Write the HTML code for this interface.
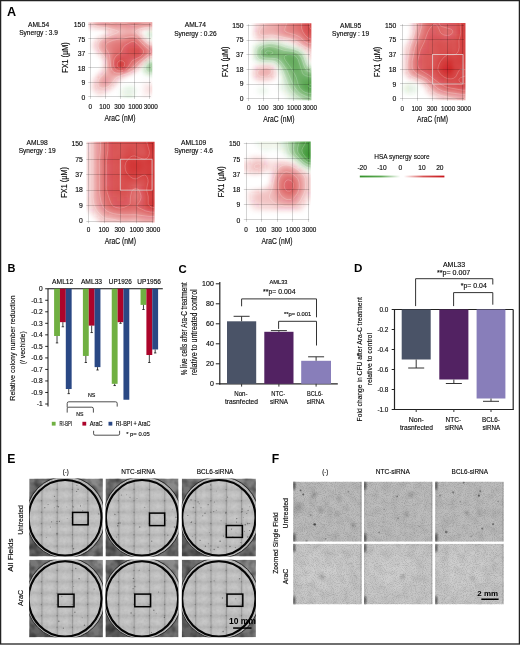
<!DOCTYPE html>
<html><head><meta charset="utf-8"><style>
html,body{margin:0;padding:0;background:#fff;}
svg{display:block;font-family:"Liberation Sans", sans-serif;will-change:transform;}
</style></head><body>
<svg width="520" height="645" viewBox="0 0 520 645">
<defs><clipPath id="clipAML54"><rect x="88.40" y="22.20" width="63.90" height="76.00"/></clipPath><clipPath id="clipAML74"><rect x="246.70" y="23.30" width="64.70" height="77.00"/></clipPath><clipPath id="clipAML95"><rect x="400.20" y="23.10" width="65.30" height="77.10"/></clipPath><clipPath id="clipAML98"><rect x="86.50" y="141.80" width="68.10" height="80.75"/></clipPath><clipPath id="clipAML109"><rect x="244.00" y="141.50" width="66.70" height="79.70"/></clipPath><linearGradient id="lg" x1="0" x2="1" y1="0" y2="0"><stop offset="0" stop-color="rgb(50,145,40)"/><stop offset="0.25" stop-color="rgb(95,170,85)"/><stop offset="0.48" stop-color="#fff"/><stop offset="0.52" stop-color="#fff"/><stop offset="0.75" stop-color="rgb(215,85,85)"/><stop offset="1" stop-color="rgb(200,20,25)"/></linearGradient><filter id="hmblur" x="-20%" y="-20%" width="140%" height="140%"><feGaussianBlur stdDeviation="2.0"/></filter><filter id="b1" x="-50%" y="-50%" width="200%" height="200%"><feGaussianBlur stdDeviation="1"/></filter><filter id="b2" x="-50%" y="-50%" width="200%" height="200%"><feGaussianBlur stdDeviation="2.2"/></filter><filter id="b05" x="-50%" y="-50%" width="200%" height="200%"><feGaussianBlur stdDeviation="0.5"/></filter><filter id="nz" x="0" y="0" width="100%" height="100%"><feTurbulence type="fractalNoise" baseFrequency="0.7" numOctaves="2" seed="7"/><feColorMatrix type="matrix" values="0 0 0 0 0 0 0 0 0 0 0 0 0 0 0 1.0 0 0 0 -0.35"/></filter><filter id="nzf" x="0" y="0" width="100%" height="100%"><feTurbulence type="fractalNoise" baseFrequency="1.1" numOctaves="1" seed="5"/><feColorMatrix type="matrix" values="0 0 0 0 0 0 0 0 0 0 0 0 0 0 0 1.6 0 0 0 -0.7"/></filter><filter id="b6" x="-50%" y="-50%" width="200%" height="200%"><feGaussianBlur stdDeviation="6"/></filter><filter id="nz3" x="0" y="0" width="100%" height="100%"><feTurbulence type="fractalNoise" baseFrequency="0.35" numOctaves="2" seed="11"/><feColorMatrix type="matrix" values="0 0 0 0 0 0 0 0 0 0 0 0 0 0 0 1.0 0 0 0 -0.38"/></filter><filter id="nz2" x="0" y="0" width="100%" height="100%"><feTurbulence type="fractalNoise" baseFrequency="0.12" numOctaves="2" seed="3"/><feColorMatrix type="matrix" values="0 0 0 0 0 0 0 0 0 0 0 0 0 0 0 1.2 0 0 0 -0.45"/></filter><radialGradient id="tileg" cx="0.55" cy="0.5" r="0.6"><stop offset="0" stop-color="#fff" stop-opacity="0.2"/><stop offset="0.5" stop-color="#fff" stop-opacity="0.05"/><stop offset="1" stop-color="#000" stop-opacity="0.07"/></radialGradient><linearGradient id="dishbg" x1="1" y1="0" x2="0" y2="1"><stop offset="0" stop-color="#8e8e8e"/><stop offset="1" stop-color="#5e5e5e"/></linearGradient><clipPath id="dc10"><rect x="29.20" y="478.60" width="73.70" height="77.80"/></clipPath><clipPath id="di10"><ellipse cx="65.05" cy="517.80" rx="36.25" ry="37.60"/></clipPath><pattern id="tp10" patternUnits="userSpaceOnUse" x="41.45" y="489.50" width="15.3" height="11.35"><rect width="15.3" height="11.35" fill="url(#tileg)"/><rect width="1.1" height="11.35" fill="#000" fill-opacity="0.13"/><rect x="1.1" width="3" height="11.35" fill="#fff" fill-opacity="0.07"/></pattern><clipPath id="dc11"><rect x="105.50" y="478.60" width="73.00" height="77.80"/></clipPath><clipPath id="di11"><ellipse cx="142.00" cy="517.80" rx="35.90" ry="37.60"/></clipPath><pattern id="tp11" patternUnits="userSpaceOnUse" x="118.40" y="489.50" width="15.3" height="11.35"><rect width="15.3" height="11.35" fill="url(#tileg)"/><rect width="1.1" height="11.35" fill="#000" fill-opacity="0.13"/><rect x="1.1" width="3" height="11.35" fill="#fff" fill-opacity="0.07"/></pattern><clipPath id="dc12"><rect x="181.80" y="478.60" width="74.10" height="77.80"/></clipPath><clipPath id="di12"><ellipse cx="218.85" cy="517.80" rx="36.45" ry="37.60"/></clipPath><pattern id="tp12" patternUnits="userSpaceOnUse" x="195.25" y="489.50" width="15.3" height="11.35"><rect width="15.3" height="11.35" fill="url(#tileg)"/><rect width="1.1" height="11.35" fill="#000" fill-opacity="0.13"/><rect x="1.1" width="3" height="11.35" fill="#fff" fill-opacity="0.07"/></pattern><clipPath id="dc13"><rect x="29.20" y="559.80" width="73.70" height="77.50"/></clipPath><clipPath id="di13"><ellipse cx="65.05" cy="598.85" rx="36.25" ry="37.45"/></clipPath><pattern id="tp13" patternUnits="userSpaceOnUse" x="41.45" y="570.55" width="15.3" height="11.35"><rect width="15.3" height="11.35" fill="url(#tileg)"/><rect width="1.1" height="11.35" fill="#000" fill-opacity="0.13"/><rect x="1.1" width="3" height="11.35" fill="#fff" fill-opacity="0.07"/></pattern><clipPath id="dc14"><rect x="105.50" y="559.80" width="73.00" height="77.50"/></clipPath><clipPath id="di14"><ellipse cx="142.00" cy="598.85" rx="35.90" ry="37.45"/></clipPath><pattern id="tp14" patternUnits="userSpaceOnUse" x="118.40" y="570.55" width="15.3" height="11.35"><rect width="15.3" height="11.35" fill="url(#tileg)"/><rect width="1.1" height="11.35" fill="#000" fill-opacity="0.13"/><rect x="1.1" width="3" height="11.35" fill="#fff" fill-opacity="0.07"/></pattern><clipPath id="dc15"><rect x="181.80" y="559.80" width="74.10" height="77.50"/></clipPath><clipPath id="di15"><ellipse cx="218.85" cy="598.85" rx="36.45" ry="37.45"/></clipPath><pattern id="tp15" patternUnits="userSpaceOnUse" x="195.25" y="570.55" width="15.3" height="11.35"><rect width="15.3" height="11.35" fill="url(#tileg)"/><rect width="1.1" height="11.35" fill="#000" fill-opacity="0.13"/><rect x="1.1" width="3" height="11.35" fill="#fff" fill-opacity="0.07"/></pattern><clipPath id="fc30"><rect x="293.20" y="481.60" width="68.60" height="60.10"/></clipPath><clipPath id="fc40"><rect x="293.20" y="543.80" width="68.60" height="60.60"/></clipPath><clipPath id="fc31"><rect x="364.10" y="481.60" width="68.50" height="60.10"/></clipPath><clipPath id="fc41"><rect x="364.10" y="543.80" width="68.50" height="60.60"/></clipPath><clipPath id="fc32"><rect x="435.20" y="481.60" width="68.60" height="60.10"/></clipPath><clipPath id="fc42"><rect x="435.20" y="543.80" width="68.60" height="60.60"/></clipPath></defs>
<rect width="520" height="645" fill="#fff"/>
<g clip-path="url(#clipAML54)"><g fill="rgb(206, 30, 32)" filter="url(#hmblur)"><rect x="84.5" y="18.4" width="3.7" height="3.6" fill-opacity="0.21"/><rect x="88.0" y="18.4" width="3.7" height="3.6" fill-opacity="0.22"/><rect x="91.6" y="18.4" width="3.7" height="3.6" fill-opacity="0.30"/><rect x="95.2" y="18.4" width="3.7" height="3.6" fill-opacity="0.41"/><rect x="98.7" y="18.4" width="3.7" height="3.6" fill-opacity="0.46"/><rect x="102.3" y="18.4" width="3.7" height="3.6" fill-opacity="0.47"/><rect x="105.8" y="18.4" width="3.7" height="3.6" fill-opacity="0.49"/><rect x="109.4" y="18.4" width="3.7" height="3.6" fill-opacity="0.52"/><rect x="113.0" y="18.4" width="3.7" height="3.6" fill-opacity="0.53"/><rect x="116.5" y="18.4" width="3.7" height="3.6" fill-opacity="0.52"/><rect x="120.1" y="18.4" width="3.7" height="3.6" fill-opacity="0.51"/><rect x="123.7" y="18.4" width="3.7" height="3.6" fill-opacity="0.51"/><rect x="127.2" y="18.4" width="3.7" height="3.6" fill-opacity="0.53"/><rect x="130.8" y="18.4" width="3.7" height="3.6" fill-opacity="0.56"/><rect x="134.4" y="18.4" width="3.7" height="3.6" fill-opacity="0.57"/><rect x="137.9" y="18.4" width="3.7" height="3.6" fill-opacity="0.55"/><rect x="141.5" y="18.4" width="3.7" height="3.6" fill-opacity="0.53"/><rect x="145.0" y="18.4" width="3.7" height="3.6" fill-opacity="0.53"/><rect x="148.6" y="18.4" width="3.7" height="3.6" fill-opacity="0.54"/><rect x="152.2" y="18.4" width="3.7" height="3.6" fill-opacity="0.54"/><rect x="84.5" y="21.9" width="3.7" height="3.6" fill-opacity="0.20"/><rect x="88.0" y="21.9" width="3.7" height="3.6" fill-opacity="0.21"/><rect x="91.6" y="21.9" width="3.7" height="3.6" fill-opacity="0.29"/><rect x="95.2" y="21.9" width="3.7" height="3.6" fill-opacity="0.39"/><rect x="98.7" y="21.9" width="3.7" height="3.6" fill-opacity="0.44"/><rect x="102.3" y="21.9" width="3.7" height="3.6" fill-opacity="0.45"/><rect x="105.8" y="21.9" width="3.7" height="3.6" fill-opacity="0.47"/><rect x="109.4" y="21.9" width="3.7" height="3.6" fill-opacity="0.50"/><rect x="113.0" y="21.9" width="3.7" height="3.6" fill-opacity="0.51"/><rect x="116.5" y="21.9" width="3.7" height="3.6" fill-opacity="0.51"/><rect x="120.1" y="21.9" width="3.7" height="3.6" fill-opacity="0.50"/><rect x="123.7" y="21.9" width="3.7" height="3.6" fill-opacity="0.50"/><rect x="127.2" y="21.9" width="3.7" height="3.6" fill-opacity="0.52"/><rect x="130.8" y="21.9" width="3.7" height="3.6" fill-opacity="0.55"/><rect x="134.4" y="21.9" width="3.7" height="3.6" fill-opacity="0.56"/><rect x="137.9" y="21.9" width="3.7" height="3.6" fill-opacity="0.53"/><rect x="141.5" y="21.9" width="3.7" height="3.6" fill-opacity="0.51"/><rect x="145.0" y="21.9" width="3.7" height="3.6" fill-opacity="0.51"/><rect x="148.6" y="21.9" width="3.7" height="3.6" fill-opacity="0.52"/><rect x="152.2" y="21.9" width="3.7" height="3.6" fill-opacity="0.52"/><rect x="84.5" y="25.4" width="3.7" height="3.6" fill-opacity="0.10"/><rect x="88.0" y="25.4" width="3.7" height="3.6" fill-opacity="0.11"/><rect x="91.6" y="25.4" width="3.7" height="3.6" fill-opacity="0.16"/><rect x="95.2" y="25.4" width="3.7" height="3.6" fill-opacity="0.23"/><rect x="98.7" y="25.4" width="3.7" height="3.6" fill-opacity="0.27"/><rect x="102.3" y="25.4" width="3.7" height="3.6" fill-opacity="0.29"/><rect x="105.8" y="25.4" width="3.7" height="3.6" fill-opacity="0.32"/><rect x="109.4" y="25.4" width="3.7" height="3.6" fill-opacity="0.36"/><rect x="113.0" y="25.4" width="3.7" height="3.6" fill-opacity="0.39"/><rect x="116.5" y="25.4" width="3.7" height="3.6" fill-opacity="0.40"/><rect x="120.1" y="25.4" width="3.7" height="3.6" fill-opacity="0.40"/><rect x="123.7" y="25.4" width="3.7" height="3.6" fill-opacity="0.41"/><rect x="127.2" y="25.4" width="3.7" height="3.6" fill-opacity="0.43"/><rect x="130.8" y="25.4" width="3.7" height="3.6" fill-opacity="0.43"/><rect x="134.4" y="25.4" width="3.7" height="3.6" fill-opacity="0.41"/><rect x="137.9" y="25.4" width="3.7" height="3.6" fill-opacity="0.37"/><rect x="141.5" y="25.4" width="3.7" height="3.6" fill-opacity="0.33"/><rect x="145.0" y="25.4" width="3.7" height="3.6" fill-opacity="0.29"/><rect x="148.6" y="25.4" width="3.7" height="3.6" fill-opacity="0.28"/><rect x="152.2" y="25.4" width="3.7" height="3.6" fill-opacity="0.27"/><rect x="105.8" y="28.9" width="3.7" height="3.6" fill-opacity="0.12"/><rect x="109.4" y="28.9" width="3.7" height="3.6" fill-opacity="0.20"/><rect x="113.0" y="28.9" width="3.7" height="3.6" fill-opacity="0.24"/><rect x="116.5" y="28.9" width="3.7" height="3.6" fill-opacity="0.27"/><rect x="120.1" y="28.9" width="3.7" height="3.6" fill-opacity="0.30"/><rect x="123.7" y="28.9" width="3.7" height="3.6" fill-opacity="0.33"/><rect x="127.2" y="28.9" width="3.7" height="3.6" fill-opacity="0.34"/><rect x="130.8" y="28.9" width="3.7" height="3.6" fill-opacity="0.31"/><rect x="134.4" y="28.9" width="3.7" height="3.6" fill-opacity="0.26"/><rect x="137.9" y="28.9" width="3.7" height="3.6" fill-opacity="0.17"/><rect x="102.3" y="32.5" width="3.7" height="3.6" fill-opacity="0.04"/><rect x="105.8" y="32.5" width="3.7" height="3.6" fill-opacity="0.15"/><rect x="109.4" y="32.5" width="3.7" height="3.6" fill-opacity="0.23"/><rect x="113.0" y="32.5" width="3.7" height="3.6" fill-opacity="0.28"/><rect x="116.5" y="32.5" width="3.7" height="3.6" fill-opacity="0.31"/><rect x="120.1" y="32.5" width="3.7" height="3.6" fill-opacity="0.34"/><rect x="123.7" y="32.5" width="3.7" height="3.6" fill-opacity="0.37"/><rect x="127.2" y="32.5" width="3.7" height="3.6" fill-opacity="0.39"/><rect x="130.8" y="32.5" width="3.7" height="3.6" fill-opacity="0.39"/><rect x="134.4" y="32.5" width="3.7" height="3.6" fill-opacity="0.33"/><rect x="137.9" y="32.5" width="3.7" height="3.6" fill-opacity="0.19"/><rect x="95.2" y="36.0" width="3.7" height="3.6" fill-opacity="0.04"/><rect x="98.7" y="36.0" width="3.7" height="3.6" fill-opacity="0.16"/><rect x="102.3" y="36.0" width="3.7" height="3.6" fill-opacity="0.26"/><rect x="105.8" y="36.0" width="3.7" height="3.6" fill-opacity="0.33"/><rect x="109.4" y="36.0" width="3.7" height="3.6" fill-opacity="0.39"/><rect x="113.0" y="36.0" width="3.7" height="3.6" fill-opacity="0.43"/><rect x="116.5" y="36.0" width="3.7" height="3.6" fill-opacity="0.45"/><rect x="120.1" y="36.0" width="3.7" height="3.6" fill-opacity="0.47"/><rect x="123.7" y="36.0" width="3.7" height="3.6" fill-opacity="0.49"/><rect x="127.2" y="36.0" width="3.7" height="3.6" fill-opacity="0.53"/><rect x="130.8" y="36.0" width="3.7" height="3.6" fill-opacity="0.56"/><rect x="134.4" y="36.0" width="3.7" height="3.6" fill-opacity="0.52"/><rect x="137.9" y="36.0" width="3.7" height="3.6" fill-opacity="0.38"/><rect x="141.5" y="36.0" width="3.7" height="3.6" fill-opacity="0.16"/><rect x="91.6" y="39.5" width="3.7" height="3.6" fill-opacity="0.05"/><rect x="95.2" y="39.5" width="3.7" height="3.6" fill-opacity="0.19"/><rect x="98.7" y="39.5" width="3.7" height="3.6" fill-opacity="0.30"/><rect x="102.3" y="39.5" width="3.7" height="3.6" fill-opacity="0.40"/><rect x="105.8" y="39.5" width="3.7" height="3.6" fill-opacity="0.47"/><rect x="109.4" y="39.5" width="3.7" height="3.6" fill-opacity="0.51"/><rect x="113.0" y="39.5" width="3.7" height="3.6" fill-opacity="0.54"/><rect x="116.5" y="39.5" width="3.7" height="3.6" fill-opacity="0.56"/><rect x="120.1" y="39.5" width="3.7" height="3.6" fill-opacity="0.58"/><rect x="123.7" y="39.5" width="3.7" height="3.6" fill-opacity="0.60"/><rect x="127.2" y="39.5" width="3.7" height="3.6" fill-opacity="0.65"/><rect x="130.8" y="39.5" width="3.7" height="3.6" fill-opacity="0.68"/><rect x="134.4" y="39.5" width="3.7" height="3.6" fill-opacity="0.65"/><rect x="137.9" y="39.5" width="3.7" height="3.6" fill-opacity="0.53"/><rect x="141.5" y="39.5" width="3.7" height="3.6" fill-opacity="0.35"/><rect x="145.0" y="39.5" width="3.7" height="3.6" fill-opacity="0.16"/><rect x="91.6" y="43.0" width="3.7" height="3.6" fill-opacity="0.11"/><rect x="95.2" y="43.0" width="3.7" height="3.6" fill-opacity="0.24"/><rect x="98.7" y="43.0" width="3.7" height="3.6" fill-opacity="0.36"/><rect x="102.3" y="43.0" width="3.7" height="3.6" fill-opacity="0.46"/><rect x="105.8" y="43.0" width="3.7" height="3.6" fill-opacity="0.53"/><rect x="109.4" y="43.0" width="3.7" height="3.6" fill-opacity="0.57"/><rect x="113.0" y="43.0" width="3.7" height="3.6" fill-opacity="0.60"/><rect x="116.5" y="43.0" width="3.7" height="3.6" fill-opacity="0.61"/><rect x="120.1" y="43.0" width="3.7" height="3.6" fill-opacity="0.64"/><rect x="123.7" y="43.0" width="3.7" height="3.6" fill-opacity="0.68"/><rect x="127.2" y="43.0" width="3.7" height="3.6" fill-opacity="0.72"/><rect x="130.8" y="43.0" width="3.7" height="3.6" fill-opacity="0.75"/><rect x="134.4" y="43.0" width="3.7" height="3.6" fill-opacity="0.73"/><rect x="137.9" y="43.0" width="3.7" height="3.6" fill-opacity="0.64"/><rect x="141.5" y="43.0" width="3.7" height="3.6" fill-opacity="0.51"/><rect x="145.0" y="43.0" width="3.7" height="3.6" fill-opacity="0.36"/><rect x="148.6" y="43.0" width="3.7" height="3.6" fill-opacity="0.26"/><rect x="152.2" y="43.0" width="3.7" height="3.6" fill-opacity="0.24"/><rect x="91.6" y="46.5" width="3.7" height="3.6" fill-opacity="0.09"/><rect x="95.2" y="46.5" width="3.7" height="3.6" fill-opacity="0.22"/><rect x="98.7" y="46.5" width="3.7" height="3.6" fill-opacity="0.35"/><rect x="102.3" y="46.5" width="3.7" height="3.6" fill-opacity="0.46"/><rect x="105.8" y="46.5" width="3.7" height="3.6" fill-opacity="0.53"/><rect x="109.4" y="46.5" width="3.7" height="3.6" fill-opacity="0.58"/><rect x="113.0" y="46.5" width="3.7" height="3.6" fill-opacity="0.61"/><rect x="116.5" y="46.5" width="3.7" height="3.6" fill-opacity="0.63"/><rect x="120.1" y="46.5" width="3.7" height="3.6" fill-opacity="0.67"/><rect x="123.7" y="46.5" width="3.7" height="3.6" fill-opacity="0.72"/><rect x="127.2" y="46.5" width="3.7" height="3.6" fill-opacity="0.77"/><rect x="130.8" y="46.5" width="3.7" height="3.6" fill-opacity="0.81"/><rect x="134.4" y="46.5" width="3.7" height="3.6" fill-opacity="0.80"/><rect x="137.9" y="46.5" width="3.7" height="3.6" fill-opacity="0.74"/><rect x="141.5" y="46.5" width="3.7" height="3.6" fill-opacity="0.64"/><rect x="145.0" y="46.5" width="3.7" height="3.6" fill-opacity="0.52"/><rect x="148.6" y="46.5" width="3.7" height="3.6" fill-opacity="0.43"/><rect x="152.2" y="46.5" width="3.7" height="3.6" fill-opacity="0.42"/><rect x="95.2" y="50.0" width="3.7" height="3.6" fill-opacity="0.14"/><rect x="98.7" y="50.0" width="3.7" height="3.6" fill-opacity="0.27"/><rect x="102.3" y="50.0" width="3.7" height="3.6" fill-opacity="0.39"/><rect x="105.8" y="50.0" width="3.7" height="3.6" fill-opacity="0.49"/><rect x="109.4" y="50.0" width="3.7" height="3.6" fill-opacity="0.57"/><rect x="113.0" y="50.0" width="3.7" height="3.6" fill-opacity="0.62"/><rect x="116.5" y="50.0" width="3.7" height="3.6" fill-opacity="0.65"/><rect x="120.1" y="50.0" width="3.7" height="3.6" fill-opacity="0.69"/><rect x="123.7" y="50.0" width="3.7" height="3.6" fill-opacity="0.73"/><rect x="127.2" y="50.0" width="3.7" height="3.6" fill-opacity="0.79"/><rect x="130.8" y="50.0" width="3.7" height="3.6" fill-opacity="0.84"/><rect x="134.4" y="50.0" width="3.7" height="3.6" fill-opacity="0.85"/><rect x="137.9" y="50.0" width="3.7" height="3.6" fill-opacity="0.80"/><rect x="141.5" y="50.0" width="3.7" height="3.6" fill-opacity="0.70"/><rect x="145.0" y="50.0" width="3.7" height="3.6" fill-opacity="0.59"/><rect x="148.6" y="50.0" width="3.7" height="3.6" fill-opacity="0.51"/><rect x="152.2" y="50.0" width="3.7" height="3.6" fill-opacity="0.50"/><rect x="98.7" y="53.5" width="3.7" height="3.6" fill-opacity="0.16"/><rect x="102.3" y="53.5" width="3.7" height="3.6" fill-opacity="0.29"/><rect x="105.8" y="53.5" width="3.7" height="3.6" fill-opacity="0.43"/><rect x="109.4" y="53.5" width="3.7" height="3.6" fill-opacity="0.56"/><rect x="113.0" y="53.5" width="3.7" height="3.6" fill-opacity="0.65"/><rect x="116.5" y="53.5" width="3.7" height="3.6" fill-opacity="0.70"/><rect x="120.1" y="53.5" width="3.7" height="3.6" fill-opacity="0.73"/><rect x="123.7" y="53.5" width="3.7" height="3.6" fill-opacity="0.75"/><rect x="127.2" y="53.5" width="3.7" height="3.6" fill-opacity="0.78"/><rect x="130.8" y="53.5" width="3.7" height="3.6" fill-opacity="0.81"/><rect x="134.4" y="53.5" width="3.7" height="3.6" fill-opacity="0.81"/><rect x="137.9" y="53.5" width="3.7" height="3.6" fill-opacity="0.75"/><rect x="141.5" y="53.5" width="3.7" height="3.6" fill-opacity="0.65"/><rect x="145.0" y="53.5" width="3.7" height="3.6" fill-opacity="0.50"/><rect x="148.6" y="53.5" width="3.7" height="3.6" fill-opacity="0.39"/><rect x="152.2" y="53.5" width="3.7" height="3.6" fill-opacity="0.38"/><rect x="102.3" y="57.0" width="3.7" height="3.6" fill-opacity="0.18"/><rect x="105.8" y="57.0" width="3.7" height="3.6" fill-opacity="0.37"/><rect x="109.4" y="57.0" width="3.7" height="3.6" fill-opacity="0.56"/><rect x="113.0" y="57.0" width="3.7" height="3.6" fill-opacity="0.70"/><rect x="116.5" y="57.0" width="3.7" height="3.6" fill-opacity="0.78"/><rect x="120.1" y="57.0" width="3.7" height="3.6" fill-opacity="0.80"/><rect x="123.7" y="57.0" width="3.7" height="3.6" fill-opacity="0.78"/><rect x="127.2" y="57.0" width="3.7" height="3.6" fill-opacity="0.75"/><rect x="130.8" y="57.0" width="3.7" height="3.6" fill-opacity="0.73"/><rect x="134.4" y="57.0" width="3.7" height="3.6" fill-opacity="0.68"/><rect x="137.9" y="57.0" width="3.7" height="3.6" fill-opacity="0.61"/><rect x="141.5" y="57.0" width="3.7" height="3.6" fill-opacity="0.46"/><rect x="145.0" y="57.0" width="3.7" height="3.6" fill-opacity="0.23"/><rect x="102.3" y="60.5" width="3.7" height="3.6" fill-opacity="0.11"/><rect x="105.8" y="60.5" width="3.7" height="3.6" fill-opacity="0.34"/><rect x="109.4" y="60.5" width="3.7" height="3.6" fill-opacity="0.56"/><rect x="113.0" y="60.5" width="3.7" height="3.6" fill-opacity="0.75"/><rect x="116.5" y="60.5" width="3.7" height="3.6" fill-opacity="0.87"/><rect x="120.1" y="60.5" width="3.7" height="3.6" fill-opacity="0.89"/><rect x="123.7" y="60.5" width="3.7" height="3.6" fill-opacity="0.82"/><rect x="127.2" y="60.5" width="3.7" height="3.6" fill-opacity="0.73"/><rect x="130.8" y="60.5" width="3.7" height="3.6" fill-opacity="0.64"/><rect x="134.4" y="60.5" width="3.7" height="3.6" fill-opacity="0.55"/><rect x="137.9" y="60.5" width="3.7" height="3.6" fill-opacity="0.42"/><rect x="141.5" y="60.5" width="3.7" height="3.6" fill-opacity="0.19"/><rect x="102.3" y="64.0" width="3.7" height="3.6" fill-opacity="0.12"/><rect x="105.8" y="64.0" width="3.7" height="3.6" fill-opacity="0.32"/><rect x="109.4" y="64.0" width="3.7" height="3.6" fill-opacity="0.54"/><rect x="113.0" y="64.0" width="3.7" height="3.6" fill-opacity="0.74"/><rect x="116.5" y="64.0" width="3.7" height="3.6" fill-opacity="0.90"/><rect x="120.1" y="64.0" width="3.7" height="3.6" fill-opacity="0.92"/><rect x="123.7" y="64.0" width="3.7" height="3.6" fill-opacity="0.82"/><rect x="127.2" y="64.0" width="3.7" height="3.6" fill-opacity="0.69"/><rect x="130.8" y="64.0" width="3.7" height="3.6" fill-opacity="0.56"/><rect x="134.4" y="64.0" width="3.7" height="3.6" fill-opacity="0.42"/><rect x="137.9" y="64.0" width="3.7" height="3.6" fill-opacity="0.22"/><rect x="102.3" y="67.5" width="3.7" height="3.6" fill-opacity="0.18"/><rect x="105.8" y="67.5" width="3.7" height="3.6" fill-opacity="0.33"/><rect x="109.4" y="67.5" width="3.7" height="3.6" fill-opacity="0.49"/><rect x="113.0" y="67.5" width="3.7" height="3.6" fill-opacity="0.66"/><rect x="116.5" y="67.5" width="3.7" height="3.6" fill-opacity="0.79"/><rect x="120.1" y="67.5" width="3.7" height="3.6" fill-opacity="0.80"/><rect x="123.7" y="67.5" width="3.7" height="3.6" fill-opacity="0.69"/><rect x="127.2" y="67.5" width="3.7" height="3.6" fill-opacity="0.54"/><rect x="130.8" y="67.5" width="3.7" height="3.6" fill-opacity="0.41"/><rect x="134.4" y="67.5" width="3.7" height="3.6" fill-opacity="0.26"/><rect x="98.7" y="71.0" width="3.7" height="3.6" fill-opacity="0.14"/><rect x="102.3" y="71.0" width="3.7" height="3.6" fill-opacity="0.25"/><rect x="105.8" y="71.0" width="3.7" height="3.6" fill-opacity="0.34"/><rect x="109.4" y="71.0" width="3.7" height="3.6" fill-opacity="0.42"/><rect x="113.0" y="71.0" width="3.7" height="3.6" fill-opacity="0.50"/><rect x="116.5" y="71.0" width="3.7" height="3.6" fill-opacity="0.54"/><rect x="120.1" y="71.0" width="3.7" height="3.6" fill-opacity="0.51"/><rect x="123.7" y="71.0" width="3.7" height="3.6" fill-opacity="0.40"/><rect x="127.2" y="71.0" width="3.7" height="3.6" fill-opacity="0.27"/><rect x="130.8" y="71.0" width="3.7" height="3.6" fill-opacity="0.15"/><rect x="95.2" y="74.5" width="3.7" height="3.6" fill-opacity="0.13"/><rect x="98.7" y="74.5" width="3.7" height="3.6" fill-opacity="0.26"/><rect x="102.3" y="74.5" width="3.7" height="3.6" fill-opacity="0.35"/><rect x="105.8" y="74.5" width="3.7" height="3.6" fill-opacity="0.39"/><rect x="109.4" y="74.5" width="3.7" height="3.6" fill-opacity="0.38"/><rect x="113.0" y="74.5" width="3.7" height="3.6" fill-opacity="0.34"/><rect x="116.5" y="74.5" width="3.7" height="3.6" fill-opacity="0.28"/><rect x="120.1" y="74.5" width="3.7" height="3.6" fill-opacity="0.20"/><rect x="123.7" y="74.5" width="3.7" height="3.6" fill-opacity="0.10"/><rect x="91.6" y="78.0" width="3.7" height="3.6" fill-opacity="0.07"/><rect x="95.2" y="78.0" width="3.7" height="3.6" fill-opacity="0.21"/><rect x="98.7" y="78.0" width="3.7" height="3.6" fill-opacity="0.34"/><rect x="102.3" y="78.0" width="3.7" height="3.6" fill-opacity="0.43"/><rect x="105.8" y="78.0" width="3.7" height="3.6" fill-opacity="0.43"/><rect x="109.4" y="78.0" width="3.7" height="3.6" fill-opacity="0.36"/><rect x="113.0" y="78.0" width="3.7" height="3.6" fill-opacity="0.25"/><rect x="116.5" y="78.0" width="3.7" height="3.6" fill-opacity="0.14"/><rect x="120.1" y="78.0" width="3.7" height="3.6" fill-opacity="0.03"/><rect x="91.6" y="81.5" width="3.7" height="3.6" fill-opacity="0.12"/><rect x="95.2" y="81.5" width="3.7" height="3.6" fill-opacity="0.25"/><rect x="98.7" y="81.5" width="3.7" height="3.6" fill-opacity="0.36"/><rect x="102.3" y="81.5" width="3.7" height="3.6" fill-opacity="0.43"/><rect x="105.8" y="81.5" width="3.7" height="3.6" fill-opacity="0.40"/><rect x="109.4" y="81.5" width="3.7" height="3.6" fill-opacity="0.30"/><rect x="113.0" y="81.5" width="3.7" height="3.6" fill-opacity="0.18"/><rect x="116.5" y="81.5" width="3.7" height="3.6" fill-opacity="0.05"/><rect x="141.5" y="81.5" width="3.7" height="3.6" fill-opacity="0.03"/><rect x="145.0" y="81.5" width="3.7" height="3.6" fill-opacity="0.05"/><rect x="148.6" y="81.5" width="3.7" height="3.6" fill-opacity="0.04"/><rect x="152.2" y="81.5" width="3.7" height="3.6" fill-opacity="0.04"/><rect x="88.0" y="85.0" width="3.7" height="3.6" fill-opacity="0.03"/><rect x="91.6" y="85.0" width="3.7" height="3.6" fill-opacity="0.13"/><rect x="95.2" y="85.0" width="3.7" height="3.6" fill-opacity="0.23"/><rect x="98.7" y="85.0" width="3.7" height="3.6" fill-opacity="0.31"/><rect x="102.3" y="85.0" width="3.7" height="3.6" fill-opacity="0.33"/><rect x="105.8" y="85.0" width="3.7" height="3.6" fill-opacity="0.29"/><rect x="109.4" y="85.0" width="3.7" height="3.6" fill-opacity="0.19"/><rect x="113.0" y="85.0" width="3.7" height="3.6" fill-opacity="0.05"/><rect x="141.5" y="85.0" width="3.7" height="3.6" fill-opacity="0.04"/><rect x="145.0" y="85.0" width="3.7" height="3.6" fill-opacity="0.10"/><rect x="148.6" y="85.0" width="3.7" height="3.6" fill-opacity="0.11"/><rect x="152.2" y="85.0" width="3.7" height="3.6" fill-opacity="0.12"/><rect x="91.6" y="88.5" width="3.7" height="3.6" fill-opacity="0.09"/><rect x="95.2" y="88.5" width="3.7" height="3.6" fill-opacity="0.18"/><rect x="98.7" y="88.5" width="3.7" height="3.6" fill-opacity="0.21"/><rect x="102.3" y="88.5" width="3.7" height="3.6" fill-opacity="0.19"/><rect x="105.8" y="88.5" width="3.7" height="3.6" fill-opacity="0.14"/><rect x="109.4" y="88.5" width="3.7" height="3.6" fill-opacity="0.04"/><rect x="141.5" y="88.5" width="3.7" height="3.6" fill-opacity="0.05"/><rect x="145.0" y="88.5" width="3.7" height="3.6" fill-opacity="0.11"/><rect x="148.6" y="88.5" width="3.7" height="3.6" fill-opacity="0.13"/><rect x="152.2" y="88.5" width="3.7" height="3.6" fill-opacity="0.13"/><rect x="95.2" y="92.0" width="3.7" height="3.6" fill-opacity="0.08"/><rect x="98.7" y="92.0" width="3.7" height="3.6" fill-opacity="0.11"/><rect x="102.3" y="92.0" width="3.7" height="3.6" fill-opacity="0.08"/><rect x="141.5" y="92.0" width="3.7" height="3.6" fill-opacity="0.04"/><rect x="145.0" y="92.0" width="3.7" height="3.6" fill-opacity="0.07"/><rect x="148.6" y="92.0" width="3.7" height="3.6" fill-opacity="0.07"/><rect x="152.2" y="92.0" width="3.7" height="3.6" fill-opacity="0.07"/><rect x="98.7" y="95.5" width="3.7" height="3.6" fill-opacity="0.03"/><rect x="141.5" y="95.5" width="3.7" height="3.6" fill-opacity="0.03"/><rect x="145.0" y="95.5" width="3.7" height="3.6" fill-opacity="0.03"/><rect x="141.5" y="99.0" width="3.7" height="3.6" fill-opacity="0.03"/><rect x="145.0" y="99.0" width="3.7" height="3.6" fill-opacity="0.02"/></g><g fill="rgb(50, 145, 40)" filter="url(#hmblur)"><rect x="148.6" y="28.9" width="3.7" height="3.6" fill-opacity="0.06"/><rect x="152.2" y="28.9" width="3.7" height="3.6" fill-opacity="0.07"/><rect x="145.0" y="32.5" width="3.7" height="3.6" fill-opacity="0.12"/><rect x="148.6" y="32.5" width="3.7" height="3.6" fill-opacity="0.22"/><rect x="152.2" y="32.5" width="3.7" height="3.6" fill-opacity="0.23"/><rect x="148.6" y="36.0" width="3.7" height="3.6" fill-opacity="0.11"/><rect x="152.2" y="36.0" width="3.7" height="3.6" fill-opacity="0.13"/><rect x="145.0" y="60.5" width="3.7" height="3.6" fill-opacity="0.11"/><rect x="148.6" y="60.5" width="3.7" height="3.6" fill-opacity="0.32"/><rect x="152.2" y="60.5" width="3.7" height="3.6" fill-opacity="0.34"/><rect x="145.0" y="64.0" width="3.7" height="3.6" fill-opacity="0.35"/><rect x="148.6" y="64.0" width="3.7" height="3.6" fill-opacity="0.50"/><rect x="152.2" y="64.0" width="3.7" height="3.6" fill-opacity="0.51"/><rect x="141.5" y="67.5" width="3.7" height="3.6" fill-opacity="0.14"/><rect x="145.0" y="67.5" width="3.7" height="3.6" fill-opacity="0.36"/><rect x="148.6" y="67.5" width="3.7" height="3.6" fill-opacity="0.48"/><rect x="152.2" y="67.5" width="3.7" height="3.6" fill-opacity="0.49"/><rect x="141.5" y="71.0" width="3.7" height="3.6" fill-opacity="0.03"/><rect x="145.0" y="71.0" width="3.7" height="3.6" fill-opacity="0.21"/><rect x="148.6" y="71.0" width="3.7" height="3.6" fill-opacity="0.29"/><rect x="152.2" y="71.0" width="3.7" height="3.6" fill-opacity="0.30"/><rect x="148.6" y="74.5" width="3.7" height="3.6" fill-opacity="0.04"/><rect x="152.2" y="74.5" width="3.7" height="3.6" fill-opacity="0.05"/><rect x="123.7" y="85.0" width="3.7" height="3.6" fill-opacity="0.03"/><rect x="127.2" y="85.0" width="3.7" height="3.6" fill-opacity="0.06"/><rect x="130.8" y="85.0" width="3.7" height="3.6" fill-opacity="0.05"/><rect x="120.1" y="88.5" width="3.7" height="3.6" fill-opacity="0.07"/><rect x="123.7" y="88.5" width="3.7" height="3.6" fill-opacity="0.12"/><rect x="127.2" y="88.5" width="3.7" height="3.6" fill-opacity="0.14"/><rect x="130.8" y="88.5" width="3.7" height="3.6" fill-opacity="0.13"/><rect x="134.4" y="88.5" width="3.7" height="3.6" fill-opacity="0.04"/><rect x="120.1" y="92.0" width="3.7" height="3.6" fill-opacity="0.07"/><rect x="123.7" y="92.0" width="3.7" height="3.6" fill-opacity="0.11"/><rect x="127.2" y="92.0" width="3.7" height="3.6" fill-opacity="0.12"/><rect x="130.8" y="92.0" width="3.7" height="3.6" fill-opacity="0.11"/><rect x="120.1" y="95.5" width="3.7" height="3.6" fill-opacity="0.03"/><rect x="123.7" y="95.5" width="3.7" height="3.6" fill-opacity="0.06"/><rect x="127.2" y="95.5" width="3.7" height="3.6" fill-opacity="0.08"/><rect x="130.8" y="95.5" width="3.7" height="3.6" fill-opacity="0.06"/><rect x="120.1" y="99.0" width="3.7" height="3.6" fill-opacity="0.03"/><rect x="123.7" y="99.0" width="3.7" height="3.6" fill-opacity="0.06"/><rect x="127.2" y="99.0" width="3.7" height="3.6" fill-opacity="0.07"/><rect x="130.8" y="99.0" width="3.7" height="3.6" fill-opacity="0.05"/></g><path d="M164.6 56.7L151.9 56.4L148.4 57.3L146.1 58.8L142.2 62.2L136.9 68.2L134.5 70.1L126.5 73.8L117.2 77.0L115.4 78.1L111.5 83.8L109.0 86.1L106.8 87.3L104.5 88.0L102.2 88.1L99.8 87.5L98.7 86.4L98.0 85.0L98.0 81.5L99.8 77.7L104.0 73.6L105.6 71.3L106.3 69.0L106.7 64.4L106.3 61.0L105.2 57.6L99.9 50.8L98.6 48.5L97.9 46.2L98.2 43.9L99.3 41.6L102.2 39.1L105.6 37.3L118.1 32.5L118.5 31.4L115.7 30.2L107.2 27.9L97.5 26.5L95.3 25.7L93.7 24.5L92.8 23.4L92.3 21.1L93.3 15.4L93.1 9.7M164.6 27.2L150.8 27.2L145.0 27.6L139.2 29.1L136.7 30.2L135.7 31.4L136.1 32.5L145.0 41.4L147.3 43.3L149.6 44.6L153.1 45.2L158.9 44.7L164.6 44.8M164.6 23.8L143.8 23.7L136.9 25.2L133.4 25.4L131.1 25.1L125.3 23.4L116.1 24.1L111.0 23.4L108.8 22.2L108.3 21.1L108.9 20.0L114.5 15.4L115.3 14.3L113.7 11.7L113.1 9.7M119.9 9.7L119.5 10.8L117.2 14.3L118.1 15.4L119.9 16.5L124.2 18.2L126.5 17.4L127.6 15.8L127.9 14.3L127.3 9.7M142.6 9.7L141.5 14.3L141.7 15.4L142.6 16.5L143.8 17.1L146.1 17.2L151.9 16.4L164.6 16.6M155.2 9.7L153.1 10.1L151.1 9.7M123.0 72.5L119.5 73.2L116.1 73.0L113.7 72.2L111.8 70.1L110.7 66.7L109.4 55.3L108.6 53.0L106.0 48.5L105.5 46.2L105.7 45.1L106.3 43.9L107.9 42.4L112.6 40.4L129.9 36.7L132.2 36.5L134.6 36.8L138.0 38.7L143.8 44.9L150.6 50.8L150.9 51.9L137.7 62.2L132.0 67.9L127.6 70.6M164.6 52.5L158.9 52.7L155.6 51.9L156.3 50.8L157.7 50.4L164.6 50.5M123.0 70.3L120.7 70.8L118.4 70.7L116.1 69.7L114.9 68.5L114.0 66.7L113.6 64.4L113.6 61.0L114.2 58.7L116.1 55.9L121.2 51.9L123.3 47.3L125.3 45.1L131.1 41.8L133.4 41.4L134.6 41.7L136.9 43.3L142.7 49.3L143.5 50.8L143.5 53.0L141.9 55.3L140.4 56.6L132.2 60.7L128.3 66.7L125.7 69.0M121.8 67.9L119.0 67.9L117.7 66.7L117.2 65.6L117.2 63.7L117.9 62.2L119.2 61.0L120.7 60.6L123.0 61.0L124.2 62.1L124.7 63.3L124.5 65.6L123.7 66.7M164.6 61.9L158.9 62.0L153.1 61.5L150.8 61.7L149.5 62.2L147.3 63.9L146.0 65.6L145.3 67.9L145.3 69.0L146.1 70.6L147.3 71.7L149.6 72.8L153.1 73.2L164.6 72.9M155.5 67.9L156.0 66.7L153.2 65.6L151.9 65.7L150.7 66.7L151.0 67.9L151.9 68.3" fill="none" stroke="#fff" stroke-opacity="0.35" stroke-width="0.6"/></g>
<path d="M90.5 23.20V98.90M105.5 23.20V98.90M120.5 23.20V98.90M134.5 23.20V98.90M149.5 23.20V98.90M88.20 24.5H150.80M88.20 38.5H150.80M88.20 53.5H150.80M88.20 67.5H150.80M88.20 82.5H150.80M88.20 96.5H150.80" stroke="#000" stroke-opacity="0.17" stroke-width="1" fill="none"/>
<g clip-path="url(#clipAML74)"><g fill="rgb(206, 30, 32)" filter="url(#hmblur)"><rect x="253.5" y="19.5" width="3.8" height="3.7" fill-opacity="0.09"/><rect x="257.1" y="19.5" width="3.8" height="3.7" fill-opacity="0.18"/><rect x="260.7" y="19.5" width="3.8" height="3.7" fill-opacity="0.25"/><rect x="264.4" y="19.5" width="3.8" height="3.7" fill-opacity="0.29"/><rect x="268.0" y="19.5" width="3.8" height="3.7" fill-opacity="0.32"/><rect x="271.6" y="19.5" width="3.8" height="3.7" fill-opacity="0.34"/><rect x="275.2" y="19.5" width="3.8" height="3.7" fill-opacity="0.37"/><rect x="278.8" y="19.5" width="3.8" height="3.7" fill-opacity="0.41"/><rect x="282.4" y="19.5" width="3.8" height="3.7" fill-opacity="0.46"/><rect x="286.0" y="19.5" width="3.8" height="3.7" fill-opacity="0.51"/><rect x="289.6" y="19.5" width="3.8" height="3.7" fill-opacity="0.56"/><rect x="293.2" y="19.5" width="3.8" height="3.7" fill-opacity="0.60"/><rect x="296.9" y="19.5" width="3.8" height="3.7" fill-opacity="0.64"/><rect x="300.5" y="19.5" width="3.8" height="3.7" fill-opacity="0.70"/><rect x="304.1" y="19.5" width="3.8" height="3.7" fill-opacity="0.79"/><rect x="307.7" y="19.5" width="3.8" height="3.7" fill-opacity="0.85"/><rect x="311.3" y="19.5" width="3.8" height="3.7" fill-opacity="0.86"/><rect x="253.5" y="23.0" width="3.8" height="3.7" fill-opacity="0.10"/><rect x="257.1" y="23.0" width="3.8" height="3.7" fill-opacity="0.19"/><rect x="260.7" y="23.0" width="3.8" height="3.7" fill-opacity="0.25"/><rect x="264.4" y="23.0" width="3.8" height="3.7" fill-opacity="0.30"/><rect x="268.0" y="23.0" width="3.8" height="3.7" fill-opacity="0.32"/><rect x="271.6" y="23.0" width="3.8" height="3.7" fill-opacity="0.35"/><rect x="275.2" y="23.0" width="3.8" height="3.7" fill-opacity="0.37"/><rect x="278.8" y="23.0" width="3.8" height="3.7" fill-opacity="0.41"/><rect x="282.4" y="23.0" width="3.8" height="3.7" fill-opacity="0.46"/><rect x="286.0" y="23.0" width="3.8" height="3.7" fill-opacity="0.52"/><rect x="289.6" y="23.0" width="3.8" height="3.7" fill-opacity="0.57"/><rect x="293.2" y="23.0" width="3.8" height="3.7" fill-opacity="0.60"/><rect x="296.9" y="23.0" width="3.8" height="3.7" fill-opacity="0.64"/><rect x="300.5" y="23.0" width="3.8" height="3.7" fill-opacity="0.70"/><rect x="304.1" y="23.0" width="3.8" height="3.7" fill-opacity="0.79"/><rect x="307.7" y="23.0" width="3.8" height="3.7" fill-opacity="0.85"/><rect x="311.3" y="23.0" width="3.8" height="3.7" fill-opacity="0.86"/><rect x="253.5" y="26.6" width="3.8" height="3.7" fill-opacity="0.14"/><rect x="257.1" y="26.6" width="3.8" height="3.7" fill-opacity="0.24"/><rect x="260.7" y="26.6" width="3.8" height="3.7" fill-opacity="0.30"/><rect x="264.4" y="26.6" width="3.8" height="3.7" fill-opacity="0.33"/><rect x="268.0" y="26.6" width="3.8" height="3.7" fill-opacity="0.35"/><rect x="271.6" y="26.6" width="3.8" height="3.7" fill-opacity="0.36"/><rect x="275.2" y="26.6" width="3.8" height="3.7" fill-opacity="0.39"/><rect x="278.8" y="26.6" width="3.8" height="3.7" fill-opacity="0.43"/><rect x="282.4" y="26.6" width="3.8" height="3.7" fill-opacity="0.49"/><rect x="286.0" y="26.6" width="3.8" height="3.7" fill-opacity="0.54"/><rect x="289.6" y="26.6" width="3.8" height="3.7" fill-opacity="0.57"/><rect x="293.2" y="26.6" width="3.8" height="3.7" fill-opacity="0.60"/><rect x="296.9" y="26.6" width="3.8" height="3.7" fill-opacity="0.63"/><rect x="300.5" y="26.6" width="3.8" height="3.7" fill-opacity="0.70"/><rect x="304.1" y="26.6" width="3.8" height="3.7" fill-opacity="0.79"/><rect x="307.7" y="26.6" width="3.8" height="3.7" fill-opacity="0.85"/><rect x="311.3" y="26.6" width="3.8" height="3.7" fill-opacity="0.85"/><rect x="253.5" y="30.1" width="3.8" height="3.7" fill-opacity="0.18"/><rect x="257.1" y="30.1" width="3.8" height="3.7" fill-opacity="0.27"/><rect x="260.7" y="30.1" width="3.8" height="3.7" fill-opacity="0.33"/><rect x="264.4" y="30.1" width="3.8" height="3.7" fill-opacity="0.35"/><rect x="268.0" y="30.1" width="3.8" height="3.7" fill-opacity="0.34"/><rect x="271.6" y="30.1" width="3.8" height="3.7" fill-opacity="0.35"/><rect x="275.2" y="30.1" width="3.8" height="3.7" fill-opacity="0.38"/><rect x="278.8" y="30.1" width="3.8" height="3.7" fill-opacity="0.43"/><rect x="282.4" y="30.1" width="3.8" height="3.7" fill-opacity="0.48"/><rect x="286.0" y="30.1" width="3.8" height="3.7" fill-opacity="0.52"/><rect x="289.6" y="30.1" width="3.8" height="3.7" fill-opacity="0.55"/><rect x="293.2" y="30.1" width="3.8" height="3.7" fill-opacity="0.57"/><rect x="296.9" y="30.1" width="3.8" height="3.7" fill-opacity="0.60"/><rect x="300.5" y="30.1" width="3.8" height="3.7" fill-opacity="0.67"/><rect x="304.1" y="30.1" width="3.8" height="3.7" fill-opacity="0.76"/><rect x="307.7" y="30.1" width="3.8" height="3.7" fill-opacity="0.82"/><rect x="311.3" y="30.1" width="3.8" height="3.7" fill-opacity="0.83"/><rect x="253.5" y="33.7" width="3.8" height="3.7" fill-opacity="0.16"/><rect x="257.1" y="33.7" width="3.8" height="3.7" fill-opacity="0.25"/><rect x="260.7" y="33.7" width="3.8" height="3.7" fill-opacity="0.29"/><rect x="264.4" y="33.7" width="3.8" height="3.7" fill-opacity="0.29"/><rect x="268.0" y="33.7" width="3.8" height="3.7" fill-opacity="0.27"/><rect x="271.6" y="33.7" width="3.8" height="3.7" fill-opacity="0.27"/><rect x="275.2" y="33.7" width="3.8" height="3.7" fill-opacity="0.30"/><rect x="278.8" y="33.7" width="3.8" height="3.7" fill-opacity="0.34"/><rect x="282.4" y="33.7" width="3.8" height="3.7" fill-opacity="0.38"/><rect x="286.0" y="33.7" width="3.8" height="3.7" fill-opacity="0.42"/><rect x="289.6" y="33.7" width="3.8" height="3.7" fill-opacity="0.45"/><rect x="293.2" y="33.7" width="3.8" height="3.7" fill-opacity="0.48"/><rect x="296.9" y="33.7" width="3.8" height="3.7" fill-opacity="0.52"/><rect x="300.5" y="33.7" width="3.8" height="3.7" fill-opacity="0.60"/><rect x="304.1" y="33.7" width="3.8" height="3.7" fill-opacity="0.70"/><rect x="307.7" y="33.7" width="3.8" height="3.7" fill-opacity="0.77"/><rect x="311.3" y="33.7" width="3.8" height="3.7" fill-opacity="0.78"/><rect x="253.5" y="37.2" width="3.8" height="3.7" fill-opacity="0.05"/><rect x="257.1" y="37.2" width="3.8" height="3.7" fill-opacity="0.12"/><rect x="260.7" y="37.2" width="3.8" height="3.7" fill-opacity="0.13"/><rect x="264.4" y="37.2" width="3.8" height="3.7" fill-opacity="0.10"/><rect x="268.0" y="37.2" width="3.8" height="3.7" fill-opacity="0.03"/><rect x="271.6" y="37.2" width="3.8" height="3.7" fill-opacity="0.03"/><rect x="275.2" y="37.2" width="3.8" height="3.7" fill-opacity="0.10"/><rect x="278.8" y="37.2" width="3.8" height="3.7" fill-opacity="0.15"/><rect x="282.4" y="37.2" width="3.8" height="3.7" fill-opacity="0.18"/><rect x="286.0" y="37.2" width="3.8" height="3.7" fill-opacity="0.22"/><rect x="289.6" y="37.2" width="3.8" height="3.7" fill-opacity="0.28"/><rect x="293.2" y="37.2" width="3.8" height="3.7" fill-opacity="0.34"/><rect x="296.9" y="37.2" width="3.8" height="3.7" fill-opacity="0.41"/><rect x="300.5" y="37.2" width="3.8" height="3.7" fill-opacity="0.50"/><rect x="304.1" y="37.2" width="3.8" height="3.7" fill-opacity="0.61"/><rect x="307.7" y="37.2" width="3.8" height="3.7" fill-opacity="0.68"/><rect x="311.3" y="37.2" width="3.8" height="3.7" fill-opacity="0.69"/><rect x="289.6" y="40.8" width="3.8" height="3.7" fill-opacity="0.07"/><rect x="293.2" y="40.8" width="3.8" height="3.7" fill-opacity="0.19"/><rect x="296.9" y="40.8" width="3.8" height="3.7" fill-opacity="0.29"/><rect x="300.5" y="40.8" width="3.8" height="3.7" fill-opacity="0.39"/><rect x="304.1" y="40.8" width="3.8" height="3.7" fill-opacity="0.49"/><rect x="307.7" y="40.8" width="3.8" height="3.7" fill-opacity="0.55"/><rect x="311.3" y="40.8" width="3.8" height="3.7" fill-opacity="0.55"/><rect x="296.9" y="44.3" width="3.8" height="3.7" fill-opacity="0.10"/><rect x="300.5" y="44.3" width="3.8" height="3.7" fill-opacity="0.25"/><rect x="304.1" y="44.3" width="3.8" height="3.7" fill-opacity="0.34"/><rect x="307.7" y="44.3" width="3.8" height="3.7" fill-opacity="0.39"/><rect x="311.3" y="44.3" width="3.8" height="3.7" fill-opacity="0.40"/><rect x="304.1" y="47.9" width="3.8" height="3.7" fill-opacity="0.17"/><rect x="307.7" y="47.9" width="3.8" height="3.7" fill-opacity="0.26"/><rect x="311.3" y="47.9" width="3.8" height="3.7" fill-opacity="0.27"/><rect x="307.7" y="51.4" width="3.8" height="3.7" fill-opacity="0.18"/><rect x="311.3" y="51.4" width="3.8" height="3.7" fill-opacity="0.20"/><rect x="307.7" y="55.0" width="3.8" height="3.7" fill-opacity="0.12"/><rect x="311.3" y="55.0" width="3.8" height="3.7" fill-opacity="0.15"/><rect x="307.7" y="58.5" width="3.8" height="3.7" fill-opacity="0.04"/><rect x="311.3" y="58.5" width="3.8" height="3.7" fill-opacity="0.09"/><rect x="253.5" y="65.6" width="3.8" height="3.7" fill-opacity="0.11"/><rect x="257.1" y="65.6" width="3.8" height="3.7" fill-opacity="0.20"/><rect x="260.7" y="65.6" width="3.8" height="3.7" fill-opacity="0.25"/><rect x="264.4" y="65.6" width="3.8" height="3.7" fill-opacity="0.28"/><rect x="268.0" y="65.6" width="3.8" height="3.7" fill-opacity="0.25"/><rect x="271.6" y="65.6" width="3.8" height="3.7" fill-opacity="0.14"/><rect x="249.9" y="69.1" width="3.8" height="3.7" fill-opacity="0.03"/><rect x="253.5" y="69.1" width="3.8" height="3.7" fill-opacity="0.20"/><rect x="257.1" y="69.1" width="3.8" height="3.7" fill-opacity="0.30"/><rect x="260.7" y="69.1" width="3.8" height="3.7" fill-opacity="0.35"/><rect x="264.4" y="69.1" width="3.8" height="3.7" fill-opacity="0.36"/><rect x="268.0" y="69.1" width="3.8" height="3.7" fill-opacity="0.32"/><rect x="271.6" y="69.1" width="3.8" height="3.7" fill-opacity="0.22"/><rect x="249.9" y="72.7" width="3.8" height="3.7" fill-opacity="0.04"/><rect x="253.5" y="72.7" width="3.8" height="3.7" fill-opacity="0.21"/><rect x="257.1" y="72.7" width="3.8" height="3.7" fill-opacity="0.30"/><rect x="260.7" y="72.7" width="3.8" height="3.7" fill-opacity="0.33"/><rect x="264.4" y="72.7" width="3.8" height="3.7" fill-opacity="0.33"/><rect x="268.0" y="72.7" width="3.8" height="3.7" fill-opacity="0.29"/><rect x="271.6" y="72.7" width="3.8" height="3.7" fill-opacity="0.21"/><rect x="275.2" y="72.7" width="3.8" height="3.7" fill-opacity="0.04"/><rect x="253.5" y="76.2" width="3.8" height="3.7" fill-opacity="0.15"/><rect x="257.1" y="76.2" width="3.8" height="3.7" fill-opacity="0.22"/><rect x="260.7" y="76.2" width="3.8" height="3.7" fill-opacity="0.23"/><rect x="264.4" y="76.2" width="3.8" height="3.7" fill-opacity="0.22"/><rect x="268.0" y="76.2" width="3.8" height="3.7" fill-opacity="0.19"/><rect x="271.6" y="76.2" width="3.8" height="3.7" fill-opacity="0.12"/><rect x="257.1" y="79.8" width="3.8" height="3.7" fill-opacity="0.05"/><rect x="260.7" y="79.8" width="3.8" height="3.7" fill-opacity="0.06"/><rect x="264.4" y="79.8" width="3.8" height="3.7" fill-opacity="0.05"/><rect x="268.0" y="79.8" width="3.8" height="3.7" fill-opacity="0.03"/></g><g fill="rgb(50, 145, 40)" filter="url(#hmblur)"><rect x="260.7" y="40.8" width="3.8" height="3.7" fill-opacity="0.10"/><rect x="264.4" y="40.8" width="3.8" height="3.7" fill-opacity="0.17"/><rect x="268.0" y="40.8" width="3.8" height="3.7" fill-opacity="0.21"/><rect x="271.6" y="40.8" width="3.8" height="3.7" fill-opacity="0.20"/><rect x="275.2" y="40.8" width="3.8" height="3.7" fill-opacity="0.14"/><rect x="278.8" y="40.8" width="3.8" height="3.7" fill-opacity="0.06"/><rect x="253.5" y="44.3" width="3.8" height="3.7" fill-opacity="0.12"/><rect x="257.1" y="44.3" width="3.8" height="3.7" fill-opacity="0.27"/><rect x="260.7" y="44.3" width="3.8" height="3.7" fill-opacity="0.39"/><rect x="264.4" y="44.3" width="3.8" height="3.7" fill-opacity="0.46"/><rect x="268.0" y="44.3" width="3.8" height="3.7" fill-opacity="0.48"/><rect x="271.6" y="44.3" width="3.8" height="3.7" fill-opacity="0.46"/><rect x="275.2" y="44.3" width="3.8" height="3.7" fill-opacity="0.41"/><rect x="278.8" y="44.3" width="3.8" height="3.7" fill-opacity="0.33"/><rect x="282.4" y="44.3" width="3.8" height="3.7" fill-opacity="0.24"/><rect x="286.0" y="44.3" width="3.8" height="3.7" fill-opacity="0.16"/><rect x="289.6" y="44.3" width="3.8" height="3.7" fill-opacity="0.06"/><rect x="253.5" y="47.9" width="3.8" height="3.7" fill-opacity="0.21"/><rect x="257.1" y="47.9" width="3.8" height="3.7" fill-opacity="0.40"/><rect x="260.7" y="47.9" width="3.8" height="3.7" fill-opacity="0.56"/><rect x="264.4" y="47.9" width="3.8" height="3.7" fill-opacity="0.64"/><rect x="268.0" y="47.9" width="3.8" height="3.7" fill-opacity="0.66"/><rect x="271.6" y="47.9" width="3.8" height="3.7" fill-opacity="0.63"/><rect x="275.2" y="47.9" width="3.8" height="3.7" fill-opacity="0.58"/><rect x="278.8" y="47.9" width="3.8" height="3.7" fill-opacity="0.52"/><rect x="282.4" y="47.9" width="3.8" height="3.7" fill-opacity="0.46"/><rect x="286.0" y="47.9" width="3.8" height="3.7" fill-opacity="0.41"/><rect x="289.6" y="47.9" width="3.8" height="3.7" fill-opacity="0.38"/><rect x="293.2" y="47.9" width="3.8" height="3.7" fill-opacity="0.31"/><rect x="296.9" y="47.9" width="3.8" height="3.7" fill-opacity="0.16"/><rect x="253.5" y="51.4" width="3.8" height="3.7" fill-opacity="0.23"/><rect x="257.1" y="51.4" width="3.8" height="3.7" fill-opacity="0.44"/><rect x="260.7" y="51.4" width="3.8" height="3.7" fill-opacity="0.62"/><rect x="264.4" y="51.4" width="3.8" height="3.7" fill-opacity="0.71"/><rect x="268.0" y="51.4" width="3.8" height="3.7" fill-opacity="0.72"/><rect x="271.6" y="51.4" width="3.8" height="3.7" fill-opacity="0.69"/><rect x="275.2" y="51.4" width="3.8" height="3.7" fill-opacity="0.65"/><rect x="278.8" y="51.4" width="3.8" height="3.7" fill-opacity="0.63"/><rect x="282.4" y="51.4" width="3.8" height="3.7" fill-opacity="0.62"/><rect x="286.0" y="51.4" width="3.8" height="3.7" fill-opacity="0.63"/><rect x="289.6" y="51.4" width="3.8" height="3.7" fill-opacity="0.63"/><rect x="293.2" y="51.4" width="3.8" height="3.7" fill-opacity="0.58"/><rect x="296.9" y="51.4" width="3.8" height="3.7" fill-opacity="0.45"/><rect x="300.5" y="51.4" width="3.8" height="3.7" fill-opacity="0.24"/><rect x="253.5" y="55.0" width="3.8" height="3.7" fill-opacity="0.20"/><rect x="257.1" y="55.0" width="3.8" height="3.7" fill-opacity="0.38"/><rect x="260.7" y="55.0" width="3.8" height="3.7" fill-opacity="0.53"/><rect x="264.4" y="55.0" width="3.8" height="3.7" fill-opacity="0.60"/><rect x="268.0" y="55.0" width="3.8" height="3.7" fill-opacity="0.60"/><rect x="271.6" y="55.0" width="3.8" height="3.7" fill-opacity="0.59"/><rect x="275.2" y="55.0" width="3.8" height="3.7" fill-opacity="0.59"/><rect x="278.8" y="55.0" width="3.8" height="3.7" fill-opacity="0.63"/><rect x="282.4" y="55.0" width="3.8" height="3.7" fill-opacity="0.69"/><rect x="286.0" y="55.0" width="3.8" height="3.7" fill-opacity="0.74"/><rect x="289.6" y="55.0" width="3.8" height="3.7" fill-opacity="0.76"/><rect x="293.2" y="55.0" width="3.8" height="3.7" fill-opacity="0.72"/><rect x="296.9" y="55.0" width="3.8" height="3.7" fill-opacity="0.62"/><rect x="300.5" y="55.0" width="3.8" height="3.7" fill-opacity="0.41"/><rect x="304.1" y="55.0" width="3.8" height="3.7" fill-opacity="0.07"/><rect x="253.5" y="58.5" width="3.8" height="3.7" fill-opacity="0.09"/><rect x="257.1" y="58.5" width="3.8" height="3.7" fill-opacity="0.21"/><rect x="260.7" y="58.5" width="3.8" height="3.7" fill-opacity="0.30"/><rect x="264.4" y="58.5" width="3.8" height="3.7" fill-opacity="0.32"/><rect x="268.0" y="58.5" width="3.8" height="3.7" fill-opacity="0.31"/><rect x="271.6" y="58.5" width="3.8" height="3.7" fill-opacity="0.34"/><rect x="275.2" y="58.5" width="3.8" height="3.7" fill-opacity="0.42"/><rect x="278.8" y="58.5" width="3.8" height="3.7" fill-opacity="0.54"/><rect x="282.4" y="58.5" width="3.8" height="3.7" fill-opacity="0.66"/><rect x="286.0" y="58.5" width="3.8" height="3.7" fill-opacity="0.74"/><rect x="289.6" y="58.5" width="3.8" height="3.7" fill-opacity="0.77"/><rect x="293.2" y="58.5" width="3.8" height="3.7" fill-opacity="0.76"/><rect x="296.9" y="58.5" width="3.8" height="3.7" fill-opacity="0.68"/><rect x="300.5" y="58.5" width="3.8" height="3.7" fill-opacity="0.50"/><rect x="304.1" y="58.5" width="3.8" height="3.7" fill-opacity="0.18"/><rect x="275.2" y="62.1" width="3.8" height="3.7" fill-opacity="0.21"/><rect x="278.8" y="62.1" width="3.8" height="3.7" fill-opacity="0.40"/><rect x="282.4" y="62.1" width="3.8" height="3.7" fill-opacity="0.57"/><rect x="286.0" y="62.1" width="3.8" height="3.7" fill-opacity="0.69"/><rect x="289.6" y="62.1" width="3.8" height="3.7" fill-opacity="0.75"/><rect x="293.2" y="62.1" width="3.8" height="3.7" fill-opacity="0.76"/><rect x="296.9" y="62.1" width="3.8" height="3.7" fill-opacity="0.72"/><rect x="300.5" y="62.1" width="3.8" height="3.7" fill-opacity="0.57"/><rect x="304.1" y="62.1" width="3.8" height="3.7" fill-opacity="0.30"/><rect x="278.8" y="65.6" width="3.8" height="3.7" fill-opacity="0.26"/><rect x="282.4" y="65.6" width="3.8" height="3.7" fill-opacity="0.46"/><rect x="286.0" y="65.6" width="3.8" height="3.7" fill-opacity="0.61"/><rect x="289.6" y="65.6" width="3.8" height="3.7" fill-opacity="0.70"/><rect x="293.2" y="65.6" width="3.8" height="3.7" fill-opacity="0.75"/><rect x="296.9" y="65.6" width="3.8" height="3.7" fill-opacity="0.73"/><rect x="300.5" y="65.6" width="3.8" height="3.7" fill-opacity="0.63"/><rect x="304.1" y="65.6" width="3.8" height="3.7" fill-opacity="0.43"/><rect x="307.7" y="65.6" width="3.8" height="3.7" fill-opacity="0.26"/><rect x="311.3" y="65.6" width="3.8" height="3.7" fill-opacity="0.24"/><rect x="278.8" y="69.1" width="3.8" height="3.7" fill-opacity="0.13"/><rect x="282.4" y="69.1" width="3.8" height="3.7" fill-opacity="0.35"/><rect x="286.0" y="69.1" width="3.8" height="3.7" fill-opacity="0.53"/><rect x="289.6" y="69.1" width="3.8" height="3.7" fill-opacity="0.65"/><rect x="293.2" y="69.1" width="3.8" height="3.7" fill-opacity="0.73"/><rect x="296.9" y="69.1" width="3.8" height="3.7" fill-opacity="0.73"/><rect x="300.5" y="69.1" width="3.8" height="3.7" fill-opacity="0.67"/><rect x="304.1" y="69.1" width="3.8" height="3.7" fill-opacity="0.55"/><rect x="307.7" y="69.1" width="3.8" height="3.7" fill-opacity="0.45"/><rect x="311.3" y="69.1" width="3.8" height="3.7" fill-opacity="0.44"/><rect x="278.8" y="72.7" width="3.8" height="3.7" fill-opacity="0.04"/><rect x="282.4" y="72.7" width="3.8" height="3.7" fill-opacity="0.28"/><rect x="286.0" y="72.7" width="3.8" height="3.7" fill-opacity="0.45"/><rect x="289.6" y="72.7" width="3.8" height="3.7" fill-opacity="0.60"/><rect x="293.2" y="72.7" width="3.8" height="3.7" fill-opacity="0.69"/><rect x="296.9" y="72.7" width="3.8" height="3.7" fill-opacity="0.72"/><rect x="300.5" y="72.7" width="3.8" height="3.7" fill-opacity="0.70"/><rect x="304.1" y="72.7" width="3.8" height="3.7" fill-opacity="0.65"/><rect x="307.7" y="72.7" width="3.8" height="3.7" fill-opacity="0.60"/><rect x="311.3" y="72.7" width="3.8" height="3.7" fill-opacity="0.60"/><rect x="282.4" y="76.2" width="3.8" height="3.7" fill-opacity="0.21"/><rect x="286.0" y="76.2" width="3.8" height="3.7" fill-opacity="0.38"/><rect x="289.6" y="76.2" width="3.8" height="3.7" fill-opacity="0.54"/><rect x="293.2" y="76.2" width="3.8" height="3.7" fill-opacity="0.66"/><rect x="296.9" y="76.2" width="3.8" height="3.7" fill-opacity="0.72"/><rect x="300.5" y="76.2" width="3.8" height="3.7" fill-opacity="0.74"/><rect x="304.1" y="76.2" width="3.8" height="3.7" fill-opacity="0.73"/><rect x="307.7" y="76.2" width="3.8" height="3.7" fill-opacity="0.72"/><rect x="311.3" y="76.2" width="3.8" height="3.7" fill-opacity="0.72"/><rect x="278.8" y="79.8" width="3.8" height="3.7" fill-opacity="0.03"/><rect x="282.4" y="79.8" width="3.8" height="3.7" fill-opacity="0.16"/><rect x="286.0" y="79.8" width="3.8" height="3.7" fill-opacity="0.32"/><rect x="289.6" y="79.8" width="3.8" height="3.7" fill-opacity="0.49"/><rect x="293.2" y="79.8" width="3.8" height="3.7" fill-opacity="0.63"/><rect x="296.9" y="79.8" width="3.8" height="3.7" fill-opacity="0.72"/><rect x="300.5" y="79.8" width="3.8" height="3.7" fill-opacity="0.77"/><rect x="304.1" y="79.8" width="3.8" height="3.7" fill-opacity="0.80"/><rect x="307.7" y="79.8" width="3.8" height="3.7" fill-opacity="0.81"/><rect x="311.3" y="79.8" width="3.8" height="3.7" fill-opacity="0.81"/><rect x="278.8" y="83.3" width="3.8" height="3.7" fill-opacity="0.05"/><rect x="282.4" y="83.3" width="3.8" height="3.7" fill-opacity="0.13"/><rect x="286.0" y="83.3" width="3.8" height="3.7" fill-opacity="0.26"/><rect x="289.6" y="83.3" width="3.8" height="3.7" fill-opacity="0.42"/><rect x="293.2" y="83.3" width="3.8" height="3.7" fill-opacity="0.57"/><rect x="296.9" y="83.3" width="3.8" height="3.7" fill-opacity="0.69"/><rect x="300.5" y="83.3" width="3.8" height="3.7" fill-opacity="0.78"/><rect x="304.1" y="83.3" width="3.8" height="3.7" fill-opacity="0.83"/><rect x="307.7" y="83.3" width="3.8" height="3.7" fill-opacity="0.86"/><rect x="311.3" y="83.3" width="3.8" height="3.7" fill-opacity="0.86"/><rect x="257.1" y="86.9" width="3.8" height="3.7" fill-opacity="0.05"/><rect x="260.7" y="86.9" width="3.8" height="3.7" fill-opacity="0.06"/><rect x="264.4" y="86.9" width="3.8" height="3.7" fill-opacity="0.05"/><rect x="275.2" y="86.9" width="3.8" height="3.7" fill-opacity="0.02"/><rect x="278.8" y="86.9" width="3.8" height="3.7" fill-opacity="0.06"/><rect x="282.4" y="86.9" width="3.8" height="3.7" fill-opacity="0.11"/><rect x="286.0" y="86.9" width="3.8" height="3.7" fill-opacity="0.20"/><rect x="289.6" y="86.9" width="3.8" height="3.7" fill-opacity="0.33"/><rect x="293.2" y="86.9" width="3.8" height="3.7" fill-opacity="0.48"/><rect x="296.9" y="86.9" width="3.8" height="3.7" fill-opacity="0.63"/><rect x="300.5" y="86.9" width="3.8" height="3.7" fill-opacity="0.74"/><rect x="304.1" y="86.9" width="3.8" height="3.7" fill-opacity="0.81"/><rect x="307.7" y="86.9" width="3.8" height="3.7" fill-opacity="0.84"/><rect x="311.3" y="86.9" width="3.8" height="3.7" fill-opacity="0.84"/><rect x="257.1" y="90.4" width="3.8" height="3.7" fill-opacity="0.05"/><rect x="260.7" y="90.4" width="3.8" height="3.7" fill-opacity="0.07"/><rect x="264.4" y="90.4" width="3.8" height="3.7" fill-opacity="0.06"/><rect x="282.4" y="90.4" width="3.8" height="3.7" fill-opacity="0.08"/><rect x="286.0" y="90.4" width="3.8" height="3.7" fill-opacity="0.15"/><rect x="289.6" y="90.4" width="3.8" height="3.7" fill-opacity="0.23"/><rect x="293.2" y="90.4" width="3.8" height="3.7" fill-opacity="0.36"/><rect x="296.9" y="90.4" width="3.8" height="3.7" fill-opacity="0.51"/><rect x="300.5" y="90.4" width="3.8" height="3.7" fill-opacity="0.63"/><rect x="304.1" y="90.4" width="3.8" height="3.7" fill-opacity="0.71"/><rect x="307.7" y="90.4" width="3.8" height="3.7" fill-opacity="0.74"/><rect x="311.3" y="90.4" width="3.8" height="3.7" fill-opacity="0.74"/><rect x="286.0" y="94.0" width="3.8" height="3.7" fill-opacity="0.08"/><rect x="289.6" y="94.0" width="3.8" height="3.7" fill-opacity="0.14"/><rect x="293.2" y="94.0" width="3.8" height="3.7" fill-opacity="0.23"/><rect x="296.9" y="94.0" width="3.8" height="3.7" fill-opacity="0.34"/><rect x="300.5" y="94.0" width="3.8" height="3.7" fill-opacity="0.45"/><rect x="304.1" y="94.0" width="3.8" height="3.7" fill-opacity="0.53"/><rect x="307.7" y="94.0" width="3.8" height="3.7" fill-opacity="0.58"/><rect x="311.3" y="94.0" width="3.8" height="3.7" fill-opacity="0.58"/><rect x="286.0" y="97.5" width="3.8" height="3.7" fill-opacity="0.04"/><rect x="289.6" y="97.5" width="3.8" height="3.7" fill-opacity="0.09"/><rect x="293.2" y="97.5" width="3.8" height="3.7" fill-opacity="0.14"/><rect x="296.9" y="97.5" width="3.8" height="3.7" fill-opacity="0.20"/><rect x="300.5" y="97.5" width="3.8" height="3.7" fill-opacity="0.28"/><rect x="304.1" y="97.5" width="3.8" height="3.7" fill-opacity="0.38"/><rect x="307.7" y="97.5" width="3.8" height="3.7" fill-opacity="0.44"/><rect x="311.3" y="97.5" width="3.8" height="3.7" fill-opacity="0.45"/><rect x="286.0" y="101.1" width="3.8" height="3.7" fill-opacity="0.03"/><rect x="289.6" y="101.1" width="3.8" height="3.7" fill-opacity="0.08"/><rect x="293.2" y="101.1" width="3.8" height="3.7" fill-opacity="0.12"/><rect x="296.9" y="101.1" width="3.8" height="3.7" fill-opacity="0.18"/><rect x="300.5" y="101.1" width="3.8" height="3.7" fill-opacity="0.26"/><rect x="304.1" y="101.1" width="3.8" height="3.7" fill-opacity="0.36"/><rect x="307.7" y="101.1" width="3.8" height="3.7" fill-opacity="0.42"/><rect x="311.3" y="101.1" width="3.8" height="3.7" fill-opacity="0.43"/></g><path d="M324.0 49.1L318.1 49.0L312.2 49.7L309.9 49.4L303.9 46.4L295.8 41.0L289.9 38.6L273.5 35.2L270.0 35.1L264.1 35.8L260.6 34.9L259.5 33.7L259.4 31.4L260.5 29.1L263.4 25.6L264.5 23.3L263.7 16.4L263.8 10.6M264.1 76.6L260.6 76.3L258.6 75.3L257.8 74.2L257.5 73.0L258.1 70.7L259.5 69.4L263.0 68.0L266.5 67.6L269.8 68.4L271.0 69.6L271.5 70.7L271.3 73.0L270.5 74.2L267.7 75.9M324.0 43.6L312.2 43.8L308.7 43.5L305.2 41.8L300.5 37.7L298.1 36.1L294.6 34.6L287.6 32.8L285.3 31.4L284.7 30.3L284.7 29.1L286.7 23.3L286.3 10.6M324.0 38.6L318.1 38.5L312.2 39.0L309.9 38.8L307.5 37.6L304.8 34.9L302.6 31.4L301.5 27.9L301.2 10.6M316.8 10.6L316.7 16.4L317.3 23.3L316.5 25.6L314.8 27.9L312.2 29.4L311.0 29.2L310.0 27.9L309.4 25.6L309.3 10.6M324.0 24.6L322.4 23.3L322.2 22.2L322.8 20.1L324.0 18.6M324.0 67.2L318.1 67.1L312.2 67.9L309.9 67.5L308.7 66.9L307.0 64.9L305.8 62.6L303.5 55.7L301.9 53.4L300.5 52.0L298.1 50.6L294.6 49.1L286.4 47.3L278.2 44.4L271.2 43.3L264.1 44.0L259.5 45.9L257.5 47.6L256.9 48.8L256.2 51.1L256.2 54.5L256.9 56.8L259.0 59.2L263.0 60.5L271.2 60.8L274.5 61.5L277.0 62.9L280.0 66.1L282.7 70.7L288.4 85.8L290.3 89.2L294.6 94.2L300.5 98.5L302.5 100.8L302.5 103.1L301.1 107.7L301.3 113.5M324.0 71.7L311.0 72.1L308.7 71.5L307.5 70.8L306.2 69.6L304.7 67.3L301.7 58.4L300.2 55.7L297.7 53.4L293.5 51.5L284.1 50.4L274.7 47.1L268.8 46.5L264.1 47.3L261.8 48.8L260.4 51.1L260.1 53.4L260.9 55.7L263.0 57.4L265.3 58.0L275.9 58.6L278.2 59.5L280.6 61.3L284.2 66.1L287.1 70.7L292.4 83.4L294.3 86.9L297.8 91.5L300.5 93.8L306.4 96.6L309.9 97.7L324.0 97.5M269.7 54.5L272.8 53.4L272.8 52.2L271.2 51.2L267.7 50.9L265.6 52.2L265.6 53.4L266.5 54.1L267.7 54.6M324.0 76.8L309.9 76.8L305.2 75.6L303.3 74.2L302.5 73.0L298.1 59.4L295.8 56.2L293.5 54.9L289.9 54.4L287.6 54.6L285.2 55.5L284.2 56.8L284.3 58.0L285.4 60.3L290.5 67.3L295.3 75.3L296.3 77.7L298.2 84.6L299.9 88.1L301.8 90.4L305.2 92.4L308.7 93.4L324.0 93.4M324.0 84.5L319.3 84.7L311.0 84.2L309.1 84.6L308.2 85.8L308.7 86.9L311.0 87.7L318.1 87.1L324.0 87.1" fill="none" stroke="#fff" stroke-opacity="0.35" stroke-width="0.6"/></g>
<path d="M248.5 24.30V101.00M263.5 24.30V101.00M278.5 24.30V101.00M293.5 24.30V101.00M308.5 24.30V101.00M246.50 25.5H309.90M246.50 40.5H309.90M246.50 54.5H309.90M246.50 69.5H309.90M246.50 84.5H309.90M246.50 98.5H309.90" stroke="#000" stroke-opacity="0.17" stroke-width="1" fill="none"/>
<g clip-path="url(#clipAML95)"><g fill="rgb(206, 30, 32)" filter="url(#hmblur)"><rect x="410.7" y="19.3" width="3.8" height="3.7" fill-opacity="0.14"/><rect x="414.4" y="19.3" width="3.8" height="3.7" fill-opacity="0.28"/><rect x="418.0" y="19.3" width="3.8" height="3.7" fill-opacity="0.43"/><rect x="421.7" y="19.3" width="3.8" height="3.7" fill-opacity="0.55"/><rect x="425.3" y="19.3" width="3.8" height="3.7" fill-opacity="0.63"/><rect x="429.0" y="19.3" width="3.8" height="3.7" fill-opacity="0.67"/><rect x="432.6" y="19.3" width="3.8" height="3.7" fill-opacity="0.68"/><rect x="436.2" y="19.3" width="3.8" height="3.7" fill-opacity="0.68"/><rect x="439.9" y="19.3" width="3.8" height="3.7" fill-opacity="0.69"/><rect x="443.5" y="19.3" width="3.8" height="3.7" fill-opacity="0.72"/><rect x="447.2" y="19.3" width="3.8" height="3.7" fill-opacity="0.74"/><rect x="450.8" y="19.3" width="3.8" height="3.7" fill-opacity="0.75"/><rect x="454.5" y="19.3" width="3.8" height="3.7" fill-opacity="0.78"/><rect x="458.1" y="19.3" width="3.8" height="3.7" fill-opacity="0.85"/><rect x="461.8" y="19.3" width="3.8" height="3.7" fill-opacity="0.89"/><rect x="465.4" y="19.3" width="3.8" height="3.7" fill-opacity="0.90"/><rect x="410.7" y="22.8" width="3.8" height="3.7" fill-opacity="0.14"/><rect x="414.4" y="22.8" width="3.8" height="3.7" fill-opacity="0.29"/><rect x="418.0" y="22.8" width="3.8" height="3.7" fill-opacity="0.43"/><rect x="421.7" y="22.8" width="3.8" height="3.7" fill-opacity="0.55"/><rect x="425.3" y="22.8" width="3.8" height="3.7" fill-opacity="0.63"/><rect x="429.0" y="22.8" width="3.8" height="3.7" fill-opacity="0.67"/><rect x="432.6" y="22.8" width="3.8" height="3.7" fill-opacity="0.68"/><rect x="436.2" y="22.8" width="3.8" height="3.7" fill-opacity="0.68"/><rect x="439.9" y="22.8" width="3.8" height="3.7" fill-opacity="0.69"/><rect x="443.5" y="22.8" width="3.8" height="3.7" fill-opacity="0.71"/><rect x="447.2" y="22.8" width="3.8" height="3.7" fill-opacity="0.73"/><rect x="450.8" y="22.8" width="3.8" height="3.7" fill-opacity="0.75"/><rect x="454.5" y="22.8" width="3.8" height="3.7" fill-opacity="0.78"/><rect x="458.1" y="22.8" width="3.8" height="3.7" fill-opacity="0.84"/><rect x="461.8" y="22.8" width="3.8" height="3.7" fill-opacity="0.89"/><rect x="465.4" y="22.8" width="3.8" height="3.7" fill-opacity="0.90"/><rect x="410.7" y="26.4" width="3.8" height="3.7" fill-opacity="0.14"/><rect x="414.4" y="26.4" width="3.8" height="3.7" fill-opacity="0.30"/><rect x="418.0" y="26.4" width="3.8" height="3.7" fill-opacity="0.45"/><rect x="421.7" y="26.4" width="3.8" height="3.7" fill-opacity="0.57"/><rect x="425.3" y="26.4" width="3.8" height="3.7" fill-opacity="0.65"/><rect x="429.0" y="26.4" width="3.8" height="3.7" fill-opacity="0.69"/><rect x="432.6" y="26.4" width="3.8" height="3.7" fill-opacity="0.70"/><rect x="436.2" y="26.4" width="3.8" height="3.7" fill-opacity="0.68"/><rect x="439.9" y="26.4" width="3.8" height="3.7" fill-opacity="0.67"/><rect x="443.5" y="26.4" width="3.8" height="3.7" fill-opacity="0.67"/><rect x="447.2" y="26.4" width="3.8" height="3.7" fill-opacity="0.68"/><rect x="450.8" y="26.4" width="3.8" height="3.7" fill-opacity="0.71"/><rect x="454.5" y="26.4" width="3.8" height="3.7" fill-opacity="0.76"/><rect x="458.1" y="26.4" width="3.8" height="3.7" fill-opacity="0.84"/><rect x="461.8" y="26.4" width="3.8" height="3.7" fill-opacity="0.89"/><rect x="465.4" y="26.4" width="3.8" height="3.7" fill-opacity="0.90"/><rect x="410.7" y="29.9" width="3.8" height="3.7" fill-opacity="0.16"/><rect x="414.4" y="29.9" width="3.8" height="3.7" fill-opacity="0.33"/><rect x="418.0" y="29.9" width="3.8" height="3.7" fill-opacity="0.48"/><rect x="421.7" y="29.9" width="3.8" height="3.7" fill-opacity="0.60"/><rect x="425.3" y="29.9" width="3.8" height="3.7" fill-opacity="0.67"/><rect x="429.0" y="29.9" width="3.8" height="3.7" fill-opacity="0.71"/><rect x="432.6" y="29.9" width="3.8" height="3.7" fill-opacity="0.72"/><rect x="436.2" y="29.9" width="3.8" height="3.7" fill-opacity="0.70"/><rect x="439.9" y="29.9" width="3.8" height="3.7" fill-opacity="0.67"/><rect x="443.5" y="29.9" width="3.8" height="3.7" fill-opacity="0.64"/><rect x="447.2" y="29.9" width="3.8" height="3.7" fill-opacity="0.64"/><rect x="450.8" y="29.9" width="3.8" height="3.7" fill-opacity="0.67"/><rect x="454.5" y="29.9" width="3.8" height="3.7" fill-opacity="0.74"/><rect x="458.1" y="29.9" width="3.8" height="3.7" fill-opacity="0.83"/><rect x="461.8" y="29.9" width="3.8" height="3.7" fill-opacity="0.89"/><rect x="465.4" y="29.9" width="3.8" height="3.7" fill-opacity="0.90"/><rect x="410.7" y="33.5" width="3.8" height="3.7" fill-opacity="0.20"/><rect x="414.4" y="33.5" width="3.8" height="3.7" fill-opacity="0.38"/><rect x="418.0" y="33.5" width="3.8" height="3.7" fill-opacity="0.52"/><rect x="421.7" y="33.5" width="3.8" height="3.7" fill-opacity="0.62"/><rect x="425.3" y="33.5" width="3.8" height="3.7" fill-opacity="0.69"/><rect x="429.0" y="33.5" width="3.8" height="3.7" fill-opacity="0.74"/><rect x="432.6" y="33.5" width="3.8" height="3.7" fill-opacity="0.74"/><rect x="436.2" y="33.5" width="3.8" height="3.7" fill-opacity="0.73"/><rect x="439.9" y="33.5" width="3.8" height="3.7" fill-opacity="0.70"/><rect x="443.5" y="33.5" width="3.8" height="3.7" fill-opacity="0.68"/><rect x="447.2" y="33.5" width="3.8" height="3.7" fill-opacity="0.68"/><rect x="450.8" y="33.5" width="3.8" height="3.7" fill-opacity="0.71"/><rect x="454.5" y="33.5" width="3.8" height="3.7" fill-opacity="0.77"/><rect x="458.1" y="33.5" width="3.8" height="3.7" fill-opacity="0.84"/><rect x="461.8" y="33.5" width="3.8" height="3.7" fill-opacity="0.89"/><rect x="465.4" y="33.5" width="3.8" height="3.7" fill-opacity="0.90"/><rect x="407.1" y="37.0" width="3.8" height="3.7" fill-opacity="0.06"/><rect x="410.7" y="37.0" width="3.8" height="3.7" fill-opacity="0.25"/><rect x="414.4" y="37.0" width="3.8" height="3.7" fill-opacity="0.43"/><rect x="418.0" y="37.0" width="3.8" height="3.7" fill-opacity="0.56"/><rect x="421.7" y="37.0" width="3.8" height="3.7" fill-opacity="0.65"/><rect x="425.3" y="37.0" width="3.8" height="3.7" fill-opacity="0.71"/><rect x="429.0" y="37.0" width="3.8" height="3.7" fill-opacity="0.75"/><rect x="432.6" y="37.0" width="3.8" height="3.7" fill-opacity="0.77"/><rect x="436.2" y="37.0" width="3.8" height="3.7" fill-opacity="0.76"/><rect x="439.9" y="37.0" width="3.8" height="3.7" fill-opacity="0.75"/><rect x="443.5" y="37.0" width="3.8" height="3.7" fill-opacity="0.75"/><rect x="447.2" y="37.0" width="3.8" height="3.7" fill-opacity="0.75"/><rect x="450.8" y="37.0" width="3.8" height="3.7" fill-opacity="0.77"/><rect x="454.5" y="37.0" width="3.8" height="3.7" fill-opacity="0.81"/><rect x="458.1" y="37.0" width="3.8" height="3.7" fill-opacity="0.86"/><rect x="461.8" y="37.0" width="3.8" height="3.7" fill-opacity="0.89"/><rect x="465.4" y="37.0" width="3.8" height="3.7" fill-opacity="0.89"/><rect x="407.1" y="40.6" width="3.8" height="3.7" fill-opacity="0.14"/><rect x="410.7" y="40.6" width="3.8" height="3.7" fill-opacity="0.32"/><rect x="414.4" y="40.6" width="3.8" height="3.7" fill-opacity="0.49"/><rect x="418.0" y="40.6" width="3.8" height="3.7" fill-opacity="0.60"/><rect x="421.7" y="40.6" width="3.8" height="3.7" fill-opacity="0.67"/><rect x="425.3" y="40.6" width="3.8" height="3.7" fill-opacity="0.72"/><rect x="429.0" y="40.6" width="3.8" height="3.7" fill-opacity="0.76"/><rect x="432.6" y="40.6" width="3.8" height="3.7" fill-opacity="0.78"/><rect x="436.2" y="40.6" width="3.8" height="3.7" fill-opacity="0.79"/><rect x="439.9" y="40.6" width="3.8" height="3.7" fill-opacity="0.79"/><rect x="443.5" y="40.6" width="3.8" height="3.7" fill-opacity="0.79"/><rect x="447.2" y="40.6" width="3.8" height="3.7" fill-opacity="0.79"/><rect x="450.8" y="40.6" width="3.8" height="3.7" fill-opacity="0.80"/><rect x="454.5" y="40.6" width="3.8" height="3.7" fill-opacity="0.82"/><rect x="458.1" y="40.6" width="3.8" height="3.7" fill-opacity="0.86"/><rect x="461.8" y="40.6" width="3.8" height="3.7" fill-opacity="0.89"/><rect x="465.4" y="40.6" width="3.8" height="3.7" fill-opacity="0.89"/><rect x="403.4" y="44.1" width="3.8" height="3.7" fill-opacity="0.08"/><rect x="407.1" y="44.1" width="3.8" height="3.7" fill-opacity="0.22"/><rect x="410.7" y="44.1" width="3.8" height="3.7" fill-opacity="0.38"/><rect x="414.4" y="44.1" width="3.8" height="3.7" fill-opacity="0.54"/><rect x="418.0" y="44.1" width="3.8" height="3.7" fill-opacity="0.64"/><rect x="421.7" y="44.1" width="3.8" height="3.7" fill-opacity="0.70"/><rect x="425.3" y="44.1" width="3.8" height="3.7" fill-opacity="0.73"/><rect x="429.0" y="44.1" width="3.8" height="3.7" fill-opacity="0.76"/><rect x="432.6" y="44.1" width="3.8" height="3.7" fill-opacity="0.78"/><rect x="436.2" y="44.1" width="3.8" height="3.7" fill-opacity="0.80"/><rect x="439.9" y="44.1" width="3.8" height="3.7" fill-opacity="0.81"/><rect x="443.5" y="44.1" width="3.8" height="3.7" fill-opacity="0.81"/><rect x="447.2" y="44.1" width="3.8" height="3.7" fill-opacity="0.80"/><rect x="450.8" y="44.1" width="3.8" height="3.7" fill-opacity="0.80"/><rect x="454.5" y="44.1" width="3.8" height="3.7" fill-opacity="0.82"/><rect x="458.1" y="44.1" width="3.8" height="3.7" fill-opacity="0.86"/><rect x="461.8" y="44.1" width="3.8" height="3.7" fill-opacity="0.89"/><rect x="465.4" y="44.1" width="3.8" height="3.7" fill-opacity="0.89"/><rect x="403.4" y="47.7" width="3.8" height="3.7" fill-opacity="0.12"/><rect x="407.1" y="47.7" width="3.8" height="3.7" fill-opacity="0.26"/><rect x="410.7" y="47.7" width="3.8" height="3.7" fill-opacity="0.42"/><rect x="414.4" y="47.7" width="3.8" height="3.7" fill-opacity="0.57"/><rect x="418.0" y="47.7" width="3.8" height="3.7" fill-opacity="0.67"/><rect x="421.7" y="47.7" width="3.8" height="3.7" fill-opacity="0.73"/><rect x="425.3" y="47.7" width="3.8" height="3.7" fill-opacity="0.75"/><rect x="429.0" y="47.7" width="3.8" height="3.7" fill-opacity="0.76"/><rect x="432.6" y="47.7" width="3.8" height="3.7" fill-opacity="0.78"/><rect x="436.2" y="47.7" width="3.8" height="3.7" fill-opacity="0.80"/><rect x="439.9" y="47.7" width="3.8" height="3.7" fill-opacity="0.81"/><rect x="443.5" y="47.7" width="3.8" height="3.7" fill-opacity="0.82"/><rect x="447.2" y="47.7" width="3.8" height="3.7" fill-opacity="0.81"/><rect x="450.8" y="47.7" width="3.8" height="3.7" fill-opacity="0.81"/><rect x="454.5" y="47.7" width="3.8" height="3.7" fill-opacity="0.82"/><rect x="458.1" y="47.7" width="3.8" height="3.7" fill-opacity="0.86"/><rect x="461.8" y="47.7" width="3.8" height="3.7" fill-opacity="0.89"/><rect x="465.4" y="47.7" width="3.8" height="3.7" fill-opacity="0.89"/><rect x="403.4" y="51.2" width="3.8" height="3.7" fill-opacity="0.13"/><rect x="407.1" y="51.2" width="3.8" height="3.7" fill-opacity="0.29"/><rect x="410.7" y="51.2" width="3.8" height="3.7" fill-opacity="0.45"/><rect x="414.4" y="51.2" width="3.8" height="3.7" fill-opacity="0.59"/><rect x="418.0" y="51.2" width="3.8" height="3.7" fill-opacity="0.69"/><rect x="421.7" y="51.2" width="3.8" height="3.7" fill-opacity="0.75"/><rect x="425.3" y="51.2" width="3.8" height="3.7" fill-opacity="0.77"/><rect x="429.0" y="51.2" width="3.8" height="3.7" fill-opacity="0.77"/><rect x="432.6" y="51.2" width="3.8" height="3.7" fill-opacity="0.77"/><rect x="436.2" y="51.2" width="3.8" height="3.7" fill-opacity="0.79"/><rect x="439.9" y="51.2" width="3.8" height="3.7" fill-opacity="0.82"/><rect x="443.5" y="51.2" width="3.8" height="3.7" fill-opacity="0.83"/><rect x="447.2" y="51.2" width="3.8" height="3.7" fill-opacity="0.84"/><rect x="450.8" y="51.2" width="3.8" height="3.7" fill-opacity="0.83"/><rect x="454.5" y="51.2" width="3.8" height="3.7" fill-opacity="0.84"/><rect x="458.1" y="51.2" width="3.8" height="3.7" fill-opacity="0.87"/><rect x="461.8" y="51.2" width="3.8" height="3.7" fill-opacity="0.89"/><rect x="465.4" y="51.2" width="3.8" height="3.7" fill-opacity="0.89"/><rect x="403.4" y="54.8" width="3.8" height="3.7" fill-opacity="0.14"/><rect x="407.1" y="54.8" width="3.8" height="3.7" fill-opacity="0.31"/><rect x="410.7" y="54.8" width="3.8" height="3.7" fill-opacity="0.47"/><rect x="414.4" y="54.8" width="3.8" height="3.7" fill-opacity="0.61"/><rect x="418.0" y="54.8" width="3.8" height="3.7" fill-opacity="0.71"/><rect x="421.7" y="54.8" width="3.8" height="3.7" fill-opacity="0.76"/><rect x="425.3" y="54.8" width="3.8" height="3.7" fill-opacity="0.77"/><rect x="429.0" y="54.8" width="3.8" height="3.7" fill-opacity="0.76"/><rect x="432.6" y="54.8" width="3.8" height="3.7" fill-opacity="0.77"/><rect x="436.2" y="54.8" width="3.8" height="3.7" fill-opacity="0.80"/><rect x="439.9" y="54.8" width="3.8" height="3.7" fill-opacity="0.83"/><rect x="443.5" y="54.8" width="3.8" height="3.7" fill-opacity="0.85"/><rect x="447.2" y="54.8" width="3.8" height="3.7" fill-opacity="0.86"/><rect x="450.8" y="54.8" width="3.8" height="3.7" fill-opacity="0.86"/><rect x="454.5" y="54.8" width="3.8" height="3.7" fill-opacity="0.86"/><rect x="458.1" y="54.8" width="3.8" height="3.7" fill-opacity="0.88"/><rect x="461.8" y="54.8" width="3.8" height="3.7" fill-opacity="0.89"/><rect x="465.4" y="54.8" width="3.8" height="3.7" fill-opacity="0.89"/><rect x="403.4" y="58.3" width="3.8" height="3.7" fill-opacity="0.16"/><rect x="407.1" y="58.3" width="3.8" height="3.7" fill-opacity="0.34"/><rect x="410.7" y="58.3" width="3.8" height="3.7" fill-opacity="0.50"/><rect x="414.4" y="58.3" width="3.8" height="3.7" fill-opacity="0.64"/><rect x="418.0" y="58.3" width="3.8" height="3.7" fill-opacity="0.72"/><rect x="421.7" y="58.3" width="3.8" height="3.7" fill-opacity="0.76"/><rect x="425.3" y="58.3" width="3.8" height="3.7" fill-opacity="0.76"/><rect x="429.0" y="58.3" width="3.8" height="3.7" fill-opacity="0.76"/><rect x="432.6" y="58.3" width="3.8" height="3.7" fill-opacity="0.77"/><rect x="436.2" y="58.3" width="3.8" height="3.7" fill-opacity="0.81"/><rect x="439.9" y="58.3" width="3.8" height="3.7" fill-opacity="0.85"/><rect x="443.5" y="58.3" width="3.8" height="3.7" fill-opacity="0.89"/><rect x="447.2" y="58.3" width="3.8" height="3.7" fill-opacity="0.90"/><rect x="450.8" y="58.3" width="3.8" height="3.7" fill-opacity="0.89"/><rect x="454.5" y="58.3" width="3.8" height="3.7" fill-opacity="0.88"/><rect x="458.1" y="58.3" width="3.8" height="3.7" fill-opacity="0.88"/><rect x="461.8" y="58.3" width="3.8" height="3.7" fill-opacity="0.89"/><rect x="465.4" y="58.3" width="3.8" height="3.7" fill-opacity="0.89"/><rect x="403.4" y="61.9" width="3.8" height="3.7" fill-opacity="0.17"/><rect x="407.1" y="61.9" width="3.8" height="3.7" fill-opacity="0.36"/><rect x="410.7" y="61.9" width="3.8" height="3.7" fill-opacity="0.52"/><rect x="414.4" y="61.9" width="3.8" height="3.7" fill-opacity="0.65"/><rect x="418.0" y="61.9" width="3.8" height="3.7" fill-opacity="0.73"/><rect x="421.7" y="61.9" width="3.8" height="3.7" fill-opacity="0.77"/><rect x="425.3" y="61.9" width="3.8" height="3.7" fill-opacity="0.77"/><rect x="429.0" y="61.9" width="3.8" height="3.7" fill-opacity="0.77"/><rect x="432.6" y="61.9" width="3.8" height="3.7" fill-opacity="0.79"/><rect x="436.2" y="61.9" width="3.8" height="3.7" fill-opacity="0.83"/><rect x="439.9" y="61.9" width="3.8" height="3.7" fill-opacity="0.89"/><rect x="443.5" y="61.9" width="3.8" height="3.7" fill-opacity="0.95"/><rect x="447.2" y="61.9" width="3.8" height="3.7" fill-opacity="0.96"/><rect x="450.8" y="61.9" width="3.8" height="3.7" fill-opacity="0.92"/><rect x="454.5" y="61.9" width="3.8" height="3.7" fill-opacity="0.88"/><rect x="458.1" y="61.9" width="3.8" height="3.7" fill-opacity="0.88"/><rect x="461.8" y="61.9" width="3.8" height="3.7" fill-opacity="0.88"/><rect x="465.4" y="61.9" width="3.8" height="3.7" fill-opacity="0.88"/><rect x="403.4" y="65.5" width="3.8" height="3.7" fill-opacity="0.18"/><rect x="407.1" y="65.5" width="3.8" height="3.7" fill-opacity="0.36"/><rect x="410.7" y="65.5" width="3.8" height="3.7" fill-opacity="0.52"/><rect x="414.4" y="65.5" width="3.8" height="3.7" fill-opacity="0.64"/><rect x="418.0" y="65.5" width="3.8" height="3.7" fill-opacity="0.72"/><rect x="421.7" y="65.5" width="3.8" height="3.7" fill-opacity="0.77"/><rect x="425.3" y="65.5" width="3.8" height="3.7" fill-opacity="0.79"/><rect x="429.0" y="65.5" width="3.8" height="3.7" fill-opacity="0.80"/><rect x="432.6" y="65.5" width="3.8" height="3.7" fill-opacity="0.81"/><rect x="436.2" y="65.5" width="3.8" height="3.7" fill-opacity="0.85"/><rect x="439.9" y="65.5" width="3.8" height="3.7" fill-opacity="0.92"/><rect x="443.5" y="65.5" width="3.8" height="3.7" fill-opacity="1.00"/><rect x="447.2" y="65.5" width="3.8" height="3.7" fill-opacity="1.00"/><rect x="450.8" y="65.5" width="3.8" height="3.7" fill-opacity="0.95"/><rect x="454.5" y="65.5" width="3.8" height="3.7" fill-opacity="0.88"/><rect x="458.1" y="65.5" width="3.8" height="3.7" fill-opacity="0.86"/><rect x="461.8" y="65.5" width="3.8" height="3.7" fill-opacity="0.86"/><rect x="465.4" y="65.5" width="3.8" height="3.7" fill-opacity="0.86"/><rect x="403.4" y="69.0" width="3.8" height="3.7" fill-opacity="0.16"/><rect x="407.1" y="69.0" width="3.8" height="3.7" fill-opacity="0.33"/><rect x="410.7" y="69.0" width="3.8" height="3.7" fill-opacity="0.47"/><rect x="414.4" y="69.0" width="3.8" height="3.7" fill-opacity="0.58"/><rect x="418.0" y="69.0" width="3.8" height="3.7" fill-opacity="0.66"/><rect x="421.7" y="69.0" width="3.8" height="3.7" fill-opacity="0.72"/><rect x="425.3" y="69.0" width="3.8" height="3.7" fill-opacity="0.76"/><rect x="429.0" y="69.0" width="3.8" height="3.7" fill-opacity="0.79"/><rect x="432.6" y="69.0" width="3.8" height="3.7" fill-opacity="0.81"/><rect x="436.2" y="69.0" width="3.8" height="3.7" fill-opacity="0.84"/><rect x="439.9" y="69.0" width="3.8" height="3.7" fill-opacity="0.91"/><rect x="443.5" y="69.0" width="3.8" height="3.7" fill-opacity="1.00"/><rect x="447.2" y="69.0" width="3.8" height="3.7" fill-opacity="1.00"/><rect x="450.8" y="69.0" width="3.8" height="3.7" fill-opacity="0.94"/><rect x="454.5" y="69.0" width="3.8" height="3.7" fill-opacity="0.86"/><rect x="458.1" y="69.0" width="3.8" height="3.7" fill-opacity="0.84"/><rect x="461.8" y="69.0" width="3.8" height="3.7" fill-opacity="0.84"/><rect x="465.4" y="69.0" width="3.8" height="3.7" fill-opacity="0.84"/><rect x="403.4" y="72.6" width="3.8" height="3.7" fill-opacity="0.09"/><rect x="407.1" y="72.6" width="3.8" height="3.7" fill-opacity="0.26"/><rect x="410.7" y="72.6" width="3.8" height="3.7" fill-opacity="0.38"/><rect x="414.4" y="72.6" width="3.8" height="3.7" fill-opacity="0.47"/><rect x="418.0" y="72.6" width="3.8" height="3.7" fill-opacity="0.54"/><rect x="421.7" y="72.6" width="3.8" height="3.7" fill-opacity="0.61"/><rect x="425.3" y="72.6" width="3.8" height="3.7" fill-opacity="0.68"/><rect x="429.0" y="72.6" width="3.8" height="3.7" fill-opacity="0.74"/><rect x="432.6" y="72.6" width="3.8" height="3.7" fill-opacity="0.79"/><rect x="436.2" y="72.6" width="3.8" height="3.7" fill-opacity="0.82"/><rect x="439.9" y="72.6" width="3.8" height="3.7" fill-opacity="0.87"/><rect x="443.5" y="72.6" width="3.8" height="3.7" fill-opacity="0.93"/><rect x="447.2" y="72.6" width="3.8" height="3.7" fill-opacity="0.94"/><rect x="450.8" y="72.6" width="3.8" height="3.7" fill-opacity="0.90"/><rect x="454.5" y="72.6" width="3.8" height="3.7" fill-opacity="0.85"/><rect x="458.1" y="72.6" width="3.8" height="3.7" fill-opacity="0.84"/><rect x="461.8" y="72.6" width="3.8" height="3.7" fill-opacity="0.84"/><rect x="465.4" y="72.6" width="3.8" height="3.7" fill-opacity="0.84"/><rect x="407.1" y="76.1" width="3.8" height="3.7" fill-opacity="0.11"/><rect x="410.7" y="76.1" width="3.8" height="3.7" fill-opacity="0.22"/><rect x="414.4" y="76.1" width="3.8" height="3.7" fill-opacity="0.30"/><rect x="418.0" y="76.1" width="3.8" height="3.7" fill-opacity="0.37"/><rect x="421.7" y="76.1" width="3.8" height="3.7" fill-opacity="0.45"/><rect x="425.3" y="76.1" width="3.8" height="3.7" fill-opacity="0.55"/><rect x="429.0" y="76.1" width="3.8" height="3.7" fill-opacity="0.65"/><rect x="432.6" y="76.1" width="3.8" height="3.7" fill-opacity="0.72"/><rect x="436.2" y="76.1" width="3.8" height="3.7" fill-opacity="0.77"/><rect x="439.9" y="76.1" width="3.8" height="3.7" fill-opacity="0.81"/><rect x="443.5" y="76.1" width="3.8" height="3.7" fill-opacity="0.85"/><rect x="447.2" y="76.1" width="3.8" height="3.7" fill-opacity="0.86"/><rect x="450.8" y="76.1" width="3.8" height="3.7" fill-opacity="0.85"/><rect x="454.5" y="76.1" width="3.8" height="3.7" fill-opacity="0.84"/><rect x="458.1" y="76.1" width="3.8" height="3.7" fill-opacity="0.85"/><rect x="461.8" y="76.1" width="3.8" height="3.7" fill-opacity="0.85"/><rect x="465.4" y="76.1" width="3.8" height="3.7" fill-opacity="0.85"/><rect x="414.4" y="79.7" width="3.8" height="3.7" fill-opacity="0.06"/><rect x="418.0" y="79.7" width="3.8" height="3.7" fill-opacity="0.17"/><rect x="421.7" y="79.7" width="3.8" height="3.7" fill-opacity="0.27"/><rect x="425.3" y="79.7" width="3.8" height="3.7" fill-opacity="0.40"/><rect x="429.0" y="79.7" width="3.8" height="3.7" fill-opacity="0.53"/><rect x="432.6" y="79.7" width="3.8" height="3.7" fill-opacity="0.63"/><rect x="436.2" y="79.7" width="3.8" height="3.7" fill-opacity="0.70"/><rect x="439.9" y="79.7" width="3.8" height="3.7" fill-opacity="0.75"/><rect x="443.5" y="79.7" width="3.8" height="3.7" fill-opacity="0.79"/><rect x="447.2" y="79.7" width="3.8" height="3.7" fill-opacity="0.81"/><rect x="450.8" y="79.7" width="3.8" height="3.7" fill-opacity="0.82"/><rect x="454.5" y="79.7" width="3.8" height="3.7" fill-opacity="0.84"/><rect x="458.1" y="79.7" width="3.8" height="3.7" fill-opacity="0.85"/><rect x="461.8" y="79.7" width="3.8" height="3.7" fill-opacity="0.86"/><rect x="465.4" y="79.7" width="3.8" height="3.7" fill-opacity="0.87"/><rect x="421.7" y="83.2" width="3.8" height="3.7" fill-opacity="0.10"/><rect x="425.3" y="83.2" width="3.8" height="3.7" fill-opacity="0.26"/><rect x="429.0" y="83.2" width="3.8" height="3.7" fill-opacity="0.40"/><rect x="432.6" y="83.2" width="3.8" height="3.7" fill-opacity="0.52"/><rect x="436.2" y="83.2" width="3.8" height="3.7" fill-opacity="0.62"/><rect x="439.9" y="83.2" width="3.8" height="3.7" fill-opacity="0.68"/><rect x="443.5" y="83.2" width="3.8" height="3.7" fill-opacity="0.73"/><rect x="447.2" y="83.2" width="3.8" height="3.7" fill-opacity="0.75"/><rect x="450.8" y="83.2" width="3.8" height="3.7" fill-opacity="0.78"/><rect x="454.5" y="83.2" width="3.8" height="3.7" fill-opacity="0.80"/><rect x="458.1" y="83.2" width="3.8" height="3.7" fill-opacity="0.82"/><rect x="461.8" y="83.2" width="3.8" height="3.7" fill-opacity="0.83"/><rect x="465.4" y="83.2" width="3.8" height="3.7" fill-opacity="0.84"/><rect x="425.3" y="86.8" width="3.8" height="3.7" fill-opacity="0.17"/><rect x="429.0" y="86.8" width="3.8" height="3.7" fill-opacity="0.30"/><rect x="432.6" y="86.8" width="3.8" height="3.7" fill-opacity="0.41"/><rect x="436.2" y="86.8" width="3.8" height="3.7" fill-opacity="0.51"/><rect x="439.9" y="86.8" width="3.8" height="3.7" fill-opacity="0.58"/><rect x="443.5" y="86.8" width="3.8" height="3.7" fill-opacity="0.63"/><rect x="447.2" y="86.8" width="3.8" height="3.7" fill-opacity="0.66"/><rect x="450.8" y="86.8" width="3.8" height="3.7" fill-opacity="0.68"/><rect x="454.5" y="86.8" width="3.8" height="3.7" fill-opacity="0.70"/><rect x="458.1" y="86.8" width="3.8" height="3.7" fill-opacity="0.73"/><rect x="461.8" y="86.8" width="3.8" height="3.7" fill-opacity="0.74"/><rect x="465.4" y="86.8" width="3.8" height="3.7" fill-opacity="0.75"/><rect x="425.3" y="90.3" width="3.8" height="3.7" fill-opacity="0.09"/><rect x="429.0" y="90.3" width="3.8" height="3.7" fill-opacity="0.20"/><rect x="432.6" y="90.3" width="3.8" height="3.7" fill-opacity="0.29"/><rect x="436.2" y="90.3" width="3.8" height="3.7" fill-opacity="0.37"/><rect x="439.9" y="90.3" width="3.8" height="3.7" fill-opacity="0.44"/><rect x="443.5" y="90.3" width="3.8" height="3.7" fill-opacity="0.49"/><rect x="447.2" y="90.3" width="3.8" height="3.7" fill-opacity="0.52"/><rect x="450.8" y="90.3" width="3.8" height="3.7" fill-opacity="0.54"/><rect x="454.5" y="90.3" width="3.8" height="3.7" fill-opacity="0.57"/><rect x="458.1" y="90.3" width="3.8" height="3.7" fill-opacity="0.59"/><rect x="461.8" y="90.3" width="3.8" height="3.7" fill-opacity="0.61"/><rect x="465.4" y="90.3" width="3.8" height="3.7" fill-opacity="0.61"/><rect x="429.0" y="93.9" width="3.8" height="3.7" fill-opacity="0.08"/><rect x="432.6" y="93.9" width="3.8" height="3.7" fill-opacity="0.16"/><rect x="436.2" y="93.9" width="3.8" height="3.7" fill-opacity="0.22"/><rect x="439.9" y="93.9" width="3.8" height="3.7" fill-opacity="0.27"/><rect x="443.5" y="93.9" width="3.8" height="3.7" fill-opacity="0.31"/><rect x="447.2" y="93.9" width="3.8" height="3.7" fill-opacity="0.35"/><rect x="450.8" y="93.9" width="3.8" height="3.7" fill-opacity="0.37"/><rect x="454.5" y="93.9" width="3.8" height="3.7" fill-opacity="0.40"/><rect x="458.1" y="93.9" width="3.8" height="3.7" fill-opacity="0.43"/><rect x="461.8" y="93.9" width="3.8" height="3.7" fill-opacity="0.45"/><rect x="465.4" y="93.9" width="3.8" height="3.7" fill-opacity="0.45"/><rect x="432.6" y="97.4" width="3.8" height="3.7" fill-opacity="0.04"/><rect x="436.2" y="97.4" width="3.8" height="3.7" fill-opacity="0.09"/><rect x="439.9" y="97.4" width="3.8" height="3.7" fill-opacity="0.13"/><rect x="443.5" y="97.4" width="3.8" height="3.7" fill-opacity="0.17"/><rect x="447.2" y="97.4" width="3.8" height="3.7" fill-opacity="0.20"/><rect x="450.8" y="97.4" width="3.8" height="3.7" fill-opacity="0.24"/><rect x="454.5" y="97.4" width="3.8" height="3.7" fill-opacity="0.27"/><rect x="458.1" y="97.4" width="3.8" height="3.7" fill-opacity="0.31"/><rect x="461.8" y="97.4" width="3.8" height="3.7" fill-opacity="0.33"/><rect x="465.4" y="97.4" width="3.8" height="3.7" fill-opacity="0.33"/><rect x="436.2" y="101.0" width="3.8" height="3.7" fill-opacity="0.07"/><rect x="439.9" y="101.0" width="3.8" height="3.7" fill-opacity="0.11"/><rect x="443.5" y="101.0" width="3.8" height="3.7" fill-opacity="0.15"/><rect x="447.2" y="101.0" width="3.8" height="3.7" fill-opacity="0.19"/><rect x="450.8" y="101.0" width="3.8" height="3.7" fill-opacity="0.22"/><rect x="454.5" y="101.0" width="3.8" height="3.7" fill-opacity="0.26"/><rect x="458.1" y="101.0" width="3.8" height="3.7" fill-opacity="0.29"/><rect x="461.8" y="101.0" width="3.8" height="3.7" fill-opacity="0.31"/><rect x="465.4" y="101.0" width="3.8" height="3.7" fill-opacity="0.31"/></g><g fill="rgb(50, 145, 40)" filter="url(#hmblur)"><rect x="403.4" y="83.2" width="3.8" height="3.7" fill-opacity="0.07"/><rect x="407.1" y="83.2" width="3.8" height="3.7" fill-opacity="0.11"/><rect x="410.7" y="83.2" width="3.8" height="3.7" fill-opacity="0.09"/><rect x="399.8" y="86.8" width="3.8" height="3.7" fill-opacity="0.03"/><rect x="403.4" y="86.8" width="3.8" height="3.7" fill-opacity="0.10"/><rect x="407.1" y="86.8" width="3.8" height="3.7" fill-opacity="0.15"/><rect x="410.7" y="86.8" width="3.8" height="3.7" fill-opacity="0.14"/><rect x="414.4" y="86.8" width="3.8" height="3.7" fill-opacity="0.07"/><rect x="403.4" y="90.3" width="3.8" height="3.7" fill-opacity="0.06"/><rect x="407.1" y="90.3" width="3.8" height="3.7" fill-opacity="0.11"/><rect x="410.7" y="90.3" width="3.8" height="3.7" fill-opacity="0.10"/><rect x="414.4" y="90.3" width="3.8" height="3.7" fill-opacity="0.03"/></g><path d="M455.3 113.4L454.9 107.6L457.8 103.0L458.2 101.8L457.9 100.7L456.4 99.5L453.5 98.4L441.5 95.6L437.9 94.4L434.4 92.6L431.5 90.3L427.0 84.5L424.9 82.5L421.3 80.4L411.8 76.4L409.5 74.4L407.9 71.7L407.1 68.3L407.1 64.8L408.9 50.9L410.0 46.3L414.1 34.7L415.6 27.7L415.8 10.4M478.2 94.5L461.6 94.4L448.6 92.5L442.7 91.0L439.1 89.4L436.9 87.9L426.5 78.7L416.6 73.7L413.3 70.6L412.1 67.1L412.2 61.3L414.8 47.4L419.4 34.7L421.3 27.7L421.8 23.1L421.7 10.4M436.3 10.4L436.6 15.0L436.3 17.3L435.6 18.8L434.4 19.1L433.2 17.3L433.2 10.4M478.2 90.2L462.8 90.2L449.8 87.9L445.7 86.8L441.1 84.5L428.5 75.0L421.1 70.6L419.8 69.4L418.2 67.1L417.6 64.8L417.6 61.3L420.2 50.4L424.4 41.6L427.6 32.4L429.6 28.7L432.0 25.8L434.4 24.2L435.6 24.3L436.7 25.0L437.9 26.6L440.4 32.4L441.5 33.6L443.9 35.0L447.4 35.5L449.8 35.1L452.1 33.5L452.7 32.4L452.7 31.2L452.1 30.1L451.0 29.1L441.9 26.6L440.0 25.4L439.3 24.3L439.1 22.0L439.6 16.2L439.5 10.4M478.2 69.4L466.4 69.8L460.4 69.3L458.8 70.6L455.7 76.9L453.3 78.4L451.0 78.9L447.4 78.6L443.9 77.0L440.3 74.1L438.2 70.6L437.9 68.3L438.8 64.8L440.5 61.3L443.9 57.2L447.4 54.8L453.3 54.8L455.7 54.3L457.1 53.2L458.5 50.9L459.1 47.4L458.9 40.5L460.2 35.9L460.7 32.4L460.1 23.1L460.2 10.4M478.2 83.6L466.4 83.9L462.8 83.5L460.1 82.2L459.2 81.0L458.9 79.8L459.4 78.7L460.4 77.8L464.0 76.3L466.4 76.0L472.3 76.5L478.2 76.5" fill="none" stroke="#fff" stroke-opacity="0.35" stroke-width="0.6"/></g>
<path d="M402.5 24.10V100.90M417.5 24.10V100.90M432.5 24.10V100.90M447.5 24.10V100.90M462.5 24.10V100.90M400.00 25.5H464.00M400.00 39.5H464.00M400.00 54.5H464.00M400.00 69.5H464.00M400.00 83.5H464.00M400.00 98.5H464.00" stroke="#000" stroke-opacity="0.17" stroke-width="1" fill="none"/>
<rect x="432.60" y="54.54" width="30.40" height="29.44" fill="none" stroke="#fff" stroke-opacity="0.7" stroke-width="0.9"/>
<g clip-path="url(#clipAML98)"><g fill="rgb(206, 30, 32)" filter="url(#hmblur)"><rect x="82.1" y="137.7" width="4.0" height="3.9" fill-opacity="0.10"/><rect x="86.0" y="137.7" width="4.0" height="3.9" fill-opacity="0.11"/><rect x="89.8" y="137.7" width="4.0" height="3.9" fill-opacity="0.23"/><rect x="93.6" y="137.7" width="4.0" height="3.9" fill-opacity="0.36"/><rect x="97.4" y="137.7" width="4.0" height="3.9" fill-opacity="0.47"/><rect x="101.2" y="137.7" width="4.0" height="3.9" fill-opacity="0.56"/><rect x="105.0" y="137.7" width="4.0" height="3.9" fill-opacity="0.66"/><rect x="108.9" y="137.7" width="4.0" height="3.9" fill-opacity="0.74"/><rect x="112.7" y="137.7" width="4.0" height="3.9" fill-opacity="0.78"/><rect x="116.5" y="137.7" width="4.0" height="3.9" fill-opacity="0.78"/><rect x="120.3" y="137.7" width="4.0" height="3.9" fill-opacity="0.76"/><rect x="124.1" y="137.7" width="4.0" height="3.9" fill-opacity="0.76"/><rect x="127.9" y="137.7" width="4.0" height="3.9" fill-opacity="0.77"/><rect x="131.7" y="137.7" width="4.0" height="3.9" fill-opacity="0.80"/><rect x="135.6" y="137.7" width="4.0" height="3.9" fill-opacity="0.81"/><rect x="139.4" y="137.7" width="4.0" height="3.9" fill-opacity="0.80"/><rect x="143.2" y="137.7" width="4.0" height="3.9" fill-opacity="0.82"/><rect x="147.0" y="137.7" width="4.0" height="3.9" fill-opacity="0.88"/><rect x="150.8" y="137.7" width="4.0" height="3.9" fill-opacity="0.93"/><rect x="154.6" y="137.7" width="4.0" height="3.9" fill-opacity="0.94"/><rect x="82.1" y="141.4" width="4.0" height="3.9" fill-opacity="0.10"/><rect x="86.0" y="141.4" width="4.0" height="3.9" fill-opacity="0.11"/><rect x="89.8" y="141.4" width="4.0" height="3.9" fill-opacity="0.23"/><rect x="93.6" y="141.4" width="4.0" height="3.9" fill-opacity="0.36"/><rect x="97.4" y="141.4" width="4.0" height="3.9" fill-opacity="0.47"/><rect x="101.2" y="141.4" width="4.0" height="3.9" fill-opacity="0.56"/><rect x="105.0" y="141.4" width="4.0" height="3.9" fill-opacity="0.66"/><rect x="108.9" y="141.4" width="4.0" height="3.9" fill-opacity="0.74"/><rect x="112.7" y="141.4" width="4.0" height="3.9" fill-opacity="0.78"/><rect x="116.5" y="141.4" width="4.0" height="3.9" fill-opacity="0.78"/><rect x="120.3" y="141.4" width="4.0" height="3.9" fill-opacity="0.76"/><rect x="124.1" y="141.4" width="4.0" height="3.9" fill-opacity="0.76"/><rect x="127.9" y="141.4" width="4.0" height="3.9" fill-opacity="0.77"/><rect x="131.7" y="141.4" width="4.0" height="3.9" fill-opacity="0.80"/><rect x="135.6" y="141.4" width="4.0" height="3.9" fill-opacity="0.81"/><rect x="139.4" y="141.4" width="4.0" height="3.9" fill-opacity="0.80"/><rect x="143.2" y="141.4" width="4.0" height="3.9" fill-opacity="0.82"/><rect x="147.0" y="141.4" width="4.0" height="3.9" fill-opacity="0.88"/><rect x="150.8" y="141.4" width="4.0" height="3.9" fill-opacity="0.93"/><rect x="154.6" y="141.4" width="4.0" height="3.9" fill-opacity="0.94"/><rect x="82.1" y="145.1" width="4.0" height="3.9" fill-opacity="0.10"/><rect x="86.0" y="145.1" width="4.0" height="3.9" fill-opacity="0.11"/><rect x="89.8" y="145.1" width="4.0" height="3.9" fill-opacity="0.23"/><rect x="93.6" y="145.1" width="4.0" height="3.9" fill-opacity="0.36"/><rect x="97.4" y="145.1" width="4.0" height="3.9" fill-opacity="0.47"/><rect x="101.2" y="145.1" width="4.0" height="3.9" fill-opacity="0.56"/><rect x="105.0" y="145.1" width="4.0" height="3.9" fill-opacity="0.66"/><rect x="108.9" y="145.1" width="4.0" height="3.9" fill-opacity="0.74"/><rect x="112.7" y="145.1" width="4.0" height="3.9" fill-opacity="0.78"/><rect x="116.5" y="145.1" width="4.0" height="3.9" fill-opacity="0.77"/><rect x="120.3" y="145.1" width="4.0" height="3.9" fill-opacity="0.76"/><rect x="124.1" y="145.1" width="4.0" height="3.9" fill-opacity="0.77"/><rect x="127.9" y="145.1" width="4.0" height="3.9" fill-opacity="0.79"/><rect x="131.7" y="145.1" width="4.0" height="3.9" fill-opacity="0.80"/><rect x="135.6" y="145.1" width="4.0" height="3.9" fill-opacity="0.80"/><rect x="139.4" y="145.1" width="4.0" height="3.9" fill-opacity="0.78"/><rect x="143.2" y="145.1" width="4.0" height="3.9" fill-opacity="0.80"/><rect x="147.0" y="145.1" width="4.0" height="3.9" fill-opacity="0.86"/><rect x="150.8" y="145.1" width="4.0" height="3.9" fill-opacity="0.92"/><rect x="154.6" y="145.1" width="4.0" height="3.9" fill-opacity="0.92"/><rect x="82.1" y="148.9" width="4.0" height="3.9" fill-opacity="0.10"/><rect x="86.0" y="148.9" width="4.0" height="3.9" fill-opacity="0.11"/><rect x="89.8" y="148.9" width="4.0" height="3.9" fill-opacity="0.23"/><rect x="93.6" y="148.9" width="4.0" height="3.9" fill-opacity="0.36"/><rect x="97.4" y="148.9" width="4.0" height="3.9" fill-opacity="0.47"/><rect x="101.2" y="148.9" width="4.0" height="3.9" fill-opacity="0.56"/><rect x="105.0" y="148.9" width="4.0" height="3.9" fill-opacity="0.66"/><rect x="108.9" y="148.9" width="4.0" height="3.9" fill-opacity="0.74"/><rect x="112.7" y="148.9" width="4.0" height="3.9" fill-opacity="0.78"/><rect x="116.5" y="148.9" width="4.0" height="3.9" fill-opacity="0.77"/><rect x="120.3" y="148.9" width="4.0" height="3.9" fill-opacity="0.77"/><rect x="124.1" y="148.9" width="4.0" height="3.9" fill-opacity="0.79"/><rect x="127.9" y="148.9" width="4.0" height="3.9" fill-opacity="0.81"/><rect x="131.7" y="148.9" width="4.0" height="3.9" fill-opacity="0.81"/><rect x="135.6" y="148.9" width="4.0" height="3.9" fill-opacity="0.79"/><rect x="139.4" y="148.9" width="4.0" height="3.9" fill-opacity="0.76"/><rect x="143.2" y="148.9" width="4.0" height="3.9" fill-opacity="0.78"/><rect x="147.0" y="148.9" width="4.0" height="3.9" fill-opacity="0.84"/><rect x="150.8" y="148.9" width="4.0" height="3.9" fill-opacity="0.90"/><rect x="154.6" y="148.9" width="4.0" height="3.9" fill-opacity="0.90"/><rect x="82.1" y="152.6" width="4.0" height="3.9" fill-opacity="0.10"/><rect x="86.0" y="152.6" width="4.0" height="3.9" fill-opacity="0.12"/><rect x="89.8" y="152.6" width="4.0" height="3.9" fill-opacity="0.22"/><rect x="93.6" y="152.6" width="4.0" height="3.9" fill-opacity="0.36"/><rect x="97.4" y="152.6" width="4.0" height="3.9" fill-opacity="0.48"/><rect x="101.2" y="152.6" width="4.0" height="3.9" fill-opacity="0.58"/><rect x="105.0" y="152.6" width="4.0" height="3.9" fill-opacity="0.67"/><rect x="108.9" y="152.6" width="4.0" height="3.9" fill-opacity="0.75"/><rect x="112.7" y="152.6" width="4.0" height="3.9" fill-opacity="0.78"/><rect x="116.5" y="152.6" width="4.0" height="3.9" fill-opacity="0.78"/><rect x="120.3" y="152.6" width="4.0" height="3.9" fill-opacity="0.79"/><rect x="124.1" y="152.6" width="4.0" height="3.9" fill-opacity="0.81"/><rect x="127.9" y="152.6" width="4.0" height="3.9" fill-opacity="0.83"/><rect x="131.7" y="152.6" width="4.0" height="3.9" fill-opacity="0.84"/><rect x="135.6" y="152.6" width="4.0" height="3.9" fill-opacity="0.82"/><rect x="139.4" y="152.6" width="4.0" height="3.9" fill-opacity="0.79"/><rect x="143.2" y="152.6" width="4.0" height="3.9" fill-opacity="0.79"/><rect x="147.0" y="152.6" width="4.0" height="3.9" fill-opacity="0.84"/><rect x="150.8" y="152.6" width="4.0" height="3.9" fill-opacity="0.89"/><rect x="154.6" y="152.6" width="4.0" height="3.9" fill-opacity="0.89"/><rect x="82.1" y="156.3" width="4.0" height="3.9" fill-opacity="0.10"/><rect x="86.0" y="156.3" width="4.0" height="3.9" fill-opacity="0.12"/><rect x="89.8" y="156.3" width="4.0" height="3.9" fill-opacity="0.22"/><rect x="93.6" y="156.3" width="4.0" height="3.9" fill-opacity="0.36"/><rect x="97.4" y="156.3" width="4.0" height="3.9" fill-opacity="0.49"/><rect x="101.2" y="156.3" width="4.0" height="3.9" fill-opacity="0.60"/><rect x="105.0" y="156.3" width="4.0" height="3.9" fill-opacity="0.69"/><rect x="108.9" y="156.3" width="4.0" height="3.9" fill-opacity="0.75"/><rect x="112.7" y="156.3" width="4.0" height="3.9" fill-opacity="0.78"/><rect x="116.5" y="156.3" width="4.0" height="3.9" fill-opacity="0.80"/><rect x="120.3" y="156.3" width="4.0" height="3.9" fill-opacity="0.81"/><rect x="124.1" y="156.3" width="4.0" height="3.9" fill-opacity="0.83"/><rect x="127.9" y="156.3" width="4.0" height="3.9" fill-opacity="0.85"/><rect x="131.7" y="156.3" width="4.0" height="3.9" fill-opacity="0.87"/><rect x="135.6" y="156.3" width="4.0" height="3.9" fill-opacity="0.87"/><rect x="139.4" y="156.3" width="4.0" height="3.9" fill-opacity="0.84"/><rect x="143.2" y="156.3" width="4.0" height="3.9" fill-opacity="0.84"/><rect x="147.0" y="156.3" width="4.0" height="3.9" fill-opacity="0.86"/><rect x="150.8" y="156.3" width="4.0" height="3.9" fill-opacity="0.89"/><rect x="154.6" y="156.3" width="4.0" height="3.9" fill-opacity="0.89"/><rect x="82.1" y="160.0" width="4.0" height="3.9" fill-opacity="0.10"/><rect x="86.0" y="160.0" width="4.0" height="3.9" fill-opacity="0.12"/><rect x="89.8" y="160.0" width="4.0" height="3.9" fill-opacity="0.22"/><rect x="93.6" y="160.0" width="4.0" height="3.9" fill-opacity="0.36"/><rect x="97.4" y="160.0" width="4.0" height="3.9" fill-opacity="0.49"/><rect x="101.2" y="160.0" width="4.0" height="3.9" fill-opacity="0.61"/><rect x="105.0" y="160.0" width="4.0" height="3.9" fill-opacity="0.70"/><rect x="108.9" y="160.0" width="4.0" height="3.9" fill-opacity="0.75"/><rect x="112.7" y="160.0" width="4.0" height="3.9" fill-opacity="0.78"/><rect x="116.5" y="160.0" width="4.0" height="3.9" fill-opacity="0.80"/><rect x="120.3" y="160.0" width="4.0" height="3.9" fill-opacity="0.82"/><rect x="124.1" y="160.0" width="4.0" height="3.9" fill-opacity="0.85"/><rect x="127.9" y="160.0" width="4.0" height="3.9" fill-opacity="0.88"/><rect x="131.7" y="160.0" width="4.0" height="3.9" fill-opacity="0.92"/><rect x="135.6" y="160.0" width="4.0" height="3.9" fill-opacity="0.92"/><rect x="139.4" y="160.0" width="4.0" height="3.9" fill-opacity="0.89"/><rect x="143.2" y="160.0" width="4.0" height="3.9" fill-opacity="0.87"/><rect x="147.0" y="160.0" width="4.0" height="3.9" fill-opacity="0.88"/><rect x="150.8" y="160.0" width="4.0" height="3.9" fill-opacity="0.89"/><rect x="154.6" y="160.0" width="4.0" height="3.9" fill-opacity="0.89"/><rect x="82.1" y="163.8" width="4.0" height="3.9" fill-opacity="0.10"/><rect x="86.0" y="163.8" width="4.0" height="3.9" fill-opacity="0.12"/><rect x="89.8" y="163.8" width="4.0" height="3.9" fill-opacity="0.22"/><rect x="93.6" y="163.8" width="4.0" height="3.9" fill-opacity="0.36"/><rect x="97.4" y="163.8" width="4.0" height="3.9" fill-opacity="0.49"/><rect x="101.2" y="163.8" width="4.0" height="3.9" fill-opacity="0.61"/><rect x="105.0" y="163.8" width="4.0" height="3.9" fill-opacity="0.69"/><rect x="108.9" y="163.8" width="4.0" height="3.9" fill-opacity="0.75"/><rect x="112.7" y="163.8" width="4.0" height="3.9" fill-opacity="0.78"/><rect x="116.5" y="163.8" width="4.0" height="3.9" fill-opacity="0.80"/><rect x="120.3" y="163.8" width="4.0" height="3.9" fill-opacity="0.82"/><rect x="124.1" y="163.8" width="4.0" height="3.9" fill-opacity="0.86"/><rect x="127.9" y="163.8" width="4.0" height="3.9" fill-opacity="0.91"/><rect x="131.7" y="163.8" width="4.0" height="3.9" fill-opacity="0.95"/><rect x="135.6" y="163.8" width="4.0" height="3.9" fill-opacity="0.96"/><rect x="139.4" y="163.8" width="4.0" height="3.9" fill-opacity="0.92"/><rect x="143.2" y="163.8" width="4.0" height="3.9" fill-opacity="0.88"/><rect x="147.0" y="163.8" width="4.0" height="3.9" fill-opacity="0.88"/><rect x="150.8" y="163.8" width="4.0" height="3.9" fill-opacity="0.89"/><rect x="154.6" y="163.8" width="4.0" height="3.9" fill-opacity="0.89"/><rect x="82.1" y="167.5" width="4.0" height="3.9" fill-opacity="0.10"/><rect x="86.0" y="167.5" width="4.0" height="3.9" fill-opacity="0.12"/><rect x="89.8" y="167.5" width="4.0" height="3.9" fill-opacity="0.22"/><rect x="93.6" y="167.5" width="4.0" height="3.9" fill-opacity="0.36"/><rect x="97.4" y="167.5" width="4.0" height="3.9" fill-opacity="0.49"/><rect x="101.2" y="167.5" width="4.0" height="3.9" fill-opacity="0.60"/><rect x="105.0" y="167.5" width="4.0" height="3.9" fill-opacity="0.69"/><rect x="108.9" y="167.5" width="4.0" height="3.9" fill-opacity="0.75"/><rect x="112.7" y="167.5" width="4.0" height="3.9" fill-opacity="0.78"/><rect x="116.5" y="167.5" width="4.0" height="3.9" fill-opacity="0.80"/><rect x="120.3" y="167.5" width="4.0" height="3.9" fill-opacity="0.82"/><rect x="124.1" y="167.5" width="4.0" height="3.9" fill-opacity="0.85"/><rect x="127.9" y="167.5" width="4.0" height="3.9" fill-opacity="0.90"/><rect x="131.7" y="167.5" width="4.0" height="3.9" fill-opacity="0.94"/><rect x="135.6" y="167.5" width="4.0" height="3.9" fill-opacity="0.95"/><rect x="139.4" y="167.5" width="4.0" height="3.9" fill-opacity="0.91"/><rect x="143.2" y="167.5" width="4.0" height="3.9" fill-opacity="0.88"/><rect x="147.0" y="167.5" width="4.0" height="3.9" fill-opacity="0.88"/><rect x="150.8" y="167.5" width="4.0" height="3.9" fill-opacity="0.89"/><rect x="154.6" y="167.5" width="4.0" height="3.9" fill-opacity="0.89"/><rect x="82.1" y="171.2" width="4.0" height="3.9" fill-opacity="0.10"/><rect x="86.0" y="171.2" width="4.0" height="3.9" fill-opacity="0.12"/><rect x="89.8" y="171.2" width="4.0" height="3.9" fill-opacity="0.22"/><rect x="93.6" y="171.2" width="4.0" height="3.9" fill-opacity="0.36"/><rect x="97.4" y="171.2" width="4.0" height="3.9" fill-opacity="0.49"/><rect x="101.2" y="171.2" width="4.0" height="3.9" fill-opacity="0.61"/><rect x="105.0" y="171.2" width="4.0" height="3.9" fill-opacity="0.69"/><rect x="108.9" y="171.2" width="4.0" height="3.9" fill-opacity="0.75"/><rect x="112.7" y="171.2" width="4.0" height="3.9" fill-opacity="0.78"/><rect x="116.5" y="171.2" width="4.0" height="3.9" fill-opacity="0.80"/><rect x="120.3" y="171.2" width="4.0" height="3.9" fill-opacity="0.82"/><rect x="124.1" y="171.2" width="4.0" height="3.9" fill-opacity="0.84"/><rect x="127.9" y="171.2" width="4.0" height="3.9" fill-opacity="0.87"/><rect x="131.7" y="171.2" width="4.0" height="3.9" fill-opacity="0.90"/><rect x="135.6" y="171.2" width="4.0" height="3.9" fill-opacity="0.90"/><rect x="139.4" y="171.2" width="4.0" height="3.9" fill-opacity="0.87"/><rect x="143.2" y="171.2" width="4.0" height="3.9" fill-opacity="0.86"/><rect x="147.0" y="171.2" width="4.0" height="3.9" fill-opacity="0.87"/><rect x="150.8" y="171.2" width="4.0" height="3.9" fill-opacity="0.89"/><rect x="154.6" y="171.2" width="4.0" height="3.9" fill-opacity="0.89"/><rect x="82.1" y="175.0" width="4.0" height="3.9" fill-opacity="0.10"/><rect x="86.0" y="175.0" width="4.0" height="3.9" fill-opacity="0.12"/><rect x="89.8" y="175.0" width="4.0" height="3.9" fill-opacity="0.22"/><rect x="93.6" y="175.0" width="4.0" height="3.9" fill-opacity="0.36"/><rect x="97.4" y="175.0" width="4.0" height="3.9" fill-opacity="0.49"/><rect x="101.2" y="175.0" width="4.0" height="3.9" fill-opacity="0.61"/><rect x="105.0" y="175.0" width="4.0" height="3.9" fill-opacity="0.69"/><rect x="108.9" y="175.0" width="4.0" height="3.9" fill-opacity="0.75"/><rect x="112.7" y="175.0" width="4.0" height="3.9" fill-opacity="0.78"/><rect x="116.5" y="175.0" width="4.0" height="3.9" fill-opacity="0.80"/><rect x="120.3" y="175.0" width="4.0" height="3.9" fill-opacity="0.81"/><rect x="124.1" y="175.0" width="4.0" height="3.9" fill-opacity="0.82"/><rect x="127.9" y="175.0" width="4.0" height="3.9" fill-opacity="0.84"/><rect x="131.7" y="175.0" width="4.0" height="3.9" fill-opacity="0.86"/><rect x="135.6" y="175.0" width="4.0" height="3.9" fill-opacity="0.86"/><rect x="139.4" y="175.0" width="4.0" height="3.9" fill-opacity="0.84"/><rect x="143.2" y="175.0" width="4.0" height="3.9" fill-opacity="0.84"/><rect x="147.0" y="175.0" width="4.0" height="3.9" fill-opacity="0.86"/><rect x="150.8" y="175.0" width="4.0" height="3.9" fill-opacity="0.89"/><rect x="154.6" y="175.0" width="4.0" height="3.9" fill-opacity="0.89"/><rect x="82.1" y="178.7" width="4.0" height="3.9" fill-opacity="0.10"/><rect x="86.0" y="178.7" width="4.0" height="3.9" fill-opacity="0.12"/><rect x="89.8" y="178.7" width="4.0" height="3.9" fill-opacity="0.22"/><rect x="93.6" y="178.7" width="4.0" height="3.9" fill-opacity="0.36"/><rect x="97.4" y="178.7" width="4.0" height="3.9" fill-opacity="0.49"/><rect x="101.2" y="178.7" width="4.0" height="3.9" fill-opacity="0.61"/><rect x="105.0" y="178.7" width="4.0" height="3.9" fill-opacity="0.69"/><rect x="108.9" y="178.7" width="4.0" height="3.9" fill-opacity="0.75"/><rect x="112.7" y="178.7" width="4.0" height="3.9" fill-opacity="0.78"/><rect x="116.5" y="178.7" width="4.0" height="3.9" fill-opacity="0.80"/><rect x="120.3" y="178.7" width="4.0" height="3.9" fill-opacity="0.81"/><rect x="124.1" y="178.7" width="4.0" height="3.9" fill-opacity="0.81"/><rect x="127.9" y="178.7" width="4.0" height="3.9" fill-opacity="0.82"/><rect x="131.7" y="178.7" width="4.0" height="3.9" fill-opacity="0.83"/><rect x="135.6" y="178.7" width="4.0" height="3.9" fill-opacity="0.83"/><rect x="139.4" y="178.7" width="4.0" height="3.9" fill-opacity="0.81"/><rect x="143.2" y="178.7" width="4.0" height="3.9" fill-opacity="0.82"/><rect x="147.0" y="178.7" width="4.0" height="3.9" fill-opacity="0.86"/><rect x="150.8" y="178.7" width="4.0" height="3.9" fill-opacity="0.89"/><rect x="154.6" y="178.7" width="4.0" height="3.9" fill-opacity="0.89"/><rect x="82.1" y="182.4" width="4.0" height="3.9" fill-opacity="0.10"/><rect x="86.0" y="182.4" width="4.0" height="3.9" fill-opacity="0.12"/><rect x="89.8" y="182.4" width="4.0" height="3.9" fill-opacity="0.22"/><rect x="93.6" y="182.4" width="4.0" height="3.9" fill-opacity="0.36"/><rect x="97.4" y="182.4" width="4.0" height="3.9" fill-opacity="0.49"/><rect x="101.2" y="182.4" width="4.0" height="3.9" fill-opacity="0.61"/><rect x="105.0" y="182.4" width="4.0" height="3.9" fill-opacity="0.69"/><rect x="108.9" y="182.4" width="4.0" height="3.9" fill-opacity="0.75"/><rect x="112.7" y="182.4" width="4.0" height="3.9" fill-opacity="0.79"/><rect x="116.5" y="182.4" width="4.0" height="3.9" fill-opacity="0.81"/><rect x="120.3" y="182.4" width="4.0" height="3.9" fill-opacity="0.81"/><rect x="124.1" y="182.4" width="4.0" height="3.9" fill-opacity="0.81"/><rect x="127.9" y="182.4" width="4.0" height="3.9" fill-opacity="0.79"/><rect x="131.7" y="182.4" width="4.0" height="3.9" fill-opacity="0.78"/><rect x="135.6" y="182.4" width="4.0" height="3.9" fill-opacity="0.77"/><rect x="139.4" y="182.4" width="4.0" height="3.9" fill-opacity="0.78"/><rect x="143.2" y="182.4" width="4.0" height="3.9" fill-opacity="0.82"/><rect x="147.0" y="182.4" width="4.0" height="3.9" fill-opacity="0.86"/><rect x="150.8" y="182.4" width="4.0" height="3.9" fill-opacity="0.89"/><rect x="154.6" y="182.4" width="4.0" height="3.9" fill-opacity="0.89"/><rect x="82.1" y="186.2" width="4.0" height="3.9" fill-opacity="0.10"/><rect x="86.0" y="186.2" width="4.0" height="3.9" fill-opacity="0.12"/><rect x="89.8" y="186.2" width="4.0" height="3.9" fill-opacity="0.22"/><rect x="93.6" y="186.2" width="4.0" height="3.9" fill-opacity="0.36"/><rect x="97.4" y="186.2" width="4.0" height="3.9" fill-opacity="0.49"/><rect x="101.2" y="186.2" width="4.0" height="3.9" fill-opacity="0.61"/><rect x="105.0" y="186.2" width="4.0" height="3.9" fill-opacity="0.70"/><rect x="108.9" y="186.2" width="4.0" height="3.9" fill-opacity="0.75"/><rect x="112.7" y="186.2" width="4.0" height="3.9" fill-opacity="0.79"/><rect x="116.5" y="186.2" width="4.0" height="3.9" fill-opacity="0.81"/><rect x="120.3" y="186.2" width="4.0" height="3.9" fill-opacity="0.81"/><rect x="124.1" y="186.2" width="4.0" height="3.9" fill-opacity="0.80"/><rect x="127.9" y="186.2" width="4.0" height="3.9" fill-opacity="0.76"/><rect x="131.7" y="186.2" width="4.0" height="3.9" fill-opacity="0.70"/><rect x="135.6" y="186.2" width="4.0" height="3.9" fill-opacity="0.69"/><rect x="139.4" y="186.2" width="4.0" height="3.9" fill-opacity="0.75"/><rect x="143.2" y="186.2" width="4.0" height="3.9" fill-opacity="0.83"/><rect x="147.0" y="186.2" width="4.0" height="3.9" fill-opacity="0.87"/><rect x="150.8" y="186.2" width="4.0" height="3.9" fill-opacity="0.89"/><rect x="154.6" y="186.2" width="4.0" height="3.9" fill-opacity="0.89"/><rect x="82.1" y="189.9" width="4.0" height="3.9" fill-opacity="0.10"/><rect x="86.0" y="189.9" width="4.0" height="3.9" fill-opacity="0.11"/><rect x="89.8" y="189.9" width="4.0" height="3.9" fill-opacity="0.22"/><rect x="93.6" y="189.9" width="4.0" height="3.9" fill-opacity="0.36"/><rect x="97.4" y="189.9" width="4.0" height="3.9" fill-opacity="0.49"/><rect x="101.2" y="189.9" width="4.0" height="3.9" fill-opacity="0.60"/><rect x="105.0" y="189.9" width="4.0" height="3.9" fill-opacity="0.68"/><rect x="108.9" y="189.9" width="4.0" height="3.9" fill-opacity="0.74"/><rect x="112.7" y="189.9" width="4.0" height="3.9" fill-opacity="0.78"/><rect x="116.5" y="189.9" width="4.0" height="3.9" fill-opacity="0.80"/><rect x="120.3" y="189.9" width="4.0" height="3.9" fill-opacity="0.80"/><rect x="124.1" y="189.9" width="4.0" height="3.9" fill-opacity="0.79"/><rect x="127.9" y="189.9" width="4.0" height="3.9" fill-opacity="0.72"/><rect x="131.7" y="189.9" width="4.0" height="3.9" fill-opacity="0.63"/><rect x="135.6" y="189.9" width="4.0" height="3.9" fill-opacity="0.62"/><rect x="139.4" y="189.9" width="4.0" height="3.9" fill-opacity="0.72"/><rect x="143.2" y="189.9" width="4.0" height="3.9" fill-opacity="0.82"/><rect x="147.0" y="189.9" width="4.0" height="3.9" fill-opacity="0.87"/><rect x="150.8" y="189.9" width="4.0" height="3.9" fill-opacity="0.89"/><rect x="154.6" y="189.9" width="4.0" height="3.9" fill-opacity="0.89"/><rect x="82.1" y="193.6" width="4.0" height="3.9" fill-opacity="0.10"/><rect x="86.0" y="193.6" width="4.0" height="3.9" fill-opacity="0.11"/><rect x="89.8" y="193.6" width="4.0" height="3.9" fill-opacity="0.22"/><rect x="93.6" y="193.6" width="4.0" height="3.9" fill-opacity="0.36"/><rect x="97.4" y="193.6" width="4.0" height="3.9" fill-opacity="0.48"/><rect x="101.2" y="193.6" width="4.0" height="3.9" fill-opacity="0.58"/><rect x="105.0" y="193.6" width="4.0" height="3.9" fill-opacity="0.66"/><rect x="108.9" y="193.6" width="4.0" height="3.9" fill-opacity="0.72"/><rect x="112.7" y="193.6" width="4.0" height="3.9" fill-opacity="0.76"/><rect x="116.5" y="193.6" width="4.0" height="3.9" fill-opacity="0.77"/><rect x="120.3" y="193.6" width="4.0" height="3.9" fill-opacity="0.78"/><rect x="124.1" y="193.6" width="4.0" height="3.9" fill-opacity="0.77"/><rect x="127.9" y="193.6" width="4.0" height="3.9" fill-opacity="0.70"/><rect x="131.7" y="193.6" width="4.0" height="3.9" fill-opacity="0.61"/><rect x="135.6" y="193.6" width="4.0" height="3.9" fill-opacity="0.59"/><rect x="139.4" y="193.6" width="4.0" height="3.9" fill-opacity="0.69"/><rect x="143.2" y="193.6" width="4.0" height="3.9" fill-opacity="0.80"/><rect x="147.0" y="193.6" width="4.0" height="3.9" fill-opacity="0.86"/><rect x="150.8" y="193.6" width="4.0" height="3.9" fill-opacity="0.88"/><rect x="154.6" y="193.6" width="4.0" height="3.9" fill-opacity="0.89"/><rect x="82.1" y="197.3" width="4.0" height="3.9" fill-opacity="0.10"/><rect x="86.0" y="197.3" width="4.0" height="3.9" fill-opacity="0.12"/><rect x="89.8" y="197.3" width="4.0" height="3.9" fill-opacity="0.22"/><rect x="93.6" y="197.3" width="4.0" height="3.9" fill-opacity="0.36"/><rect x="97.4" y="197.3" width="4.0" height="3.9" fill-opacity="0.47"/><rect x="101.2" y="197.3" width="4.0" height="3.9" fill-opacity="0.56"/><rect x="105.0" y="197.3" width="4.0" height="3.9" fill-opacity="0.64"/><rect x="108.9" y="197.3" width="4.0" height="3.9" fill-opacity="0.70"/><rect x="112.7" y="197.3" width="4.0" height="3.9" fill-opacity="0.74"/><rect x="116.5" y="197.3" width="4.0" height="3.9" fill-opacity="0.76"/><rect x="120.3" y="197.3" width="4.0" height="3.9" fill-opacity="0.76"/><rect x="124.1" y="197.3" width="4.0" height="3.9" fill-opacity="0.74"/><rect x="127.9" y="197.3" width="4.0" height="3.9" fill-opacity="0.69"/><rect x="131.7" y="197.3" width="4.0" height="3.9" fill-opacity="0.62"/><rect x="135.6" y="197.3" width="4.0" height="3.9" fill-opacity="0.62"/><rect x="139.4" y="197.3" width="4.0" height="3.9" fill-opacity="0.69"/><rect x="143.2" y="197.3" width="4.0" height="3.9" fill-opacity="0.79"/><rect x="147.0" y="197.3" width="4.0" height="3.9" fill-opacity="0.86"/><rect x="150.8" y="197.3" width="4.0" height="3.9" fill-opacity="0.90"/><rect x="154.6" y="197.3" width="4.0" height="3.9" fill-opacity="0.90"/><rect x="82.1" y="201.1" width="4.0" height="3.9" fill-opacity="0.11"/><rect x="86.0" y="201.1" width="4.0" height="3.9" fill-opacity="0.12"/><rect x="89.8" y="201.1" width="4.0" height="3.9" fill-opacity="0.21"/><rect x="93.6" y="201.1" width="4.0" height="3.9" fill-opacity="0.33"/><rect x="97.4" y="201.1" width="4.0" height="3.9" fill-opacity="0.45"/><rect x="101.2" y="201.1" width="4.0" height="3.9" fill-opacity="0.54"/><rect x="105.0" y="201.1" width="4.0" height="3.9" fill-opacity="0.62"/><rect x="108.9" y="201.1" width="4.0" height="3.9" fill-opacity="0.68"/><rect x="112.7" y="201.1" width="4.0" height="3.9" fill-opacity="0.73"/><rect x="116.5" y="201.1" width="4.0" height="3.9" fill-opacity="0.75"/><rect x="120.3" y="201.1" width="4.0" height="3.9" fill-opacity="0.74"/><rect x="124.1" y="201.1" width="4.0" height="3.9" fill-opacity="0.72"/><rect x="127.9" y="201.1" width="4.0" height="3.9" fill-opacity="0.69"/><rect x="131.7" y="201.1" width="4.0" height="3.9" fill-opacity="0.66"/><rect x="135.6" y="201.1" width="4.0" height="3.9" fill-opacity="0.67"/><rect x="139.4" y="201.1" width="4.0" height="3.9" fill-opacity="0.72"/><rect x="143.2" y="201.1" width="4.0" height="3.9" fill-opacity="0.79"/><rect x="147.0" y="201.1" width="4.0" height="3.9" fill-opacity="0.87"/><rect x="150.8" y="201.1" width="4.0" height="3.9" fill-opacity="0.91"/><rect x="154.6" y="201.1" width="4.0" height="3.9" fill-opacity="0.91"/><rect x="82.1" y="204.8" width="4.0" height="3.9" fill-opacity="0.10"/><rect x="86.0" y="204.8" width="4.0" height="3.9" fill-opacity="0.11"/><rect x="89.8" y="204.8" width="4.0" height="3.9" fill-opacity="0.19"/><rect x="93.6" y="204.8" width="4.0" height="3.9" fill-opacity="0.29"/><rect x="97.4" y="204.8" width="4.0" height="3.9" fill-opacity="0.40"/><rect x="101.2" y="204.8" width="4.0" height="3.9" fill-opacity="0.50"/><rect x="105.0" y="204.8" width="4.0" height="3.9" fill-opacity="0.58"/><rect x="108.9" y="204.8" width="4.0" height="3.9" fill-opacity="0.65"/><rect x="112.7" y="204.8" width="4.0" height="3.9" fill-opacity="0.69"/><rect x="116.5" y="204.8" width="4.0" height="3.9" fill-opacity="0.71"/><rect x="120.3" y="204.8" width="4.0" height="3.9" fill-opacity="0.70"/><rect x="124.1" y="204.8" width="4.0" height="3.9" fill-opacity="0.68"/><rect x="127.9" y="204.8" width="4.0" height="3.9" fill-opacity="0.67"/><rect x="131.7" y="204.8" width="4.0" height="3.9" fill-opacity="0.67"/><rect x="135.6" y="204.8" width="4.0" height="3.9" fill-opacity="0.69"/><rect x="139.4" y="204.8" width="4.0" height="3.9" fill-opacity="0.72"/><rect x="143.2" y="204.8" width="4.0" height="3.9" fill-opacity="0.77"/><rect x="147.0" y="204.8" width="4.0" height="3.9" fill-opacity="0.83"/><rect x="150.8" y="204.8" width="4.0" height="3.9" fill-opacity="0.87"/><rect x="154.6" y="204.8" width="4.0" height="3.9" fill-opacity="0.88"/><rect x="82.1" y="208.5" width="4.0" height="3.9" fill-opacity="0.06"/><rect x="86.0" y="208.5" width="4.0" height="3.9" fill-opacity="0.07"/><rect x="89.8" y="208.5" width="4.0" height="3.9" fill-opacity="0.14"/><rect x="93.6" y="208.5" width="4.0" height="3.9" fill-opacity="0.24"/><rect x="97.4" y="208.5" width="4.0" height="3.9" fill-opacity="0.34"/><rect x="101.2" y="208.5" width="4.0" height="3.9" fill-opacity="0.44"/><rect x="105.0" y="208.5" width="4.0" height="3.9" fill-opacity="0.51"/><rect x="108.9" y="208.5" width="4.0" height="3.9" fill-opacity="0.57"/><rect x="112.7" y="208.5" width="4.0" height="3.9" fill-opacity="0.61"/><rect x="116.5" y="208.5" width="4.0" height="3.9" fill-opacity="0.63"/><rect x="120.3" y="208.5" width="4.0" height="3.9" fill-opacity="0.63"/><rect x="124.1" y="208.5" width="4.0" height="3.9" fill-opacity="0.62"/><rect x="127.9" y="208.5" width="4.0" height="3.9" fill-opacity="0.62"/><rect x="131.7" y="208.5" width="4.0" height="3.9" fill-opacity="0.62"/><rect x="135.6" y="208.5" width="4.0" height="3.9" fill-opacity="0.63"/><rect x="139.4" y="208.5" width="4.0" height="3.9" fill-opacity="0.66"/><rect x="143.2" y="208.5" width="4.0" height="3.9" fill-opacity="0.69"/><rect x="147.0" y="208.5" width="4.0" height="3.9" fill-opacity="0.73"/><rect x="150.8" y="208.5" width="4.0" height="3.9" fill-opacity="0.76"/><rect x="154.6" y="208.5" width="4.0" height="3.9" fill-opacity="0.76"/><rect x="89.8" y="212.3" width="4.0" height="3.9" fill-opacity="0.06"/><rect x="93.6" y="212.3" width="4.0" height="3.9" fill-opacity="0.16"/><rect x="97.4" y="212.3" width="4.0" height="3.9" fill-opacity="0.26"/><rect x="101.2" y="212.3" width="4.0" height="3.9" fill-opacity="0.35"/><rect x="105.0" y="212.3" width="4.0" height="3.9" fill-opacity="0.41"/><rect x="108.9" y="212.3" width="4.0" height="3.9" fill-opacity="0.45"/><rect x="112.7" y="212.3" width="4.0" height="3.9" fill-opacity="0.49"/><rect x="116.5" y="212.3" width="4.0" height="3.9" fill-opacity="0.51"/><rect x="120.3" y="212.3" width="4.0" height="3.9" fill-opacity="0.52"/><rect x="124.1" y="212.3" width="4.0" height="3.9" fill-opacity="0.52"/><rect x="127.9" y="212.3" width="4.0" height="3.9" fill-opacity="0.52"/><rect x="131.7" y="212.3" width="4.0" height="3.9" fill-opacity="0.51"/><rect x="135.6" y="212.3" width="4.0" height="3.9" fill-opacity="0.52"/><rect x="139.4" y="212.3" width="4.0" height="3.9" fill-opacity="0.54"/><rect x="143.2" y="212.3" width="4.0" height="3.9" fill-opacity="0.57"/><rect x="147.0" y="212.3" width="4.0" height="3.9" fill-opacity="0.59"/><rect x="150.8" y="212.3" width="4.0" height="3.9" fill-opacity="0.60"/><rect x="154.6" y="212.3" width="4.0" height="3.9" fill-opacity="0.60"/><rect x="93.6" y="216.0" width="4.0" height="3.9" fill-opacity="0.07"/><rect x="97.4" y="216.0" width="4.0" height="3.9" fill-opacity="0.17"/><rect x="101.2" y="216.0" width="4.0" height="3.9" fill-opacity="0.25"/><rect x="105.0" y="216.0" width="4.0" height="3.9" fill-opacity="0.29"/><rect x="108.9" y="216.0" width="4.0" height="3.9" fill-opacity="0.31"/><rect x="112.7" y="216.0" width="4.0" height="3.9" fill-opacity="0.33"/><rect x="116.5" y="216.0" width="4.0" height="3.9" fill-opacity="0.36"/><rect x="120.3" y="216.0" width="4.0" height="3.9" fill-opacity="0.38"/><rect x="124.1" y="216.0" width="4.0" height="3.9" fill-opacity="0.38"/><rect x="127.9" y="216.0" width="4.0" height="3.9" fill-opacity="0.38"/><rect x="131.7" y="216.0" width="4.0" height="3.9" fill-opacity="0.37"/><rect x="135.6" y="216.0" width="4.0" height="3.9" fill-opacity="0.38"/><rect x="139.4" y="216.0" width="4.0" height="3.9" fill-opacity="0.41"/><rect x="143.2" y="216.0" width="4.0" height="3.9" fill-opacity="0.43"/><rect x="147.0" y="216.0" width="4.0" height="3.9" fill-opacity="0.44"/><rect x="150.8" y="216.0" width="4.0" height="3.9" fill-opacity="0.44"/><rect x="154.6" y="216.0" width="4.0" height="3.9" fill-opacity="0.44"/><rect x="97.4" y="219.7" width="4.0" height="3.9" fill-opacity="0.10"/><rect x="101.2" y="219.7" width="4.0" height="3.9" fill-opacity="0.19"/><rect x="105.0" y="219.7" width="4.0" height="3.9" fill-opacity="0.21"/><rect x="108.9" y="219.7" width="4.0" height="3.9" fill-opacity="0.20"/><rect x="112.7" y="219.7" width="4.0" height="3.9" fill-opacity="0.21"/><rect x="116.5" y="219.7" width="4.0" height="3.9" fill-opacity="0.25"/><rect x="120.3" y="219.7" width="4.0" height="3.9" fill-opacity="0.27"/><rect x="124.1" y="219.7" width="4.0" height="3.9" fill-opacity="0.27"/><rect x="127.9" y="219.7" width="4.0" height="3.9" fill-opacity="0.26"/><rect x="131.7" y="219.7" width="4.0" height="3.9" fill-opacity="0.26"/><rect x="135.6" y="219.7" width="4.0" height="3.9" fill-opacity="0.27"/><rect x="139.4" y="219.7" width="4.0" height="3.9" fill-opacity="0.31"/><rect x="143.2" y="219.7" width="4.0" height="3.9" fill-opacity="0.33"/><rect x="147.0" y="219.7" width="4.0" height="3.9" fill-opacity="0.33"/><rect x="150.8" y="219.7" width="4.0" height="3.9" fill-opacity="0.33"/><rect x="154.6" y="219.7" width="4.0" height="3.9" fill-opacity="0.32"/><rect x="97.4" y="223.4" width="4.0" height="3.9" fill-opacity="0.09"/><rect x="101.2" y="223.4" width="4.0" height="3.9" fill-opacity="0.18"/><rect x="105.0" y="223.4" width="4.0" height="3.9" fill-opacity="0.20"/><rect x="108.9" y="223.4" width="4.0" height="3.9" fill-opacity="0.18"/><rect x="112.7" y="223.4" width="4.0" height="3.9" fill-opacity="0.19"/><rect x="116.5" y="223.4" width="4.0" height="3.9" fill-opacity="0.23"/><rect x="120.3" y="223.4" width="4.0" height="3.9" fill-opacity="0.26"/><rect x="124.1" y="223.4" width="4.0" height="3.9" fill-opacity="0.26"/><rect x="127.9" y="223.4" width="4.0" height="3.9" fill-opacity="0.24"/><rect x="131.7" y="223.4" width="4.0" height="3.9" fill-opacity="0.24"/><rect x="135.6" y="223.4" width="4.0" height="3.9" fill-opacity="0.26"/><rect x="139.4" y="223.4" width="4.0" height="3.9" fill-opacity="0.29"/><rect x="143.2" y="223.4" width="4.0" height="3.9" fill-opacity="0.32"/><rect x="147.0" y="223.4" width="4.0" height="3.9" fill-opacity="0.32"/><rect x="150.8" y="223.4" width="4.0" height="3.9" fill-opacity="0.31"/><rect x="154.6" y="223.4" width="4.0" height="3.9" fill-opacity="0.31"/></g><path d="M135.9 236.5L134.6 231.6L134.9 230.4L138.3 226.4L139.2 224.3L138.9 223.1L137.4 221.9L133.3 221.0L122.2 221.8L114.7 219.5L107.3 218.6L104.8 217.9L102.3 216.4L98.6 212.8L96.4 209.8L94.6 206.1L93.5 202.5L93.0 197.6L93.0 128.4M120.5 236.5L119.7 231.6L119.9 230.4L120.9 228.7L122.2 227.9L123.4 227.6L125.9 228.0L128.5 229.2L130.0 230.4L130.5 231.6L128.4 236.5M168.0 216.5L149.4 216.5L135.8 214.7L123.4 214.8L118.4 214.4L113.5 213.6L109.8 212.4L107.0 211.0L104.3 208.6L102.7 206.1L101.2 202.5L100.0 196.4L99.5 191.5L99.4 161.2L100.5 149.0L100.4 128.4M168.0 212.3L150.7 212.1L145.7 210.9L137.8 207.3L136.7 206.1L136.9 204.9L139.5 201.8L140.4 200.0L141.0 197.6L140.9 195.2L139.2 190.3L138.0 189.1L135.8 188.4L133.3 189.3L131.7 191.5L130.5 196.4L130.2 203.7L129.3 204.9L124.4 207.3L119.7 208.1L115.5 207.3L113.5 206.3L112.0 204.9L110.6 202.5L107.3 192.8L106.3 187.9L106.4 161.2L107.9 150.2L107.9 128.4M168.0 207.4L154.4 207.7L151.9 207.3L149.7 206.1L148.2 203.7L148.2 196.4L146.7 190.3L146.8 187.9L148.1 181.8L147.9 179.4L146.9 176.8L145.7 175.4L144.5 175.0L142.0 175.7L137.0 178.6L135.8 178.9L133.3 178.6L130.8 177.2L128.0 174.5L126.3 172.1L125.4 169.7L125.0 166.0L125.9 162.4L127.5 159.9L130.8 156.8L132.1 156.2L134.5 155.9L142.0 158.7L144.5 159.2L146.9 158.2L148.5 156.3L149.3 153.9L149.4 151.4L146.7 141.7L147.0 128.4" fill="none" stroke="#fff" stroke-opacity="0.35" stroke-width="0.6"/></g>
<path d="M88.5 142.80V223.25M104.5 142.80V223.25M120.5 142.80V223.25M136.5 142.80V223.25M152.5 142.80V223.25M86.30 143.5H153.10M86.30 159.5H153.10M86.30 174.5H153.10M86.30 190.5H153.10M86.30 205.5H153.10M86.30 221.5H153.10" stroke="#000" stroke-opacity="0.17" stroke-width="1" fill="none"/>
<rect x="120.30" y="159.25" width="31.80" height="30.90" fill="none" stroke="#fff" stroke-opacity="0.7" stroke-width="0.9"/>
<g clip-path="url(#clipAML109)"><g fill="rgb(206, 30, 32)" filter="url(#hmblur)"><rect x="247.2" y="155.8" width="3.9" height="3.8" fill-opacity="0.03"/><rect x="251.0" y="155.8" width="3.9" height="3.8" fill-opacity="0.09"/><rect x="254.7" y="155.8" width="3.9" height="3.8" fill-opacity="0.11"/><rect x="258.4" y="155.8" width="3.9" height="3.8" fill-opacity="0.09"/><rect x="262.2" y="155.8" width="3.9" height="3.8" fill-opacity="0.05"/><rect x="239.8" y="159.5" width="3.9" height="3.8" fill-opacity="0.06"/><rect x="243.5" y="159.5" width="3.9" height="3.8" fill-opacity="0.07"/><rect x="247.2" y="159.5" width="3.9" height="3.8" fill-opacity="0.12"/><rect x="251.0" y="159.5" width="3.9" height="3.8" fill-opacity="0.19"/><rect x="254.7" y="159.5" width="3.9" height="3.8" fill-opacity="0.22"/><rect x="258.4" y="159.5" width="3.9" height="3.8" fill-opacity="0.22"/><rect x="262.2" y="159.5" width="3.9" height="3.8" fill-opacity="0.18"/><rect x="265.9" y="159.5" width="3.9" height="3.8" fill-opacity="0.11"/><rect x="269.6" y="159.5" width="3.9" height="3.8" fill-opacity="0.08"/><rect x="273.4" y="159.5" width="3.9" height="3.8" fill-opacity="0.09"/><rect x="277.1" y="159.5" width="3.9" height="3.8" fill-opacity="0.10"/><rect x="280.8" y="159.5" width="3.9" height="3.8" fill-opacity="0.09"/><rect x="284.6" y="159.5" width="3.9" height="3.8" fill-opacity="0.07"/><rect x="239.8" y="163.2" width="3.9" height="3.8" fill-opacity="0.11"/><rect x="243.5" y="163.2" width="3.9" height="3.8" fill-opacity="0.12"/><rect x="247.2" y="163.2" width="3.9" height="3.8" fill-opacity="0.18"/><rect x="251.0" y="163.2" width="3.9" height="3.8" fill-opacity="0.25"/><rect x="254.7" y="163.2" width="3.9" height="3.8" fill-opacity="0.29"/><rect x="258.4" y="163.2" width="3.9" height="3.8" fill-opacity="0.29"/><rect x="262.2" y="163.2" width="3.9" height="3.8" fill-opacity="0.23"/><rect x="265.9" y="163.2" width="3.9" height="3.8" fill-opacity="0.15"/><rect x="269.6" y="163.2" width="3.9" height="3.8" fill-opacity="0.12"/><rect x="273.4" y="163.2" width="3.9" height="3.8" fill-opacity="0.15"/><rect x="277.1" y="163.2" width="3.9" height="3.8" fill-opacity="0.21"/><rect x="280.8" y="163.2" width="3.9" height="3.8" fill-opacity="0.27"/><rect x="284.6" y="163.2" width="3.9" height="3.8" fill-opacity="0.28"/><rect x="288.3" y="163.2" width="3.9" height="3.8" fill-opacity="0.26"/><rect x="292.0" y="163.2" width="3.9" height="3.8" fill-opacity="0.18"/><rect x="239.8" y="166.9" width="3.9" height="3.8" fill-opacity="0.10"/><rect x="243.5" y="166.9" width="3.9" height="3.8" fill-opacity="0.11"/><rect x="247.2" y="166.9" width="3.9" height="3.8" fill-opacity="0.18"/><rect x="251.0" y="166.9" width="3.9" height="3.8" fill-opacity="0.25"/><rect x="254.7" y="166.9" width="3.9" height="3.8" fill-opacity="0.28"/><rect x="258.4" y="166.9" width="3.9" height="3.8" fill-opacity="0.26"/><rect x="262.2" y="166.9" width="3.9" height="3.8" fill-opacity="0.19"/><rect x="265.9" y="166.9" width="3.9" height="3.8" fill-opacity="0.12"/><rect x="269.6" y="166.9" width="3.9" height="3.8" fill-opacity="0.12"/><rect x="273.4" y="166.9" width="3.9" height="3.8" fill-opacity="0.20"/><rect x="277.1" y="166.9" width="3.9" height="3.8" fill-opacity="0.30"/><rect x="280.8" y="166.9" width="3.9" height="3.8" fill-opacity="0.39"/><rect x="284.6" y="166.9" width="3.9" height="3.8" fill-opacity="0.42"/><rect x="288.3" y="166.9" width="3.9" height="3.8" fill-opacity="0.39"/><rect x="292.0" y="166.9" width="3.9" height="3.8" fill-opacity="0.33"/><rect x="295.8" y="166.9" width="3.9" height="3.8" fill-opacity="0.24"/><rect x="299.5" y="166.9" width="3.9" height="3.8" fill-opacity="0.07"/><rect x="239.8" y="170.6" width="3.9" height="3.8" fill-opacity="0.04"/><rect x="243.5" y="170.6" width="3.9" height="3.8" fill-opacity="0.05"/><rect x="247.2" y="170.6" width="3.9" height="3.8" fill-opacity="0.12"/><rect x="251.0" y="170.6" width="3.9" height="3.8" fill-opacity="0.18"/><rect x="254.7" y="170.6" width="3.9" height="3.8" fill-opacity="0.18"/><rect x="258.4" y="170.6" width="3.9" height="3.8" fill-opacity="0.13"/><rect x="262.2" y="170.6" width="3.9" height="3.8" fill-opacity="0.06"/><rect x="265.9" y="170.6" width="3.9" height="3.8" fill-opacity="0.02"/><rect x="269.6" y="170.6" width="3.9" height="3.8" fill-opacity="0.11"/><rect x="273.4" y="170.6" width="3.9" height="3.8" fill-opacity="0.24"/><rect x="277.1" y="170.6" width="3.9" height="3.8" fill-opacity="0.37"/><rect x="280.8" y="170.6" width="3.9" height="3.8" fill-opacity="0.48"/><rect x="284.6" y="170.6" width="3.9" height="3.8" fill-opacity="0.52"/><rect x="288.3" y="170.6" width="3.9" height="3.8" fill-opacity="0.49"/><rect x="292.0" y="170.6" width="3.9" height="3.8" fill-opacity="0.43"/><rect x="295.8" y="170.6" width="3.9" height="3.8" fill-opacity="0.36"/><rect x="299.5" y="170.6" width="3.9" height="3.8" fill-opacity="0.26"/><rect x="303.2" y="170.6" width="3.9" height="3.8" fill-opacity="0.13"/><rect x="269.6" y="174.2" width="3.9" height="3.8" fill-opacity="0.11"/><rect x="273.4" y="174.2" width="3.9" height="3.8" fill-opacity="0.29"/><rect x="277.1" y="174.2" width="3.9" height="3.8" fill-opacity="0.44"/><rect x="280.8" y="174.2" width="3.9" height="3.8" fill-opacity="0.55"/><rect x="284.6" y="174.2" width="3.9" height="3.8" fill-opacity="0.60"/><rect x="288.3" y="174.2" width="3.9" height="3.8" fill-opacity="0.59"/><rect x="292.0" y="174.2" width="3.9" height="3.8" fill-opacity="0.53"/><rect x="295.8" y="174.2" width="3.9" height="3.8" fill-opacity="0.45"/><rect x="299.5" y="174.2" width="3.9" height="3.8" fill-opacity="0.35"/><rect x="303.2" y="174.2" width="3.9" height="3.8" fill-opacity="0.25"/><rect x="307.0" y="174.2" width="3.9" height="3.8" fill-opacity="0.18"/><rect x="310.7" y="174.2" width="3.9" height="3.8" fill-opacity="0.17"/><rect x="269.6" y="177.9" width="3.9" height="3.8" fill-opacity="0.14"/><rect x="273.4" y="177.9" width="3.9" height="3.8" fill-opacity="0.34"/><rect x="277.1" y="177.9" width="3.9" height="3.8" fill-opacity="0.50"/><rect x="280.8" y="177.9" width="3.9" height="3.8" fill-opacity="0.62"/><rect x="284.6" y="177.9" width="3.9" height="3.8" fill-opacity="0.68"/><rect x="288.3" y="177.9" width="3.9" height="3.8" fill-opacity="0.68"/><rect x="292.0" y="177.9" width="3.9" height="3.8" fill-opacity="0.63"/><rect x="295.8" y="177.9" width="3.9" height="3.8" fill-opacity="0.52"/><rect x="299.5" y="177.9" width="3.9" height="3.8" fill-opacity="0.40"/><rect x="303.2" y="177.9" width="3.9" height="3.8" fill-opacity="0.28"/><rect x="307.0" y="177.9" width="3.9" height="3.8" fill-opacity="0.20"/><rect x="310.7" y="177.9" width="3.9" height="3.8" fill-opacity="0.19"/><rect x="269.6" y="181.6" width="3.9" height="3.8" fill-opacity="0.19"/><rect x="273.4" y="181.6" width="3.9" height="3.8" fill-opacity="0.37"/><rect x="277.1" y="181.6" width="3.9" height="3.8" fill-opacity="0.53"/><rect x="280.8" y="181.6" width="3.9" height="3.8" fill-opacity="0.65"/><rect x="284.6" y="181.6" width="3.9" height="3.8" fill-opacity="0.72"/><rect x="288.3" y="181.6" width="3.9" height="3.8" fill-opacity="0.73"/><rect x="292.0" y="181.6" width="3.9" height="3.8" fill-opacity="0.67"/><rect x="295.8" y="181.6" width="3.9" height="3.8" fill-opacity="0.56"/><rect x="299.5" y="181.6" width="3.9" height="3.8" fill-opacity="0.42"/><rect x="303.2" y="181.6" width="3.9" height="3.8" fill-opacity="0.29"/><rect x="307.0" y="181.6" width="3.9" height="3.8" fill-opacity="0.20"/><rect x="310.7" y="181.6" width="3.9" height="3.8" fill-opacity="0.19"/><rect x="262.2" y="185.3" width="3.9" height="3.8" fill-opacity="0.05"/><rect x="265.9" y="185.3" width="3.9" height="3.8" fill-opacity="0.12"/><rect x="269.6" y="185.3" width="3.9" height="3.8" fill-opacity="0.24"/><rect x="273.4" y="185.3" width="3.9" height="3.8" fill-opacity="0.38"/><rect x="277.1" y="185.3" width="3.9" height="3.8" fill-opacity="0.53"/><rect x="280.8" y="185.3" width="3.9" height="3.8" fill-opacity="0.65"/><rect x="284.6" y="185.3" width="3.9" height="3.8" fill-opacity="0.72"/><rect x="288.3" y="185.3" width="3.9" height="3.8" fill-opacity="0.73"/><rect x="292.0" y="185.3" width="3.9" height="3.8" fill-opacity="0.67"/><rect x="295.8" y="185.3" width="3.9" height="3.8" fill-opacity="0.56"/><rect x="299.5" y="185.3" width="3.9" height="3.8" fill-opacity="0.42"/><rect x="303.2" y="185.3" width="3.9" height="3.8" fill-opacity="0.29"/><rect x="307.0" y="185.3" width="3.9" height="3.8" fill-opacity="0.20"/><rect x="310.7" y="185.3" width="3.9" height="3.8" fill-opacity="0.19"/><rect x="243.5" y="189.0" width="3.9" height="3.8" fill-opacity="0.02"/><rect x="247.2" y="189.0" width="3.9" height="3.8" fill-opacity="0.04"/><rect x="251.0" y="189.0" width="3.9" height="3.8" fill-opacity="0.08"/><rect x="254.7" y="189.0" width="3.9" height="3.8" fill-opacity="0.13"/><rect x="258.4" y="189.0" width="3.9" height="3.8" fill-opacity="0.17"/><rect x="262.2" y="189.0" width="3.9" height="3.8" fill-opacity="0.19"/><rect x="265.9" y="189.0" width="3.9" height="3.8" fill-opacity="0.21"/><rect x="269.6" y="189.0" width="3.9" height="3.8" fill-opacity="0.27"/><rect x="273.4" y="189.0" width="3.9" height="3.8" fill-opacity="0.38"/><rect x="277.1" y="189.0" width="3.9" height="3.8" fill-opacity="0.50"/><rect x="280.8" y="189.0" width="3.9" height="3.8" fill-opacity="0.62"/><rect x="284.6" y="189.0" width="3.9" height="3.8" fill-opacity="0.68"/><rect x="288.3" y="189.0" width="3.9" height="3.8" fill-opacity="0.69"/><rect x="292.0" y="189.0" width="3.9" height="3.8" fill-opacity="0.64"/><rect x="295.8" y="189.0" width="3.9" height="3.8" fill-opacity="0.53"/><rect x="299.5" y="189.0" width="3.9" height="3.8" fill-opacity="0.40"/><rect x="303.2" y="189.0" width="3.9" height="3.8" fill-opacity="0.27"/><rect x="307.0" y="189.0" width="3.9" height="3.8" fill-opacity="0.19"/><rect x="310.7" y="189.0" width="3.9" height="3.8" fill-opacity="0.18"/><rect x="247.2" y="192.6" width="3.9" height="3.8" fill-opacity="0.09"/><rect x="251.0" y="192.6" width="3.9" height="3.8" fill-opacity="0.17"/><rect x="254.7" y="192.6" width="3.9" height="3.8" fill-opacity="0.22"/><rect x="258.4" y="192.6" width="3.9" height="3.8" fill-opacity="0.25"/><rect x="262.2" y="192.6" width="3.9" height="3.8" fill-opacity="0.26"/><rect x="265.9" y="192.6" width="3.9" height="3.8" fill-opacity="0.26"/><rect x="269.6" y="192.6" width="3.9" height="3.8" fill-opacity="0.29"/><rect x="273.4" y="192.6" width="3.9" height="3.8" fill-opacity="0.37"/><rect x="277.1" y="192.6" width="3.9" height="3.8" fill-opacity="0.46"/><rect x="280.8" y="192.6" width="3.9" height="3.8" fill-opacity="0.56"/><rect x="284.6" y="192.6" width="3.9" height="3.8" fill-opacity="0.62"/><rect x="288.3" y="192.6" width="3.9" height="3.8" fill-opacity="0.62"/><rect x="292.0" y="192.6" width="3.9" height="3.8" fill-opacity="0.57"/><rect x="295.8" y="192.6" width="3.9" height="3.8" fill-opacity="0.47"/><rect x="299.5" y="192.6" width="3.9" height="3.8" fill-opacity="0.34"/><rect x="303.2" y="192.6" width="3.9" height="3.8" fill-opacity="0.23"/><rect x="307.0" y="192.6" width="3.9" height="3.8" fill-opacity="0.15"/><rect x="310.7" y="192.6" width="3.9" height="3.8" fill-opacity="0.14"/><rect x="247.2" y="196.3" width="3.9" height="3.8" fill-opacity="0.10"/><rect x="251.0" y="196.3" width="3.9" height="3.8" fill-opacity="0.19"/><rect x="254.7" y="196.3" width="3.9" height="3.8" fill-opacity="0.25"/><rect x="258.4" y="196.3" width="3.9" height="3.8" fill-opacity="0.27"/><rect x="262.2" y="196.3" width="3.9" height="3.8" fill-opacity="0.27"/><rect x="265.9" y="196.3" width="3.9" height="3.8" fill-opacity="0.27"/><rect x="269.6" y="196.3" width="3.9" height="3.8" fill-opacity="0.29"/><rect x="273.4" y="196.3" width="3.9" height="3.8" fill-opacity="0.34"/><rect x="277.1" y="196.3" width="3.9" height="3.8" fill-opacity="0.42"/><rect x="280.8" y="196.3" width="3.9" height="3.8" fill-opacity="0.48"/><rect x="284.6" y="196.3" width="3.9" height="3.8" fill-opacity="0.53"/><rect x="288.3" y="196.3" width="3.9" height="3.8" fill-opacity="0.54"/><rect x="292.0" y="196.3" width="3.9" height="3.8" fill-opacity="0.49"/><rect x="295.8" y="196.3" width="3.9" height="3.8" fill-opacity="0.40"/><rect x="299.5" y="196.3" width="3.9" height="3.8" fill-opacity="0.28"/><rect x="303.2" y="196.3" width="3.9" height="3.8" fill-opacity="0.18"/><rect x="307.0" y="196.3" width="3.9" height="3.8" fill-opacity="0.10"/><rect x="310.7" y="196.3" width="3.9" height="3.8" fill-opacity="0.09"/><rect x="247.2" y="200.0" width="3.9" height="3.8" fill-opacity="0.08"/><rect x="251.0" y="200.0" width="3.9" height="3.8" fill-opacity="0.15"/><rect x="254.7" y="200.0" width="3.9" height="3.8" fill-opacity="0.21"/><rect x="258.4" y="200.0" width="3.9" height="3.8" fill-opacity="0.24"/><rect x="262.2" y="200.0" width="3.9" height="3.8" fill-opacity="0.25"/><rect x="265.9" y="200.0" width="3.9" height="3.8" fill-opacity="0.24"/><rect x="269.6" y="200.0" width="3.9" height="3.8" fill-opacity="0.26"/><rect x="273.4" y="200.0" width="3.9" height="3.8" fill-opacity="0.30"/><rect x="277.1" y="200.0" width="3.9" height="3.8" fill-opacity="0.35"/><rect x="280.8" y="200.0" width="3.9" height="3.8" fill-opacity="0.40"/><rect x="284.6" y="200.0" width="3.9" height="3.8" fill-opacity="0.43"/><rect x="288.3" y="200.0" width="3.9" height="3.8" fill-opacity="0.43"/><rect x="292.0" y="200.0" width="3.9" height="3.8" fill-opacity="0.40"/><rect x="295.8" y="200.0" width="3.9" height="3.8" fill-opacity="0.33"/><rect x="299.5" y="200.0" width="3.9" height="3.8" fill-opacity="0.23"/><rect x="303.2" y="200.0" width="3.9" height="3.8" fill-opacity="0.13"/><rect x="307.0" y="200.0" width="3.9" height="3.8" fill-opacity="0.05"/><rect x="310.7" y="200.0" width="3.9" height="3.8" fill-opacity="0.04"/><rect x="247.2" y="203.7" width="3.9" height="3.8" fill-opacity="0.04"/><rect x="251.0" y="203.7" width="3.9" height="3.8" fill-opacity="0.10"/><rect x="254.7" y="203.7" width="3.9" height="3.8" fill-opacity="0.15"/><rect x="258.4" y="203.7" width="3.9" height="3.8" fill-opacity="0.18"/><rect x="262.2" y="203.7" width="3.9" height="3.8" fill-opacity="0.19"/><rect x="265.9" y="203.7" width="3.9" height="3.8" fill-opacity="0.19"/><rect x="269.6" y="203.7" width="3.9" height="3.8" fill-opacity="0.20"/><rect x="273.4" y="203.7" width="3.9" height="3.8" fill-opacity="0.23"/><rect x="277.1" y="203.7" width="3.9" height="3.8" fill-opacity="0.26"/><rect x="280.8" y="203.7" width="3.9" height="3.8" fill-opacity="0.29"/><rect x="284.6" y="203.7" width="3.9" height="3.8" fill-opacity="0.30"/><rect x="288.3" y="203.7" width="3.9" height="3.8" fill-opacity="0.31"/><rect x="292.0" y="203.7" width="3.9" height="3.8" fill-opacity="0.29"/><rect x="295.8" y="203.7" width="3.9" height="3.8" fill-opacity="0.24"/><rect x="299.5" y="203.7" width="3.9" height="3.8" fill-opacity="0.16"/><rect x="303.2" y="203.7" width="3.9" height="3.8" fill-opacity="0.07"/><rect x="251.0" y="207.4" width="3.9" height="3.8" fill-opacity="0.05"/><rect x="254.7" y="207.4" width="3.9" height="3.8" fill-opacity="0.09"/><rect x="258.4" y="207.4" width="3.9" height="3.8" fill-opacity="0.10"/><rect x="262.2" y="207.4" width="3.9" height="3.8" fill-opacity="0.10"/><rect x="265.9" y="207.4" width="3.9" height="3.8" fill-opacity="0.10"/><rect x="269.6" y="207.4" width="3.9" height="3.8" fill-opacity="0.11"/><rect x="273.4" y="207.4" width="3.9" height="3.8" fill-opacity="0.12"/><rect x="277.1" y="207.4" width="3.9" height="3.8" fill-opacity="0.14"/><rect x="280.8" y="207.4" width="3.9" height="3.8" fill-opacity="0.15"/><rect x="284.6" y="207.4" width="3.9" height="3.8" fill-opacity="0.15"/><rect x="288.3" y="207.4" width="3.9" height="3.8" fill-opacity="0.15"/><rect x="292.0" y="207.4" width="3.9" height="3.8" fill-opacity="0.15"/><rect x="295.8" y="207.4" width="3.9" height="3.8" fill-opacity="0.13"/><rect x="299.5" y="207.4" width="3.9" height="3.8" fill-opacity="0.08"/></g><g fill="rgb(50, 145, 40)" filter="url(#hmblur)"><rect x="254.7" y="137.5" width="3.9" height="3.8" fill-opacity="0.06"/><rect x="258.4" y="137.5" width="3.9" height="3.8" fill-opacity="0.07"/><rect x="262.2" y="137.5" width="3.9" height="3.8" fill-opacity="0.08"/><rect x="265.9" y="137.5" width="3.9" height="3.8" fill-opacity="0.08"/><rect x="269.6" y="137.5" width="3.9" height="3.8" fill-opacity="0.07"/><rect x="273.4" y="137.5" width="3.9" height="3.8" fill-opacity="0.07"/><rect x="277.1" y="137.5" width="3.9" height="3.8" fill-opacity="0.10"/><rect x="280.8" y="137.5" width="3.9" height="3.8" fill-opacity="0.16"/><rect x="284.6" y="137.5" width="3.9" height="3.8" fill-opacity="0.25"/><rect x="288.3" y="137.5" width="3.9" height="3.8" fill-opacity="0.36"/><rect x="292.0" y="137.5" width="3.9" height="3.8" fill-opacity="0.49"/><rect x="295.8" y="137.5" width="3.9" height="3.8" fill-opacity="0.62"/><rect x="299.5" y="137.5" width="3.9" height="3.8" fill-opacity="0.74"/><rect x="303.2" y="137.5" width="3.9" height="3.8" fill-opacity="0.83"/><rect x="307.0" y="137.5" width="3.9" height="3.8" fill-opacity="0.88"/><rect x="310.7" y="137.5" width="3.9" height="3.8" fill-opacity="0.89"/><rect x="254.7" y="141.1" width="3.9" height="3.8" fill-opacity="0.05"/><rect x="258.4" y="141.1" width="3.9" height="3.8" fill-opacity="0.07"/><rect x="262.2" y="141.1" width="3.9" height="3.8" fill-opacity="0.08"/><rect x="265.9" y="141.1" width="3.9" height="3.8" fill-opacity="0.08"/><rect x="269.6" y="141.1" width="3.9" height="3.8" fill-opacity="0.07"/><rect x="273.4" y="141.1" width="3.9" height="3.8" fill-opacity="0.07"/><rect x="277.1" y="141.1" width="3.9" height="3.8" fill-opacity="0.10"/><rect x="280.8" y="141.1" width="3.9" height="3.8" fill-opacity="0.16"/><rect x="284.6" y="141.1" width="3.9" height="3.8" fill-opacity="0.25"/><rect x="288.3" y="141.1" width="3.9" height="3.8" fill-opacity="0.36"/><rect x="292.0" y="141.1" width="3.9" height="3.8" fill-opacity="0.49"/><rect x="295.8" y="141.1" width="3.9" height="3.8" fill-opacity="0.63"/><rect x="299.5" y="141.1" width="3.9" height="3.8" fill-opacity="0.75"/><rect x="303.2" y="141.1" width="3.9" height="3.8" fill-opacity="0.84"/><rect x="307.0" y="141.1" width="3.9" height="3.8" fill-opacity="0.89"/><rect x="310.7" y="141.1" width="3.9" height="3.8" fill-opacity="0.89"/><rect x="258.4" y="144.8" width="3.9" height="3.8" fill-opacity="0.07"/><rect x="262.2" y="144.8" width="3.9" height="3.8" fill-opacity="0.08"/><rect x="265.9" y="144.8" width="3.9" height="3.8" fill-opacity="0.08"/><rect x="269.6" y="144.8" width="3.9" height="3.8" fill-opacity="0.07"/><rect x="273.4" y="144.8" width="3.9" height="3.8" fill-opacity="0.07"/><rect x="277.1" y="144.8" width="3.9" height="3.8" fill-opacity="0.08"/><rect x="280.8" y="144.8" width="3.9" height="3.8" fill-opacity="0.13"/><rect x="284.6" y="144.8" width="3.9" height="3.8" fill-opacity="0.23"/><rect x="288.3" y="144.8" width="3.9" height="3.8" fill-opacity="0.36"/><rect x="292.0" y="144.8" width="3.9" height="3.8" fill-opacity="0.52"/><rect x="295.8" y="144.8" width="3.9" height="3.8" fill-opacity="0.67"/><rect x="299.5" y="144.8" width="3.9" height="3.8" fill-opacity="0.80"/><rect x="303.2" y="144.8" width="3.9" height="3.8" fill-opacity="0.88"/><rect x="307.0" y="144.8" width="3.9" height="3.8" fill-opacity="0.92"/><rect x="310.7" y="144.8" width="3.9" height="3.8" fill-opacity="0.92"/><rect x="262.2" y="148.5" width="3.9" height="3.8" fill-opacity="0.05"/><rect x="265.9" y="148.5" width="3.9" height="3.8" fill-opacity="0.04"/><rect x="269.6" y="148.5" width="3.9" height="3.8" fill-opacity="0.02"/><rect x="273.4" y="148.5" width="3.9" height="3.8" fill-opacity="0.02"/><rect x="277.1" y="148.5" width="3.9" height="3.8" fill-opacity="0.04"/><rect x="280.8" y="148.5" width="3.9" height="3.8" fill-opacity="0.08"/><rect x="284.6" y="148.5" width="3.9" height="3.8" fill-opacity="0.19"/><rect x="288.3" y="148.5" width="3.9" height="3.8" fill-opacity="0.34"/><rect x="292.0" y="148.5" width="3.9" height="3.8" fill-opacity="0.52"/><rect x="295.8" y="148.5" width="3.9" height="3.8" fill-opacity="0.70"/><rect x="299.5" y="148.5" width="3.9" height="3.8" fill-opacity="0.84"/><rect x="303.2" y="148.5" width="3.9" height="3.8" fill-opacity="0.92"/><rect x="307.0" y="148.5" width="3.9" height="3.8" fill-opacity="0.96"/><rect x="310.7" y="148.5" width="3.9" height="3.8" fill-opacity="0.96"/><rect x="284.6" y="152.2" width="3.9" height="3.8" fill-opacity="0.13"/><rect x="288.3" y="152.2" width="3.9" height="3.8" fill-opacity="0.26"/><rect x="292.0" y="152.2" width="3.9" height="3.8" fill-opacity="0.43"/><rect x="295.8" y="152.2" width="3.9" height="3.8" fill-opacity="0.62"/><rect x="299.5" y="152.2" width="3.9" height="3.8" fill-opacity="0.79"/><rect x="303.2" y="152.2" width="3.9" height="3.8" fill-opacity="0.91"/><rect x="307.0" y="152.2" width="3.9" height="3.8" fill-opacity="0.98"/><rect x="310.7" y="152.2" width="3.9" height="3.8" fill-opacity="0.98"/><rect x="288.3" y="155.8" width="3.9" height="3.8" fill-opacity="0.10"/><rect x="292.0" y="155.8" width="3.9" height="3.8" fill-opacity="0.26"/><rect x="295.8" y="155.8" width="3.9" height="3.8" fill-opacity="0.45"/><rect x="299.5" y="155.8" width="3.9" height="3.8" fill-opacity="0.65"/><rect x="303.2" y="155.8" width="3.9" height="3.8" fill-opacity="0.83"/><rect x="307.0" y="155.8" width="3.9" height="3.8" fill-opacity="0.93"/><rect x="310.7" y="155.8" width="3.9" height="3.8" fill-opacity="0.94"/><rect x="295.8" y="159.5" width="3.9" height="3.8" fill-opacity="0.21"/><rect x="299.5" y="159.5" width="3.9" height="3.8" fill-opacity="0.44"/><rect x="303.2" y="159.5" width="3.9" height="3.8" fill-opacity="0.65"/><rect x="307.0" y="159.5" width="3.9" height="3.8" fill-opacity="0.77"/><rect x="310.7" y="159.5" width="3.9" height="3.8" fill-opacity="0.78"/><rect x="299.5" y="163.2" width="3.9" height="3.8" fill-opacity="0.15"/><rect x="303.2" y="163.2" width="3.9" height="3.8" fill-opacity="0.38"/><rect x="307.0" y="163.2" width="3.9" height="3.8" fill-opacity="0.51"/><rect x="310.7" y="163.2" width="3.9" height="3.8" fill-opacity="0.52"/><rect x="303.2" y="166.9" width="3.9" height="3.8" fill-opacity="0.04"/><rect x="307.0" y="166.9" width="3.9" height="3.8" fill-opacity="0.20"/><rect x="310.7" y="166.9" width="3.9" height="3.8" fill-opacity="0.21"/></g><path d="M258.3 168.2L255.9 168.4L254.7 167.8L254.3 166.6L254.7 165.4L255.9 164.4L258.3 163.8L260.1 164.2L261.0 165.4L260.8 166.6L259.5 167.8M292.2 206.2L285.0 206.2L277.7 204.6L275.3 203.4L272.5 201.4L269.4 197.8L269.5 195.4L271.6 190.1L274.4 177.4L276.5 171.5L277.8 169.0L280.1 166.6L283.8 165.1L286.2 164.9L289.8 165.4L295.0 167.8L298.4 170.2L302.3 173.8L304.2 176.2L305.2 178.6L305.6 188.2L305.1 190.6L303.7 194.2L300.7 200.2L298.3 203.5L295.9 205.2M291.0 199.4L288.6 199.6L286.2 199.3L282.6 197.3L280.1 194.2L278.5 189.4L278.2 183.4L279.3 178.6L280.6 176.2L282.6 173.6L283.8 172.6L286.2 171.7L289.8 172.5L294.7 175.3L297.8 178.6L299.1 182.2L299.4 185.8L299.2 188.2L297.6 193.0L294.7 197.2L293.5 198.2M291.0 190.6L289.8 191.2L287.4 191.1L286.2 190.4L284.7 188.2L284.2 185.8L284.4 183.4L285.7 181.0L287.4 180.0L288.6 179.9L291.0 180.6L292.2 181.6L293.3 183.4L293.3 187.0L292.3 189.4M287.3 128.3L287.5 145.0L288.8 151.0L290.9 154.6L302.1 164.2L306.8 167.3L310.4 168.1L323.8 167.8M294.0 128.3L294.2 141.4L293.3 148.6L294.1 152.2L295.6 154.6L303.2 162.1L305.6 163.8L308.0 165.0L311.6 165.4L323.8 165.1M299.1 128.3L299.4 141.4L297.7 147.4L297.4 149.8L297.9 152.2L299.4 154.6L304.4 160.1L308.0 162.4L311.6 162.9L317.7 162.5L323.8 162.5M305.4 128.3L305.4 134.3L305.9 141.4L305.2 143.8L302.9 147.4L301.9 149.8L301.9 151.0L302.7 153.4L305.6 157.4L308.0 159.3L309.2 159.8L311.6 160.0L317.7 159.5L323.8 159.5" fill="none" stroke="#fff" stroke-opacity="0.35" stroke-width="0.6"/></g>
<path d="M246.5 142.50V221.90M261.5 142.50V221.90M277.5 142.50V221.90M292.5 142.50V221.90M308.5 142.50V221.90M243.80 143.5H309.20M243.80 158.5H309.20M243.80 173.5H309.20M243.80 189.5H309.20M243.80 204.5H309.20M243.80 219.5H309.20" stroke="#000" stroke-opacity="0.17" stroke-width="1" fill="none"/>
<text x="38.60" y="27.30" font-size="6.9" text-anchor="middle" textLength="21.20" lengthAdjust="spacingAndGlyphs" stroke="#222" stroke-width="0.15">AML54</text>
<text x="38.60" y="35.40" font-size="6.6" text-anchor="middle" stroke="#222" stroke-width="0.15">Synergy : 3.9</text>
<text x="85.20" y="27.40" font-size="6.8" text-anchor="end" stroke="#222" stroke-width="0.15">150</text>
<text x="85.20" y="41.90" font-size="6.8" text-anchor="end" stroke="#222" stroke-width="0.15">75</text>
<text x="85.20" y="56.40" font-size="6.8" text-anchor="end" stroke="#222" stroke-width="0.15">37</text>
<text x="85.20" y="70.90" font-size="6.8" text-anchor="end" stroke="#222" stroke-width="0.15">18</text>
<text x="85.20" y="85.40" font-size="6.8" text-anchor="end" stroke="#222" stroke-width="0.15">9</text>
<text x="85.20" y="99.90" font-size="6.8" text-anchor="end" stroke="#222" stroke-width="0.15">0</text>
<text x="90.40" y="108.90" font-size="6.4" text-anchor="middle" stroke="#222" stroke-width="0.15">0</text>
<text x="104.65" y="108.90" font-size="6.4" text-anchor="middle" stroke="#222" stroke-width="0.15">100</text>
<text x="119.60" y="108.90" font-size="6.4" text-anchor="middle" stroke="#222" stroke-width="0.15">300</text>
<text x="135.25" y="108.90" font-size="6.4" text-anchor="middle" stroke="#222" stroke-width="0.15">1000</text>
<text x="150.80" y="108.90" font-size="6.4" text-anchor="middle" stroke="#222" stroke-width="0.15">3000</text>
<text x="120.10" y="120.60" font-size="8.2" text-anchor="middle" textLength="31.00" lengthAdjust="spacingAndGlyphs" stroke="#222" stroke-width="0.15">AraC (nM)</text>
<text x="68.20" y="57.50" font-size="8.2" text-anchor="middle" textLength="30.50" lengthAdjust="spacingAndGlyphs" transform="rotate(-90 68.20 57.50)" stroke="#222" stroke-width="0.15">FX1  (µM)</text>
<text x="195.40" y="27.40" font-size="6.9" text-anchor="middle" textLength="21.20" lengthAdjust="spacingAndGlyphs" stroke="#222" stroke-width="0.15">AML74</text>
<text x="195.40" y="35.50" font-size="6.6" text-anchor="middle" stroke="#222" stroke-width="0.15">Synergy : 0.26</text>
<text x="243.60" y="27.60" font-size="6.8" text-anchor="end" stroke="#222" stroke-width="0.15">150</text>
<text x="243.60" y="42.30" font-size="6.8" text-anchor="end" stroke="#222" stroke-width="0.15">75</text>
<text x="243.60" y="57.00" font-size="6.8" text-anchor="end" stroke="#222" stroke-width="0.15">37</text>
<text x="243.60" y="71.70" font-size="6.8" text-anchor="end" stroke="#222" stroke-width="0.15">18</text>
<text x="243.60" y="86.40" font-size="6.8" text-anchor="end" stroke="#222" stroke-width="0.15">9</text>
<text x="243.60" y="101.10" font-size="6.8" text-anchor="end" stroke="#222" stroke-width="0.15">0</text>
<text x="248.70" y="109.60" font-size="6.4" text-anchor="middle" stroke="#222" stroke-width="0.15">0</text>
<text x="263.15" y="109.60" font-size="6.4" text-anchor="middle" stroke="#222" stroke-width="0.15">100</text>
<text x="278.30" y="109.60" font-size="6.4" text-anchor="middle" stroke="#222" stroke-width="0.15">300</text>
<text x="294.15" y="109.60" font-size="6.4" text-anchor="middle" stroke="#222" stroke-width="0.15">1000</text>
<text x="309.90" y="109.60" font-size="6.4" text-anchor="middle" stroke="#222" stroke-width="0.15">3000</text>
<text x="278.80" y="121.60" font-size="8.2" text-anchor="middle" textLength="31.20" lengthAdjust="spacingAndGlyphs" stroke="#222" stroke-width="0.15">AraC (nM)</text>
<text x="227.60" y="61.70" font-size="8.2" text-anchor="middle" textLength="30.50" lengthAdjust="spacingAndGlyphs" transform="rotate(-90 227.60 61.70)" stroke="#222" stroke-width="0.15">FX1  (µM)</text>
<text x="350.60" y="28.40" font-size="6.9" text-anchor="middle" textLength="21.20" lengthAdjust="spacingAndGlyphs" stroke="#222" stroke-width="0.15">AML95</text>
<text x="350.60" y="36.30" font-size="6.6" text-anchor="middle" stroke="#222" stroke-width="0.15">Synergy : 19</text>
<text x="396.30" y="27.70" font-size="6.8" text-anchor="end" stroke="#222" stroke-width="0.15">150</text>
<text x="396.30" y="42.42" font-size="6.8" text-anchor="end" stroke="#222" stroke-width="0.15">75</text>
<text x="396.30" y="57.14" font-size="6.8" text-anchor="end" stroke="#222" stroke-width="0.15">37</text>
<text x="396.30" y="71.86" font-size="6.8" text-anchor="end" stroke="#222" stroke-width="0.15">18</text>
<text x="396.30" y="86.58" font-size="6.8" text-anchor="end" stroke="#222" stroke-width="0.15">9</text>
<text x="396.30" y="101.30" font-size="6.8" text-anchor="end" stroke="#222" stroke-width="0.15">0</text>
<text x="402.20" y="110.60" font-size="6.4" text-anchor="middle" stroke="#222" stroke-width="0.15">0</text>
<text x="416.80" y="110.60" font-size="6.4" text-anchor="middle" stroke="#222" stroke-width="0.15">100</text>
<text x="432.10" y="110.60" font-size="6.4" text-anchor="middle" stroke="#222" stroke-width="0.15">300</text>
<text x="448.10" y="110.60" font-size="6.4" text-anchor="middle" stroke="#222" stroke-width="0.15">1000</text>
<text x="464.00" y="110.60" font-size="6.4" text-anchor="middle" stroke="#222" stroke-width="0.15">3000</text>
<text x="432.60" y="122.10" font-size="8.2" text-anchor="middle" textLength="31.00" lengthAdjust="spacingAndGlyphs" stroke="#222" stroke-width="0.15">AraC (nM)</text>
<text x="380.20" y="61.90" font-size="8.2" text-anchor="middle" textLength="30.00" lengthAdjust="spacingAndGlyphs" transform="rotate(-90 380.20 61.90)" stroke="#222" stroke-width="0.15">FX1  (µM)</text>
<text x="37.20" y="144.70" font-size="6.9" text-anchor="middle" textLength="21.20" lengthAdjust="spacingAndGlyphs" stroke="#222" stroke-width="0.15">AML98</text>
<text x="37.20" y="152.60" font-size="6.6" text-anchor="middle" stroke="#222" stroke-width="0.15">Synergy : 19</text>
<text x="82.80" y="146.10" font-size="6.8" text-anchor="end" stroke="#222" stroke-width="0.15">150</text>
<text x="82.80" y="161.55" font-size="6.8" text-anchor="end" stroke="#222" stroke-width="0.15">75</text>
<text x="82.80" y="177.00" font-size="6.8" text-anchor="end" stroke="#222" stroke-width="0.15">37</text>
<text x="82.80" y="192.45" font-size="6.8" text-anchor="end" stroke="#222" stroke-width="0.15">18</text>
<text x="82.80" y="207.90" font-size="6.8" text-anchor="end" stroke="#222" stroke-width="0.15">9</text>
<text x="82.80" y="223.35" font-size="6.8" text-anchor="end" stroke="#222" stroke-width="0.15">0</text>
<text x="88.50" y="231.80" font-size="6.4" text-anchor="middle" stroke="#222" stroke-width="0.15">0</text>
<text x="103.80" y="231.80" font-size="6.4" text-anchor="middle" stroke="#222" stroke-width="0.15">100</text>
<text x="119.80" y="231.80" font-size="6.4" text-anchor="middle" stroke="#222" stroke-width="0.15">300</text>
<text x="136.50" y="231.80" font-size="6.4" text-anchor="middle" stroke="#222" stroke-width="0.15">1000</text>
<text x="153.10" y="231.80" font-size="6.4" text-anchor="middle" stroke="#222" stroke-width="0.15">3000</text>
<text x="120.30" y="244.20" font-size="8.2" text-anchor="middle" textLength="31.30" lengthAdjust="spacingAndGlyphs" stroke="#222" stroke-width="0.15">AraC (nM)</text>
<text x="66.60" y="182.30" font-size="8.2" text-anchor="middle" textLength="30.70" lengthAdjust="spacingAndGlyphs" transform="rotate(-90 66.60 182.30)" stroke="#222" stroke-width="0.15">FX1  (µM)</text>
<text x="193.60" y="144.60" font-size="6.9" text-anchor="middle" textLength="25.10" lengthAdjust="spacingAndGlyphs" stroke="#222" stroke-width="0.15">AML109</text>
<text x="193.60" y="152.60" font-size="6.6" text-anchor="middle" stroke="#222" stroke-width="0.15">Synergy : 4.6</text>
<text x="240.30" y="146.30" font-size="6.8" text-anchor="end" stroke="#222" stroke-width="0.15">150</text>
<text x="240.30" y="161.54" font-size="6.8" text-anchor="end" stroke="#222" stroke-width="0.15">75</text>
<text x="240.30" y="176.78" font-size="6.8" text-anchor="end" stroke="#222" stroke-width="0.15">37</text>
<text x="240.30" y="192.02" font-size="6.8" text-anchor="end" stroke="#222" stroke-width="0.15">18</text>
<text x="240.30" y="207.26" font-size="6.8" text-anchor="end" stroke="#222" stroke-width="0.15">9</text>
<text x="240.30" y="222.50" font-size="6.8" text-anchor="end" stroke="#222" stroke-width="0.15">0</text>
<text x="246.00" y="231.60" font-size="6.4" text-anchor="middle" stroke="#222" stroke-width="0.15">0</text>
<text x="260.95" y="231.60" font-size="6.4" text-anchor="middle" stroke="#222" stroke-width="0.15">100</text>
<text x="276.60" y="231.60" font-size="6.4" text-anchor="middle" stroke="#222" stroke-width="0.15">300</text>
<text x="292.95" y="231.60" font-size="6.4" text-anchor="middle" stroke="#222" stroke-width="0.15">1000</text>
<text x="309.20" y="231.60" font-size="6.4" text-anchor="middle" stroke="#222" stroke-width="0.15">3000</text>
<text x="277.10" y="243.80" font-size="8.2" text-anchor="middle" textLength="31.00" lengthAdjust="spacingAndGlyphs" stroke="#222" stroke-width="0.15">AraC (nM)</text>
<text x="223.60" y="181.70" font-size="8.2" text-anchor="middle" textLength="31.00" lengthAdjust="spacingAndGlyphs" transform="rotate(-90 223.60 181.70)" stroke="#222" stroke-width="0.15">FX1  (µM)</text>
<text x="401.90" y="158.80" font-size="8.0" text-anchor="middle" textLength="55.40" lengthAdjust="spacingAndGlyphs" stroke="#222" stroke-width="0.15">HSA synergy score</text>
<text x="362.20" y="170.30" font-size="6.6" text-anchor="middle" stroke="#222" stroke-width="0.15">-20</text>
<text x="381.90" y="170.30" font-size="6.6" text-anchor="middle" stroke="#222" stroke-width="0.15">-10</text>
<text x="400.40" y="170.30" font-size="6.6" text-anchor="middle" stroke="#222" stroke-width="0.15">0</text>
<text x="421.90" y="170.30" font-size="6.6" text-anchor="middle" stroke="#222" stroke-width="0.15">10</text>
<text x="439.80" y="170.30" font-size="6.6" text-anchor="middle" stroke="#222" stroke-width="0.15">20</text>
<rect x="359.80" y="175.60" width="84.60" height="1.80" fill="url(#lg)"/>
<text x="7.00" y="15.70" font-size="12.6" font-weight="bold" fill="#000">A</text>
<text x="7.50" y="271.90" font-size="11.0" font-weight="bold" fill="#000">B</text>
<text x="178.40" y="272.50" font-size="11.4" font-weight="bold" fill="#000">C</text>
<text x="354.00" y="272.40" font-size="11.6" font-weight="bold" fill="#000">D</text>
<text x="7.20" y="462.50" font-size="12.2" font-weight="bold" fill="#000">E</text>
<text x="271.80" y="462.50" font-size="12.2" font-weight="bold" fill="#000">F</text>
<line x1="48.00" y1="288.75" x2="48.00" y2="406.50" stroke="#111" stroke-width="1.0"/>
<line x1="48.00" y1="288.75" x2="162.80" y2="288.75" stroke="#111" stroke-width="1.0"/>
<line x1="45.20" y1="288.75" x2="48.00" y2="288.75" stroke="#111" stroke-width="0.9"/>
<text x="42.60" y="291.05" font-size="6.6" text-anchor="end" stroke="#222" stroke-width="0.15">0</text>
<line x1="45.20" y1="300.27" x2="48.00" y2="300.27" stroke="#111" stroke-width="0.9"/>
<text x="42.60" y="302.57" font-size="6.6" text-anchor="end" stroke="#222" stroke-width="0.15">-0.1</text>
<line x1="45.20" y1="311.80" x2="48.00" y2="311.80" stroke="#111" stroke-width="0.9"/>
<text x="42.60" y="314.10" font-size="6.6" text-anchor="end" stroke="#222" stroke-width="0.15">-0.2</text>
<line x1="45.20" y1="323.32" x2="48.00" y2="323.32" stroke="#111" stroke-width="0.9"/>
<text x="42.60" y="325.62" font-size="6.6" text-anchor="end" stroke="#222" stroke-width="0.15">-0.3</text>
<line x1="45.20" y1="334.85" x2="48.00" y2="334.85" stroke="#111" stroke-width="0.9"/>
<text x="42.60" y="337.15" font-size="6.6" text-anchor="end" stroke="#222" stroke-width="0.15">-0.4</text>
<line x1="45.20" y1="346.38" x2="48.00" y2="346.38" stroke="#111" stroke-width="0.9"/>
<text x="42.60" y="348.68" font-size="6.6" text-anchor="end" stroke="#222" stroke-width="0.15">-0.5</text>
<line x1="45.20" y1="357.90" x2="48.00" y2="357.90" stroke="#111" stroke-width="0.9"/>
<text x="42.60" y="360.20" font-size="6.6" text-anchor="end" stroke="#222" stroke-width="0.15">-0.6</text>
<line x1="45.20" y1="369.43" x2="48.00" y2="369.43" stroke="#111" stroke-width="0.9"/>
<text x="42.60" y="371.73" font-size="6.6" text-anchor="end" stroke="#222" stroke-width="0.15">-0.7</text>
<line x1="45.20" y1="380.95" x2="48.00" y2="380.95" stroke="#111" stroke-width="0.9"/>
<text x="42.60" y="383.25" font-size="6.6" text-anchor="end" stroke="#222" stroke-width="0.15">-0.8</text>
<line x1="45.20" y1="392.48" x2="48.00" y2="392.48" stroke="#111" stroke-width="0.9"/>
<text x="42.60" y="394.78" font-size="6.6" text-anchor="end" stroke="#222" stroke-width="0.15">-0.9</text>
<line x1="45.20" y1="404.00" x2="48.00" y2="404.00" stroke="#111" stroke-width="0.9"/>
<text x="42.60" y="406.30" font-size="6.6" text-anchor="end" stroke="#222" stroke-width="0.15">-1</text>
<text x="62.70" y="283.90" font-size="6.9" text-anchor="middle" textLength="21.20" lengthAdjust="spacingAndGlyphs" stroke="#222" stroke-width="0.15">AML12</text>
<rect x="54.10" y="288.75" width="5.85" height="47.25" fill="rgb(112,176,66)"/>
<line x1="57.02" y1="336.00" x2="57.02" y2="342.92" stroke="#111" stroke-width="0.8"/>
<line x1="55.82" y1="342.92" x2="58.23" y2="342.92" stroke="#111" stroke-width="0.8"/>
<rect x="59.95" y="288.75" width="5.85" height="33.42" fill="rgb(172,4,42)"/>
<line x1="62.88" y1="322.17" x2="62.88" y2="326.78" stroke="#111" stroke-width="0.8"/>
<line x1="61.67" y1="326.78" x2="64.08" y2="326.78" stroke="#111" stroke-width="0.8"/>
<rect x="65.80" y="288.75" width="5.85" height="100.27" fill="rgb(42,72,132)"/>
<line x1="68.72" y1="389.02" x2="68.72" y2="393.63" stroke="#111" stroke-width="0.8"/>
<line x1="67.52" y1="393.63" x2="69.92" y2="393.63" stroke="#111" stroke-width="0.8"/>
<text x="91.50" y="283.90" font-size="6.9" text-anchor="middle" textLength="21.20" lengthAdjust="spacingAndGlyphs" stroke="#222" stroke-width="0.15">AML33</text>
<rect x="82.90" y="288.75" width="5.85" height="67.19" fill="rgb(112,176,66)"/>
<line x1="85.83" y1="355.94" x2="85.83" y2="362.51" stroke="#111" stroke-width="0.8"/>
<line x1="84.62" y1="362.51" x2="87.03" y2="362.51" stroke="#111" stroke-width="0.8"/>
<rect x="88.75" y="288.75" width="5.85" height="36.88" fill="rgb(172,4,42)"/>
<line x1="91.67" y1="325.63" x2="91.67" y2="332.55" stroke="#111" stroke-width="0.8"/>
<line x1="90.47" y1="332.55" x2="92.88" y2="332.55" stroke="#111" stroke-width="0.8"/>
<rect x="94.60" y="288.75" width="5.85" height="78.37" fill="rgb(42,72,132)"/>
<line x1="97.53" y1="367.12" x2="97.53" y2="370.00" stroke="#111" stroke-width="0.8"/>
<line x1="96.33" y1="370.00" x2="98.73" y2="370.00" stroke="#111" stroke-width="0.8"/>
<text x="120.35" y="283.90" font-size="6.9" text-anchor="middle" textLength="23.00" lengthAdjust="spacingAndGlyphs" stroke="#222" stroke-width="0.15">UP1926</text>
<rect x="111.75" y="288.75" width="5.85" height="95.08" fill="rgb(112,176,66)"/>
<line x1="114.67" y1="383.83" x2="114.67" y2="385.56" stroke="#111" stroke-width="0.8"/>
<line x1="113.47" y1="385.56" x2="115.88" y2="385.56" stroke="#111" stroke-width="0.8"/>
<rect x="117.60" y="288.75" width="5.85" height="33.42" fill="rgb(172,4,42)"/>
<line x1="120.52" y1="322.17" x2="120.52" y2="323.32" stroke="#111" stroke-width="0.8"/>
<line x1="119.32" y1="323.32" x2="121.72" y2="323.32" stroke="#111" stroke-width="0.8"/>
<rect x="123.45" y="288.75" width="5.85" height="110.99" fill="rgb(42,72,132)"/>
<text x="149.15" y="283.90" font-size="6.9" text-anchor="middle" textLength="23.60" lengthAdjust="spacingAndGlyphs" stroke="#222" stroke-width="0.15">UP1956</text>
<rect x="140.55" y="288.75" width="5.85" height="16.14" fill="rgb(112,176,66)"/>
<line x1="143.48" y1="304.88" x2="143.48" y2="309.50" stroke="#111" stroke-width="0.8"/>
<line x1="142.28" y1="309.50" x2="144.68" y2="309.50" stroke="#111" stroke-width="0.8"/>
<rect x="146.40" y="288.75" width="5.85" height="66.27" fill="rgb(172,4,42)"/>
<line x1="149.33" y1="355.02" x2="149.33" y2="362.51" stroke="#111" stroke-width="0.8"/>
<line x1="148.13" y1="362.51" x2="150.53" y2="362.51" stroke="#111" stroke-width="0.8"/>
<rect x="152.25" y="288.75" width="5.85" height="60.74" fill="rgb(42,72,132)"/>
<line x1="155.18" y1="349.49" x2="155.18" y2="352.94" stroke="#111" stroke-width="0.8"/>
<line x1="153.98" y1="352.94" x2="156.38" y2="352.94" stroke="#111" stroke-width="0.8"/>
<text x="15.20" y="348.00" font-size="8.0" text-anchor="middle" textLength="105.50" lengthAdjust="spacingAndGlyphs" transform="rotate(-90 15.20 348.00)" stroke="#222" stroke-width="0.15">Relative colony number reduction</text>
<text x="25.00" y="347.80" font-size="8.0" text-anchor="middle" textLength="33.00" lengthAdjust="spacingAndGlyphs" transform="rotate(-90 25.00 347.80)" stroke="#222" stroke-width="0.15">(/ vechicle)</text>
<path d="M67.2 407.5V403.4Q67.2 401.8 68.8 401.8H115.6Q117.2 401.8 117.2 403.4V406.6" fill="none" stroke="#222" stroke-width="0.8"/>
<path d="M67.2 412.6V408.8Q67.2 407.2 68.8 407.2H91.8Q93.4 407.2 93.4 408.8V412.6" fill="none" stroke="#222" stroke-width="0.8"/>
<text x="91.70" y="396.90" font-size="5.2" text-anchor="middle" textLength="7.40" lengthAdjust="spacingAndGlyphs" stroke="#222" stroke-width="0.15">NS</text>
<text x="79.90" y="415.80" font-size="5.2" text-anchor="middle" textLength="7.20" lengthAdjust="spacingAndGlyphs" stroke="#222" stroke-width="0.15">NS</text>
<rect x="51.80" y="421.80" width="3.80" height="3.80" fill="rgb(112,176,66)"/>
<text x="59.60" y="425.90" font-size="6.4" textLength="12.30" lengthAdjust="spacingAndGlyphs" stroke="#222" stroke-width="0.15">RI-BPI</text>
<rect x="82.40" y="421.80" width="3.80" height="3.80" fill="rgb(172,4,42)"/>
<text x="89.70" y="425.90" font-size="6.4" textLength="13.00" lengthAdjust="spacingAndGlyphs" stroke="#222" stroke-width="0.15">AraC</text>
<rect x="108.50" y="421.80" width="3.80" height="3.80" fill="rgb(42,72,132)"/>
<text x="115.80" y="425.90" font-size="6.4" textLength="34.70" lengthAdjust="spacingAndGlyphs" stroke="#222" stroke-width="0.15">RI-BPI + AraC</text>
<path d="M93.6 430.8V433.8Q93.6 435.2 95.0 435.2H118.2Q119.6 435.2 119.6 433.8V430.8" fill="none" stroke="#222" stroke-width="0.8"/>
<text x="126.20" y="435.90" font-size="6.2" textLength="23.60" lengthAdjust="spacingAndGlyphs" stroke="#222" stroke-width="0.15">* p= 0.05</text>
<line x1="219.80" y1="282.00" x2="219.80" y2="384.40" stroke="#222" stroke-width="1.2"/>
<line x1="219.20" y1="383.80" x2="337.80" y2="383.80" stroke="#222" stroke-width="1.2"/>
<line x1="215.80" y1="383.80" x2="219.80" y2="383.80" stroke="#222" stroke-width="1.0"/>
<text x="213.80" y="386.20" font-size="7.0" text-anchor="end" stroke="#222" stroke-width="0.15">0</text>
<line x1="215.80" y1="363.80" x2="219.80" y2="363.80" stroke="#222" stroke-width="1.0"/>
<text x="213.80" y="366.20" font-size="7.0" text-anchor="end" stroke="#222" stroke-width="0.15">20</text>
<line x1="215.80" y1="343.80" x2="219.80" y2="343.80" stroke="#222" stroke-width="1.0"/>
<text x="213.80" y="346.20" font-size="7.0" text-anchor="end" stroke="#222" stroke-width="0.15">40</text>
<line x1="215.80" y1="323.80" x2="219.80" y2="323.80" stroke="#222" stroke-width="1.0"/>
<text x="213.80" y="326.20" font-size="7.0" text-anchor="end" stroke="#222" stroke-width="0.15">60</text>
<line x1="215.80" y1="303.80" x2="219.80" y2="303.80" stroke="#222" stroke-width="1.0"/>
<text x="213.80" y="306.20" font-size="7.0" text-anchor="end" stroke="#222" stroke-width="0.15">80</text>
<line x1="215.80" y1="283.80" x2="219.80" y2="283.80" stroke="#222" stroke-width="1.0"/>
<text x="213.80" y="286.20" font-size="7.0" text-anchor="end" stroke="#222" stroke-width="0.15">100</text>
<rect x="227.00" y="321.30" width="29.20" height="62.50" fill="rgb(74,83,103)"/>
<line x1="241.60" y1="321.30" x2="241.60" y2="316.30" stroke="#333" stroke-width="1.0"/>
<line x1="233.60" y1="316.30" x2="249.60" y2="316.30" stroke="#333" stroke-width="1.0"/>
<line x1="241.60" y1="383.80" x2="241.60" y2="386.60" stroke="#333" stroke-width="1.0"/>
<rect x="264.30" y="331.80" width="29.20" height="52.00" fill="rgb(82,34,98)"/>
<line x1="278.90" y1="331.80" x2="278.90" y2="330.60" stroke="#333" stroke-width="1.0"/>
<line x1="270.90" y1="330.60" x2="286.90" y2="330.60" stroke="#333" stroke-width="1.0"/>
<line x1="278.90" y1="383.80" x2="278.90" y2="386.60" stroke="#333" stroke-width="1.0"/>
<rect x="301.20" y="360.80" width="29.80" height="23.00" fill="rgb(136,126,186)"/>
<line x1="316.10" y1="360.80" x2="316.10" y2="356.80" stroke="#333" stroke-width="1.0"/>
<line x1="308.10" y1="356.80" x2="324.10" y2="356.80" stroke="#333" stroke-width="1.0"/>
<line x1="316.10" y1="383.80" x2="316.10" y2="386.60" stroke="#333" stroke-width="1.0"/>
<path d="M241.6 306.3V298.9H316.5V317.3" fill="none" stroke="#333" stroke-width="1"/>
<path d="M278.6 328.9V321.3H316.5V345.5" fill="none" stroke="#333" stroke-width="1"/>
<text x="278.50" y="283.90" font-size="5.6" text-anchor="middle" textLength="17.80" lengthAdjust="spacingAndGlyphs" stroke="#222" stroke-width="0.15">AML33</text>
<text x="279.30" y="294.30" font-size="7.0" text-anchor="middle" textLength="32.40" lengthAdjust="spacingAndGlyphs" stroke="#222" stroke-width="0.15">**p= 0.004</text>
<text x="297.60" y="316.20" font-size="5.4" text-anchor="middle" textLength="27.30" lengthAdjust="spacingAndGlyphs" stroke="#222" stroke-width="0.15">**p= 0.001</text>
<text x="240.90" y="395.80" font-size="6.8" text-anchor="middle" textLength="13.30" lengthAdjust="spacingAndGlyphs" stroke="#222" stroke-width="0.15">Non-</text>
<text x="241.50" y="403.60" font-size="6.8" text-anchor="middle" textLength="33.00" lengthAdjust="spacingAndGlyphs" stroke="#222" stroke-width="0.15">trasnfected</text>
<text x="278.20" y="395.80" font-size="6.8" text-anchor="middle" textLength="13.80" lengthAdjust="spacingAndGlyphs" stroke="#222" stroke-width="0.15">NTC-</text>
<text x="279.00" y="403.60" font-size="6.8" text-anchor="middle" textLength="18.00" lengthAdjust="spacingAndGlyphs" stroke="#222" stroke-width="0.15">siRNA</text>
<text x="315.00" y="395.80" font-size="6.8" text-anchor="middle" textLength="16.00" lengthAdjust="spacingAndGlyphs" stroke="#222" stroke-width="0.15">BCL6-</text>
<text x="315.50" y="403.60" font-size="6.8" text-anchor="middle" textLength="17.50" lengthAdjust="spacingAndGlyphs" stroke="#222" stroke-width="0.15">siRNA</text>
<text x="186.60" y="328.90" font-size="8.2" text-anchor="middle" textLength="92.90" lengthAdjust="spacingAndGlyphs" transform="rotate(-90 186.60 328.90)" stroke="#222" stroke-width="0.15">% live cells after Ara-C treatment</text>
<text x="197.00" y="332.30" font-size="8.2" text-anchor="middle" textLength="86.00" lengthAdjust="spacingAndGlyphs" transform="rotate(-90 197.00 332.30)" stroke="#222" stroke-width="0.15">relative to untreated control</text>
<line x1="394.50" y1="309.50" x2="394.50" y2="409.50" stroke="#222" stroke-width="1.2"/>
<line x1="392.00" y1="309.50" x2="513.20" y2="309.50" stroke="#222" stroke-width="1.2"/>
<line x1="392.00" y1="409.50" x2="513.80" y2="409.50" stroke="#222" stroke-width="1.2"/>
<line x1="513.20" y1="309.50" x2="513.20" y2="409.50" stroke="#222" stroke-width="1.2"/>
<line x1="391.70" y1="309.50" x2="394.50" y2="309.50" stroke="#222" stroke-width="1.0"/>
<text x="388.40" y="311.70" font-size="6.4" text-anchor="end" stroke="#222" stroke-width="0.15">0.0</text>
<line x1="391.70" y1="329.50" x2="394.50" y2="329.50" stroke="#222" stroke-width="1.0"/>
<text x="388.40" y="331.70" font-size="6.4" text-anchor="end" stroke="#222" stroke-width="0.15">-0.2</text>
<line x1="391.70" y1="349.50" x2="394.50" y2="349.50" stroke="#222" stroke-width="1.0"/>
<text x="388.40" y="351.70" font-size="6.4" text-anchor="end" stroke="#222" stroke-width="0.15">-0.4</text>
<line x1="391.70" y1="369.50" x2="394.50" y2="369.50" stroke="#222" stroke-width="1.0"/>
<text x="388.40" y="371.70" font-size="6.4" text-anchor="end" stroke="#222" stroke-width="0.15">-0.6</text>
<line x1="391.70" y1="389.50" x2="394.50" y2="389.50" stroke="#222" stroke-width="1.0"/>
<text x="388.40" y="391.70" font-size="6.4" text-anchor="end" stroke="#222" stroke-width="0.15">-0.8</text>
<line x1="391.70" y1="409.50" x2="394.50" y2="409.50" stroke="#222" stroke-width="1.0"/>
<text x="388.40" y="411.70" font-size="6.4" text-anchor="end" stroke="#222" stroke-width="0.15">-1.0</text>
<rect x="401.70" y="309.50" width="29.00" height="50.00" fill="rgb(74,83,103)"/>
<line x1="416.20" y1="359.50" x2="416.20" y2="368.00" stroke="#333" stroke-width="1.0"/>
<line x1="408.20" y1="368.00" x2="424.20" y2="368.00" stroke="#333" stroke-width="1.0"/>
<line x1="416.20" y1="409.50" x2="416.20" y2="412.00" stroke="#333" stroke-width="1.0"/>
<rect x="439.30" y="309.50" width="29.10" height="70.00" fill="rgb(82,34,98)"/>
<line x1="453.85" y1="379.50" x2="453.85" y2="383.50" stroke="#333" stroke-width="1.0"/>
<line x1="445.85" y1="383.50" x2="461.85" y2="383.50" stroke="#333" stroke-width="1.0"/>
<line x1="453.85" y1="409.50" x2="453.85" y2="412.00" stroke="#333" stroke-width="1.0"/>
<rect x="476.60" y="309.50" width="28.80" height="89.00" fill="rgb(136,126,186)"/>
<line x1="491.00" y1="398.50" x2="491.00" y2="401.30" stroke="#333" stroke-width="1.0"/>
<line x1="483.00" y1="401.30" x2="499.00" y2="401.30" stroke="#333" stroke-width="1.0"/>
<line x1="491.00" y1="409.50" x2="491.00" y2="412.00" stroke="#333" stroke-width="1.0"/>
<path d="M415.6 306.1V278.7H492.8V284.5" fill="none" stroke="#333" stroke-width="1"/>
<path d="M453.6 306.1V292.6H492.8V304.7" fill="none" stroke="#333" stroke-width="1"/>
<text x="454.00" y="267.30" font-size="6.6" text-anchor="middle" textLength="22.20" lengthAdjust="spacingAndGlyphs" stroke="#222" stroke-width="0.15">AML33</text>
<text x="453.60" y="275.40" font-size="6.6" text-anchor="middle" textLength="33.40" lengthAdjust="spacingAndGlyphs" stroke="#222" stroke-width="0.15">**p= 0.007</text>
<text x="473.80" y="288.30" font-size="6.6" text-anchor="middle" textLength="25.90" lengthAdjust="spacingAndGlyphs" stroke="#222" stroke-width="0.15">*p= 0.04</text>
<text x="416.30" y="422.10" font-size="6.6" text-anchor="middle" textLength="15.00" lengthAdjust="spacingAndGlyphs" stroke="#222" stroke-width="0.15">Non-</text>
<text x="416.50" y="430.00" font-size="6.6" text-anchor="middle" textLength="33.00" lengthAdjust="spacingAndGlyphs" stroke="#222" stroke-width="0.15">trasnfected</text>
<text x="453.40" y="422.10" font-size="6.6" text-anchor="middle" textLength="15.70" lengthAdjust="spacingAndGlyphs" stroke="#222" stroke-width="0.15">NTC-</text>
<text x="454.00" y="430.00" font-size="6.6" text-anchor="middle" textLength="18.00" lengthAdjust="spacingAndGlyphs" stroke="#222" stroke-width="0.15">siRNA</text>
<text x="491.00" y="422.10" font-size="6.6" text-anchor="middle" textLength="18.00" lengthAdjust="spacingAndGlyphs" stroke="#222" stroke-width="0.15">BCL6-</text>
<text x="491.30" y="430.00" font-size="6.6" text-anchor="middle" textLength="17.60" lengthAdjust="spacingAndGlyphs" stroke="#222" stroke-width="0.15">siRNA</text>
<text x="361.60" y="359.20" font-size="8.0" text-anchor="middle" textLength="124.40" lengthAdjust="spacingAndGlyphs" transform="rotate(-90 361.60 359.20)" stroke="#222" stroke-width="0.15">Fold change in CFU after Ara-C treatment</text>
<text x="372.30" y="359.20" font-size="8.0" text-anchor="middle" textLength="52.30" lengthAdjust="spacingAndGlyphs" transform="rotate(-90 372.30 359.20)" stroke="#222" stroke-width="0.15">relative to control</text>
<g clip-path="url(#dc10)"><rect x="29.20" y="478.60" width="73.70" height="77.80" fill="url(#dishbg)"/><rect x="29.20" y="478.60" width="73.70" height="77.80" filter="url(#nz2)" opacity="0.8"/><ellipse cx="65.45" cy="517.50" rx="38.25" ry="39.60" fill="none" stroke="#b4b4b4" stroke-width="2.2"/><ellipse cx="65.65" cy="517.30" rx="39.65" ry="41.00" fill="none" stroke="#222" stroke-width="0.9"/><ellipse cx="65.05" cy="517.80" rx="36.25" ry="37.60" fill="#bebebe"/><g clip-path="url(#di10)"><rect x="29.20" y="478.60" width="73.70" height="77.80" filter="url(#nz3)" opacity="0.1"/><rect x="29.20" y="478.60" width="73.70" height="77.80" fill="url(#tp10)"/><g fill="#666" fill-opacity="0.6"><circle cx="41.45" cy="489.50" r="0.75"/><circle cx="41.45" cy="500.80" r="0.75"/><circle cx="41.45" cy="512.20" r="0.75"/><circle cx="41.45" cy="523.40" r="0.75"/><circle cx="41.45" cy="534.80" r="0.75"/><circle cx="41.45" cy="546.10" r="0.75"/><circle cx="57.05" cy="489.50" r="0.75"/><circle cx="57.05" cy="500.80" r="0.75"/><circle cx="57.05" cy="512.20" r="0.75"/><circle cx="57.05" cy="523.40" r="0.75"/><circle cx="57.05" cy="534.80" r="0.75"/><circle cx="57.05" cy="546.10" r="0.75"/><circle cx="72.35" cy="489.50" r="0.75"/><circle cx="72.35" cy="500.80" r="0.75"/><circle cx="72.35" cy="512.20" r="0.75"/><circle cx="72.35" cy="523.40" r="0.75"/><circle cx="72.35" cy="534.80" r="0.75"/><circle cx="72.35" cy="546.10" r="0.75"/><circle cx="87.65" cy="489.50" r="0.75"/><circle cx="87.65" cy="500.80" r="0.75"/><circle cx="87.65" cy="512.20" r="0.75"/><circle cx="87.65" cy="523.40" r="0.75"/><circle cx="87.65" cy="534.80" r="0.75"/><circle cx="87.65" cy="546.10" r="0.75"/></g><g fill="#444" fill-opacity="0.6"><circle cx="44.8" cy="507.7" r="0.63"/><circle cx="73.5" cy="548.8" r="0.73"/><circle cx="57.2" cy="506.1" r="0.61"/><circle cx="57.0" cy="533.5" r="0.78"/><circle cx="72.3" cy="517.6" r="0.74"/><circle cx="48.1" cy="504.5" r="0.51"/><circle cx="54.5" cy="496.3" r="0.67"/><circle cx="58.5" cy="506.7" r="0.71"/><circle cx="98.7" cy="513.9" r="0.65"/><circle cx="67.2" cy="518.4" r="0.45"/><circle cx="82.7" cy="510.7" r="0.55"/><circle cx="80.5" cy="505.9" r="0.62"/><circle cx="57.0" cy="521.4" r="0.63"/><circle cx="72.6" cy="506.1" r="0.49"/><circle cx="59.4" cy="521.4" r="0.60"/><circle cx="76.6" cy="491.5" r="0.61"/><circle cx="73.2" cy="506.9" r="0.63"/><circle cx="46.3" cy="537.5" r="0.45"/><circle cx="66.8" cy="506.9" r="0.47"/><circle cx="76.9" cy="485.3" r="0.57"/><circle cx="50.4" cy="526.9" r="0.51"/><circle cx="54.3" cy="507.7" r="0.45"/><circle cx="51.6" cy="521.8" r="0.66"/><circle cx="78.1" cy="489.4" r="0.59"/></g></g><ellipse cx="65.05" cy="517.80" rx="36.45" ry="37.80" fill="none" stroke="#050505" stroke-width="2.1"/></g><rect x="72.60" y="512.40" width="15.50" height="12.40" fill="none" stroke="#000" stroke-width="1.5"/>
<g clip-path="url(#dc11)"><rect x="105.50" y="478.60" width="73.00" height="77.80" fill="url(#dishbg)"/><rect x="105.50" y="478.60" width="73.00" height="77.80" filter="url(#nz2)" opacity="0.8"/><ellipse cx="142.40" cy="517.50" rx="37.90" ry="39.60" fill="none" stroke="#b4b4b4" stroke-width="2.2"/><ellipse cx="142.60" cy="517.30" rx="39.30" ry="41.00" fill="none" stroke="#222" stroke-width="0.9"/><ellipse cx="142.00" cy="517.80" rx="35.90" ry="37.60" fill="#bebebe"/><g clip-path="url(#di11)"><rect x="105.50" y="478.60" width="73.00" height="77.80" filter="url(#nz3)" opacity="0.1"/><rect x="105.50" y="478.60" width="73.00" height="77.80" fill="url(#tp11)"/><g fill="#666" fill-opacity="0.6"><circle cx="118.40" cy="489.50" r="0.75"/><circle cx="118.40" cy="500.80" r="0.75"/><circle cx="118.40" cy="512.20" r="0.75"/><circle cx="118.40" cy="523.40" r="0.75"/><circle cx="118.40" cy="534.80" r="0.75"/><circle cx="118.40" cy="546.10" r="0.75"/><circle cx="134.00" cy="489.50" r="0.75"/><circle cx="134.00" cy="500.80" r="0.75"/><circle cx="134.00" cy="512.20" r="0.75"/><circle cx="134.00" cy="523.40" r="0.75"/><circle cx="134.00" cy="534.80" r="0.75"/><circle cx="134.00" cy="546.10" r="0.75"/><circle cx="149.30" cy="489.50" r="0.75"/><circle cx="149.30" cy="500.80" r="0.75"/><circle cx="149.30" cy="512.20" r="0.75"/><circle cx="149.30" cy="523.40" r="0.75"/><circle cx="149.30" cy="534.80" r="0.75"/><circle cx="149.30" cy="546.10" r="0.75"/><circle cx="164.60" cy="489.50" r="0.75"/><circle cx="164.60" cy="500.80" r="0.75"/><circle cx="164.60" cy="512.20" r="0.75"/><circle cx="164.60" cy="523.40" r="0.75"/><circle cx="164.60" cy="534.80" r="0.75"/><circle cx="164.60" cy="546.10" r="0.75"/></g><g fill="#444" fill-opacity="0.6"><circle cx="117.7" cy="525.7" r="0.77"/><circle cx="118.3" cy="523.2" r="0.63"/><circle cx="151.7" cy="541.2" r="0.65"/><circle cx="144.8" cy="507.3" r="0.52"/><circle cx="167.8" cy="535.1" r="0.68"/><circle cx="174.6" cy="527.0" r="0.79"/><circle cx="126.8" cy="494.8" r="0.46"/><circle cx="166.6" cy="520.2" r="0.42"/><circle cx="148.1" cy="534.1" r="0.41"/><circle cx="120.0" cy="523.1" r="0.74"/><circle cx="114.9" cy="514.4" r="0.60"/><circle cx="130.0" cy="497.2" r="0.51"/><circle cx="176.0" cy="517.3" r="0.74"/><circle cx="137.0" cy="498.5" r="0.49"/><circle cx="139.8" cy="527.0" r="0.71"/><circle cx="116.6" cy="537.0" r="0.55"/><circle cx="172.3" cy="509.2" r="0.40"/><circle cx="150.1" cy="550.7" r="0.59"/><circle cx="163.3" cy="515.0" r="0.43"/><circle cx="121.4" cy="494.9" r="0.51"/></g></g><ellipse cx="142.00" cy="517.80" rx="36.10" ry="37.80" fill="none" stroke="#050505" stroke-width="2.1"/></g><rect x="149.50" y="513.10" width="15.20" height="12.50" fill="none" stroke="#000" stroke-width="1.5"/>
<g clip-path="url(#dc12)"><rect x="181.80" y="478.60" width="74.10" height="77.80" fill="url(#dishbg)"/><rect x="181.80" y="478.60" width="74.10" height="77.80" filter="url(#nz2)" opacity="0.8"/><ellipse cx="219.25" cy="517.50" rx="38.45" ry="39.60" fill="none" stroke="#b4b4b4" stroke-width="2.2"/><ellipse cx="219.45" cy="517.30" rx="39.85" ry="41.00" fill="none" stroke="#222" stroke-width="0.9"/><ellipse cx="218.85" cy="517.80" rx="36.45" ry="37.60" fill="#bebebe"/><g clip-path="url(#di12)"><rect x="181.80" y="478.60" width="74.10" height="77.80" filter="url(#nz3)" opacity="0.1"/><rect x="181.80" y="478.60" width="74.10" height="77.80" fill="url(#tp12)"/><g fill="#666" fill-opacity="0.6"><circle cx="195.25" cy="489.50" r="0.75"/><circle cx="195.25" cy="500.80" r="0.75"/><circle cx="195.25" cy="512.20" r="0.75"/><circle cx="195.25" cy="523.40" r="0.75"/><circle cx="195.25" cy="534.80" r="0.75"/><circle cx="195.25" cy="546.10" r="0.75"/><circle cx="210.85" cy="489.50" r="0.75"/><circle cx="210.85" cy="500.80" r="0.75"/><circle cx="210.85" cy="512.20" r="0.75"/><circle cx="210.85" cy="523.40" r="0.75"/><circle cx="210.85" cy="534.80" r="0.75"/><circle cx="210.85" cy="546.10" r="0.75"/><circle cx="226.15" cy="489.50" r="0.75"/><circle cx="226.15" cy="500.80" r="0.75"/><circle cx="226.15" cy="512.20" r="0.75"/><circle cx="226.15" cy="523.40" r="0.75"/><circle cx="226.15" cy="534.80" r="0.75"/><circle cx="226.15" cy="546.10" r="0.75"/><circle cx="241.45" cy="489.50" r="0.75"/><circle cx="241.45" cy="500.80" r="0.75"/><circle cx="241.45" cy="512.20" r="0.75"/><circle cx="241.45" cy="523.40" r="0.75"/><circle cx="241.45" cy="534.80" r="0.75"/><circle cx="241.45" cy="546.10" r="0.75"/></g><g fill="#444" fill-opacity="0.6"><circle cx="191.2" cy="522.4" r="0.67"/><circle cx="221.1" cy="520.7" r="0.55"/><circle cx="214.2" cy="549.5" r="0.68"/><circle cx="198.1" cy="501.9" r="0.66"/><circle cx="232.9" cy="536.5" r="0.46"/><circle cx="225.8" cy="513.0" r="0.73"/><circle cx="244.4" cy="531.2" r="0.53"/><circle cx="192.6" cy="536.3" r="0.41"/><circle cx="249.5" cy="530.5" r="0.60"/><circle cx="247.7" cy="537.0" r="0.78"/><circle cx="236.0" cy="532.9" r="0.45"/><circle cx="208.4" cy="543.8" r="0.47"/><circle cx="216.3" cy="510.2" r="0.47"/><circle cx="227.6" cy="497.1" r="0.57"/><circle cx="199.2" cy="503.8" r="0.55"/><circle cx="247.8" cy="523.6" r="0.79"/><circle cx="246.7" cy="513.5" r="0.54"/><circle cx="200.1" cy="540.3" r="0.67"/><circle cx="231.5" cy="529.1" r="0.55"/><circle cx="187.8" cy="515.5" r="0.60"/><circle cx="249.7" cy="523.5" r="0.57"/><circle cx="202.7" cy="515.8" r="0.57"/><circle cx="195.7" cy="538.0" r="0.44"/><circle cx="205.0" cy="513.2" r="0.68"/><circle cx="236.5" cy="522.1" r="0.54"/><circle cx="213.7" cy="511.6" r="0.58"/><circle cx="223.6" cy="536.1" r="0.59"/><circle cx="242.0" cy="511.5" r="0.78"/><circle cx="235.3" cy="547.6" r="0.55"/><circle cx="230.0" cy="546.4" r="0.76"/><circle cx="236.7" cy="518.6" r="0.71"/><circle cx="209.6" cy="532.5" r="0.40"/><circle cx="245.2" cy="524.8" r="0.79"/><circle cx="243.4" cy="517.6" r="0.41"/><circle cx="205.4" cy="546.2" r="0.73"/><circle cx="208.2" cy="504.7" r="0.61"/><circle cx="191.7" cy="521.8" r="0.51"/><circle cx="249.7" cy="506.7" r="0.46"/><circle cx="210.6" cy="550.0" r="0.51"/><circle cx="242.1" cy="509.0" r="0.68"/><circle cx="214.4" cy="502.0" r="0.51"/><circle cx="218.0" cy="547.3" r="0.68"/><circle cx="240.9" cy="542.5" r="0.57"/><circle cx="220.1" cy="541.3" r="0.79"/><circle cx="193.4" cy="507.4" r="0.77"/><circle cx="248.1" cy="510.4" r="0.57"/><circle cx="191.0" cy="499.9" r="0.72"/><circle cx="201.0" cy="507.7" r="0.55"/><circle cx="216.5" cy="491.1" r="0.41"/><circle cx="210.7" cy="484.9" r="0.72"/></g></g><ellipse cx="218.85" cy="517.80" rx="36.65" ry="37.80" fill="none" stroke="#050505" stroke-width="2.1"/></g><rect x="226.30" y="525.50" width="16.10" height="11.90" fill="none" stroke="#000" stroke-width="1.5"/>
<g clip-path="url(#dc13)"><rect x="29.20" y="559.80" width="73.70" height="77.50" fill="url(#dishbg)"/><rect x="29.20" y="559.80" width="73.70" height="77.50" filter="url(#nz2)" opacity="0.8"/><ellipse cx="65.45" cy="598.55" rx="38.25" ry="39.45" fill="none" stroke="#b4b4b4" stroke-width="2.2"/><ellipse cx="65.65" cy="598.35" rx="39.65" ry="40.85" fill="none" stroke="#222" stroke-width="0.9"/><ellipse cx="65.05" cy="598.85" rx="36.25" ry="37.45" fill="#bebebe"/><g clip-path="url(#di13)"><rect x="29.20" y="559.80" width="73.70" height="77.50" filter="url(#nz3)" opacity="0.1"/><rect x="29.20" y="559.80" width="73.70" height="77.50" fill="url(#tp13)"/><g fill="#666" fill-opacity="0.6"><circle cx="41.45" cy="570.55" r="0.75"/><circle cx="41.45" cy="581.85" r="0.75"/><circle cx="41.45" cy="593.25" r="0.75"/><circle cx="41.45" cy="604.45" r="0.75"/><circle cx="41.45" cy="615.85" r="0.75"/><circle cx="41.45" cy="627.15" r="0.75"/><circle cx="57.05" cy="570.55" r="0.75"/><circle cx="57.05" cy="581.85" r="0.75"/><circle cx="57.05" cy="593.25" r="0.75"/><circle cx="57.05" cy="604.45" r="0.75"/><circle cx="57.05" cy="615.85" r="0.75"/><circle cx="57.05" cy="627.15" r="0.75"/><circle cx="72.35" cy="570.55" r="0.75"/><circle cx="72.35" cy="581.85" r="0.75"/><circle cx="72.35" cy="593.25" r="0.75"/><circle cx="72.35" cy="604.45" r="0.75"/><circle cx="72.35" cy="615.85" r="0.75"/><circle cx="72.35" cy="627.15" r="0.75"/><circle cx="87.65" cy="570.55" r="0.75"/><circle cx="87.65" cy="581.85" r="0.75"/><circle cx="87.65" cy="593.25" r="0.75"/><circle cx="87.65" cy="604.45" r="0.75"/><circle cx="87.65" cy="615.85" r="0.75"/><circle cx="87.65" cy="627.15" r="0.75"/></g><g fill="#444" fill-opacity="0.6"><circle cx="63.4" cy="628.2" r="0.67"/><circle cx="73.7" cy="586.4" r="0.49"/><circle cx="74.9" cy="612.3" r="0.69"/><circle cx="82.2" cy="617.8" r="0.49"/><circle cx="58.8" cy="621.3" r="0.74"/><circle cx="61.8" cy="596.2" r="0.51"/><circle cx="84.5" cy="625.3" r="0.72"/><circle cx="75.8" cy="568.5" r="0.70"/><circle cx="94.1" cy="588.9" r="0.50"/><circle cx="79.1" cy="578.8" r="0.70"/></g></g><ellipse cx="65.05" cy="598.85" rx="36.45" ry="37.65" fill="none" stroke="#050505" stroke-width="2.1"/></g><rect x="58.10" y="594.20" width="15.90" height="12.60" fill="none" stroke="#000" stroke-width="1.5"/>
<g clip-path="url(#dc14)"><rect x="105.50" y="559.80" width="73.00" height="77.50" fill="url(#dishbg)"/><rect x="105.50" y="559.80" width="73.00" height="77.50" filter="url(#nz2)" opacity="0.8"/><ellipse cx="142.40" cy="598.55" rx="37.90" ry="39.45" fill="none" stroke="#b4b4b4" stroke-width="2.2"/><ellipse cx="142.60" cy="598.35" rx="39.30" ry="40.85" fill="none" stroke="#222" stroke-width="0.9"/><ellipse cx="142.00" cy="598.85" rx="35.90" ry="37.45" fill="#bebebe"/><g clip-path="url(#di14)"><rect x="105.50" y="559.80" width="73.00" height="77.50" filter="url(#nz3)" opacity="0.1"/><rect x="105.50" y="559.80" width="73.00" height="77.50" fill="url(#tp14)"/><g fill="#666" fill-opacity="0.6"><circle cx="118.40" cy="570.55" r="0.75"/><circle cx="118.40" cy="581.85" r="0.75"/><circle cx="118.40" cy="593.25" r="0.75"/><circle cx="118.40" cy="604.45" r="0.75"/><circle cx="118.40" cy="615.85" r="0.75"/><circle cx="118.40" cy="627.15" r="0.75"/><circle cx="134.00" cy="570.55" r="0.75"/><circle cx="134.00" cy="581.85" r="0.75"/><circle cx="134.00" cy="593.25" r="0.75"/><circle cx="134.00" cy="604.45" r="0.75"/><circle cx="134.00" cy="615.85" r="0.75"/><circle cx="134.00" cy="627.15" r="0.75"/><circle cx="149.30" cy="570.55" r="0.75"/><circle cx="149.30" cy="581.85" r="0.75"/><circle cx="149.30" cy="593.25" r="0.75"/><circle cx="149.30" cy="604.45" r="0.75"/><circle cx="149.30" cy="615.85" r="0.75"/><circle cx="149.30" cy="627.15" r="0.75"/><circle cx="164.60" cy="570.55" r="0.75"/><circle cx="164.60" cy="581.85" r="0.75"/><circle cx="164.60" cy="593.25" r="0.75"/><circle cx="164.60" cy="604.45" r="0.75"/><circle cx="164.60" cy="615.85" r="0.75"/><circle cx="164.60" cy="627.15" r="0.75"/></g><g fill="#444" fill-opacity="0.6"><circle cx="164.4" cy="617.4" r="0.66"/><circle cx="158.5" cy="592.1" r="0.50"/><circle cx="139.2" cy="570.2" r="0.52"/><circle cx="133.4" cy="578.4" r="0.71"/><circle cx="153.8" cy="610.2" r="0.76"/><circle cx="131.1" cy="613.0" r="0.72"/><circle cx="133.1" cy="588.7" r="0.62"/><circle cx="134.9" cy="586.5" r="0.66"/><circle cx="156.2" cy="613.3" r="0.43"/><circle cx="151.5" cy="632.6" r="0.56"/></g></g><ellipse cx="142.00" cy="598.85" rx="36.10" ry="37.65" fill="none" stroke="#050505" stroke-width="2.1"/></g><rect x="134.80" y="594.10" width="15.80" height="12.60" fill="none" stroke="#000" stroke-width="1.5"/>
<g clip-path="url(#dc15)"><rect x="181.80" y="559.80" width="74.10" height="77.50" fill="url(#dishbg)"/><rect x="181.80" y="559.80" width="74.10" height="77.50" filter="url(#nz2)" opacity="0.8"/><ellipse cx="219.25" cy="598.55" rx="38.45" ry="39.45" fill="none" stroke="#b4b4b4" stroke-width="2.2"/><ellipse cx="219.45" cy="598.35" rx="39.85" ry="40.85" fill="none" stroke="#222" stroke-width="0.9"/><ellipse cx="218.85" cy="598.85" rx="36.45" ry="37.45" fill="#bebebe"/><g clip-path="url(#di15)"><rect x="181.80" y="559.80" width="74.10" height="77.50" filter="url(#nz3)" opacity="0.1"/><rect x="181.80" y="559.80" width="74.10" height="77.50" fill="url(#tp15)"/><g fill="#666" fill-opacity="0.6"><circle cx="195.25" cy="570.55" r="0.75"/><circle cx="195.25" cy="581.85" r="0.75"/><circle cx="195.25" cy="593.25" r="0.75"/><circle cx="195.25" cy="604.45" r="0.75"/><circle cx="195.25" cy="615.85" r="0.75"/><circle cx="195.25" cy="627.15" r="0.75"/><circle cx="210.85" cy="570.55" r="0.75"/><circle cx="210.85" cy="581.85" r="0.75"/><circle cx="210.85" cy="593.25" r="0.75"/><circle cx="210.85" cy="604.45" r="0.75"/><circle cx="210.85" cy="615.85" r="0.75"/><circle cx="210.85" cy="627.15" r="0.75"/><circle cx="226.15" cy="570.55" r="0.75"/><circle cx="226.15" cy="581.85" r="0.75"/><circle cx="226.15" cy="593.25" r="0.75"/><circle cx="226.15" cy="604.45" r="0.75"/><circle cx="226.15" cy="615.85" r="0.75"/><circle cx="226.15" cy="627.15" r="0.75"/><circle cx="241.45" cy="570.55" r="0.75"/><circle cx="241.45" cy="581.85" r="0.75"/><circle cx="241.45" cy="593.25" r="0.75"/><circle cx="241.45" cy="604.45" r="0.75"/><circle cx="241.45" cy="615.85" r="0.75"/><circle cx="241.45" cy="627.15" r="0.75"/></g><g fill="#444" fill-opacity="0.6"><circle cx="222.5" cy="598.0" r="0.69"/><circle cx="237.6" cy="628.4" r="0.41"/><circle cx="239.6" cy="578.7" r="0.74"/><circle cx="235.8" cy="598.8" r="0.54"/><circle cx="214.1" cy="580.7" r="0.51"/><circle cx="223.1" cy="631.5" r="0.75"/></g></g><ellipse cx="218.85" cy="598.85" rx="36.65" ry="37.65" fill="none" stroke="#050505" stroke-width="2.1"/></g><rect x="227.00" y="594.10" width="15.80" height="12.20" fill="none" stroke="#000" stroke-width="1.5"/>
<text x="65.70" y="474.30" font-size="6.4" text-anchor="middle" textLength="5.90" lengthAdjust="spacingAndGlyphs" stroke="#222" stroke-width="0.15">(-)</text>
<text x="138.30" y="474.30" font-size="6.6" text-anchor="middle" textLength="34.00" lengthAdjust="spacingAndGlyphs" stroke="#222" stroke-width="0.15">NTC-siRNA</text>
<text x="215.10" y="474.30" font-size="6.6" text-anchor="middle" textLength="36.60" lengthAdjust="spacingAndGlyphs" stroke="#222" stroke-width="0.15">BCL6-siRNA</text>
<text x="22.60" y="520.00" font-size="6.8" text-anchor="middle" textLength="29.70" lengthAdjust="spacingAndGlyphs" transform="rotate(-90 22.60 520.00)" stroke="#222" stroke-width="0.15">Untreated</text>
<text x="12.60" y="555.00" font-size="6.8" text-anchor="middle" textLength="33.30" lengthAdjust="spacingAndGlyphs" transform="rotate(-90 12.60 555.00)" stroke="#222" stroke-width="0.15">All Fields</text>
<text x="23.40" y="598.00" font-size="6.8" text-anchor="middle" textLength="16.10" lengthAdjust="spacingAndGlyphs" transform="rotate(-90 23.40 598.00)" stroke="#222" stroke-width="0.15">AraC</text>
<text x="242.40" y="623.60" font-size="8.6" text-anchor="middle" font-weight="bold" textLength="27.00" lengthAdjust="spacingAndGlyphs" fill="#000">10 mm</text>
<rect x="233.10" y="627.30" width="18.40" height="1.50" fill="#000"/>
<g clip-path="url(#fc30)"><rect x="293.20" y="481.60" width="68.60" height="60.10" fill="#bcbcbc"/><rect x="293.20" y="481.60" width="68.60" height="60.10" filter="url(#nz2)" opacity="0.12"/><rect x="293.20" y="481.60" width="68.60" height="60.10" filter="url(#nzf)" opacity="0.22"/><g fill="#111" filter="url(#b1)"><ellipse cx="293.8" cy="485.6" rx="1.3" ry="4.5" fill-opacity="0.75"/><ellipse cx="293.8" cy="537.7" rx="1.3" ry="4.5" fill-opacity="0.75"/></g><rect x="360.30" y="481.60" width="1.5" height="60.10" fill="#000" fill-opacity="0.12"/><rect x="293.20" y="481.60" width="1" height="60.10" fill="#000" fill-opacity="0.1"/><circle cx="300.6" cy="490.3" r="0.9" fill="#333" fill-opacity="0.6" filter="url(#b05)"/><circle cx="303.3" cy="494.4" r="1.0" fill="#333" fill-opacity="0.65" filter="url(#b05)"/><circle cx="314.1" cy="494.8" r="2.6" fill="#333" fill-opacity="0.22" filter="url(#b1)"/><circle cx="297.9" cy="507.8" r="3.6" fill="#333" fill-opacity="0.3" filter="url(#b2)"/><circle cx="320.8" cy="509.9" r="3.0" fill="#333" fill-opacity="0.22" filter="url(#b1)"/><circle cx="314.7" cy="524.4" r="1.2" fill="#333" fill-opacity="0.85" filter="url(#b05)"/><circle cx="310.7" cy="515.2" r="0.7" fill="#333" fill-opacity="0.4" filter="url(#b05)"/><circle cx="353.1" cy="525.3" r="1.8" fill="#333" fill-opacity="0.3" filter="url(#b1)"/><circle cx="348.4" cy="491.7" r="1.0" fill="#333" fill-opacity="0.3" filter="url(#b05)"/><circle cx="339.6" cy="499.8" r="2.5" fill="#333" fill-opacity="0.12" filter="url(#b1)"/><circle cx="337.6" cy="513.9" r="2.5" fill="#333" fill-opacity="0.12" filter="url(#b1)"/><circle cx="325.5" cy="538.8" r="0.8" fill="#333" fill-opacity="0.4" filter="url(#b05)"/><circle cx="306.7" cy="540.8" r="1.0" fill="#333" fill-opacity="0.3" filter="url(#b05)"/></g>
<g clip-path="url(#fc40)"><rect x="293.20" y="543.80" width="68.60" height="60.60" fill="#c7c7c7"/><ellipse cx="320.6" cy="571.1" rx="24.0" ry="18.2" fill="#fff" fill-opacity="0.12" filter="url(#b6)"/><rect x="293.20" y="543.80" width="68.60" height="60.60" filter="url(#nz2)" opacity="0.12"/><rect x="293.20" y="543.80" width="68.60" height="60.60" filter="url(#nzf)" opacity="0.22"/><g fill="#111" filter="url(#b1)"><ellipse cx="293.8" cy="547.8" rx="1.3" ry="4.5" fill-opacity="0.75"/><ellipse cx="293.8" cy="600.4" rx="1.3" ry="4.5" fill-opacity="0.75"/></g><rect x="360.30" y="543.80" width="1.5" height="60.60" fill="#000" fill-opacity="0.12"/><rect x="293.20" y="543.80" width="1" height="60.60" fill="#000" fill-opacity="0.1"/><circle cx="322.2" cy="576.8" r="2.3" fill="#333" fill-opacity="0.2" filter="url(#b1)"/></g>
<g clip-path="url(#fc31)"><rect x="364.10" y="481.60" width="68.50" height="60.10" fill="#bcbcbc"/><rect x="364.10" y="481.60" width="68.50" height="60.10" filter="url(#nz2)" opacity="0.12"/><rect x="364.10" y="481.60" width="68.50" height="60.10" filter="url(#nzf)" opacity="0.22"/><g fill="#111" filter="url(#b1)"><ellipse cx="364.7" cy="485.6" rx="1.3" ry="4.5" fill-opacity="0.75"/><ellipse cx="364.7" cy="537.7" rx="1.3" ry="4.5" fill-opacity="0.75"/></g><rect x="431.10" y="481.60" width="1.5" height="60.10" fill="#000" fill-opacity="0.12"/><rect x="364.10" y="481.60" width="1" height="60.10" fill="#000" fill-opacity="0.1"/><circle cx="411.1" cy="495.1" r="3.0" fill="#333" fill-opacity="0.18" filter="url(#b1)"/><circle cx="406.5" cy="514.6" r="2.5" fill="#333" fill-opacity="0.2" filter="url(#b1)"/><circle cx="397.1" cy="496.4" r="0.9" fill="#333" fill-opacity="0.45" filter="url(#b05)"/><circle cx="398.1" cy="518.2" r="0.8" fill="#333" fill-opacity="0.4" filter="url(#b05)"/><circle cx="379.1" cy="532.6" r="1.0" fill="#333" fill-opacity="0.4" filter="url(#b05)"/><circle cx="384.1" cy="509.6" r="0.7" fill="#333" fill-opacity="0.3" filter="url(#b05)"/><circle cx="419.1" cy="526.6" r="0.7" fill="#333" fill-opacity="0.3" filter="url(#b05)"/></g>
<g clip-path="url(#fc41)"><rect x="364.10" y="543.80" width="68.50" height="60.60" fill="#c7c7c7"/><ellipse cx="391.5" cy="571.1" rx="24.0" ry="18.2" fill="#fff" fill-opacity="0.12" filter="url(#b6)"/><rect x="364.10" y="543.80" width="68.50" height="60.60" filter="url(#nz2)" opacity="0.12"/><rect x="364.10" y="543.80" width="68.50" height="60.60" filter="url(#nzf)" opacity="0.22"/><g fill="#111" filter="url(#b1)"><ellipse cx="364.7" cy="547.8" rx="1.3" ry="4.5" fill-opacity="0.75"/><ellipse cx="364.7" cy="600.4" rx="1.3" ry="4.5" fill-opacity="0.75"/></g><rect x="431.10" y="543.80" width="1.5" height="60.60" fill="#000" fill-opacity="0.12"/><rect x="364.10" y="543.80" width="1" height="60.60" fill="#000" fill-opacity="0.1"/><circle cx="403.1" cy="576.8" r="2.3" fill="#333" fill-opacity="0.2" filter="url(#b1)"/></g>
<g clip-path="url(#fc32)"><rect x="435.20" y="481.60" width="68.60" height="60.10" fill="#bcbcbc"/><rect x="435.20" y="481.60" width="68.60" height="60.10" filter="url(#nz2)" opacity="0.12"/><rect x="435.20" y="481.60" width="68.60" height="60.10" filter="url(#nzf)" opacity="0.22"/><g fill="#111" filter="url(#b1)"><ellipse cx="435.8" cy="485.6" rx="1.3" ry="4.5" fill-opacity="0.75"/><ellipse cx="435.8" cy="537.7" rx="1.3" ry="4.5" fill-opacity="0.75"/></g><rect x="502.30" y="481.60" width="1.5" height="60.10" fill="#000" fill-opacity="0.12"/><rect x="435.20" y="481.60" width="1" height="60.10" fill="#000" fill-opacity="0.1"/><circle cx="478.9" cy="495.7" r="1.1" fill="#333" fill-opacity="0.65" filter="url(#b05)"/><circle cx="480.2" cy="491.1" r="0.9" fill="#333" fill-opacity="0.55" filter="url(#b05)"/><circle cx="453.2" cy="492.4" r="1.1" fill="#333" fill-opacity="0.45" filter="url(#b05)"/><circle cx="466.8" cy="512.6" r="1.5" fill="#333" fill-opacity="0.45" filter="url(#b1)"/><circle cx="493.2" cy="524.2" r="1.1" fill="#333" fill-opacity="0.5" filter="url(#b05)"/><circle cx="482.2" cy="528.6" r="1.1" fill="#333" fill-opacity="0.5" filter="url(#b05)"/><circle cx="446.2" cy="532.1" r="1.4" fill="#333" fill-opacity="0.5" filter="url(#b05)"/><circle cx="463.7" cy="482.4" r="1.0" fill="#333" fill-opacity="0.5" filter="url(#b05)"/><circle cx="479.2" cy="513.6" r="2.8" fill="#333" fill-opacity="0.15" filter="url(#b1)"/><circle cx="440.2" cy="495.6" r="1.2" fill="#333" fill-opacity="0.3" filter="url(#b05)"/><circle cx="460.2" cy="501.6" r="0.8" fill="#333" fill-opacity="0.3" filter="url(#b05)"/><circle cx="498.2" cy="501.6" r="0.8" fill="#333" fill-opacity="0.3" filter="url(#b05)"/><circle cx="471.2" cy="536.6" r="0.8" fill="#333" fill-opacity="0.3" filter="url(#b05)"/></g>
<g clip-path="url(#fc42)"><rect x="435.20" y="543.80" width="68.60" height="60.60" fill="#c7c7c7"/><ellipse cx="462.6" cy="571.1" rx="24.0" ry="18.2" fill="#fff" fill-opacity="0.12" filter="url(#b6)"/><rect x="435.20" y="543.80" width="68.60" height="60.60" filter="url(#nz2)" opacity="0.12"/><rect x="435.20" y="543.80" width="68.60" height="60.60" filter="url(#nzf)" opacity="0.22"/><g fill="#111" filter="url(#b1)"><ellipse cx="435.8" cy="547.8" rx="1.3" ry="4.5" fill-opacity="0.75"/><ellipse cx="435.8" cy="600.4" rx="1.3" ry="4.5" fill-opacity="0.75"/></g><rect x="502.30" y="543.80" width="1.5" height="60.60" fill="#000" fill-opacity="0.12"/><rect x="435.20" y="543.80" width="1" height="60.60" fill="#000" fill-opacity="0.1"/><circle cx="472.2" cy="578.8" r="2.3" fill="#333" fill-opacity="0.15" filter="url(#b1)"/></g>
<text x="325.20" y="474.30" font-size="6.4" text-anchor="middle" textLength="5.90" lengthAdjust="spacingAndGlyphs" stroke="#222" stroke-width="0.15">(-)</text>
<text x="392.80" y="474.30" font-size="6.6" text-anchor="middle" textLength="34.30" lengthAdjust="spacingAndGlyphs" stroke="#222" stroke-width="0.15">NTC-siRNA</text>
<text x="469.80" y="474.30" font-size="6.6" text-anchor="middle" textLength="36.40" lengthAdjust="spacingAndGlyphs" stroke="#222" stroke-width="0.15">BCL6-siRNA</text>
<text x="287.60" y="513.30" font-size="6.8" text-anchor="middle" textLength="30.30" lengthAdjust="spacingAndGlyphs" transform="rotate(-90 287.60 513.30)" stroke="#222" stroke-width="0.15">Untreated</text>
<text x="277.60" y="543.00" font-size="6.8" text-anchor="middle" textLength="61.50" lengthAdjust="spacingAndGlyphs" transform="rotate(-90 277.60 543.00)" stroke="#222" stroke-width="0.15">Zoomed Single Field</text>
<text x="288.00" y="576.50" font-size="6.8" text-anchor="middle" textLength="15.70" lengthAdjust="spacingAndGlyphs" transform="rotate(-90 288.00 576.50)" stroke="#222" stroke-width="0.15">AraC</text>
<text x="487.70" y="596.10" font-size="8.0" text-anchor="middle" font-weight="bold" textLength="20.70" lengthAdjust="spacingAndGlyphs" fill="#000">2 mm</text>
<rect x="481.30" y="598.50" width="17.30" height="1.50" fill="#000"/>
<rect x="0.6" y="0.6" width="518.8" height="643.4" fill="none" stroke="#222" stroke-width="1.3"/>
</svg></body></html>
